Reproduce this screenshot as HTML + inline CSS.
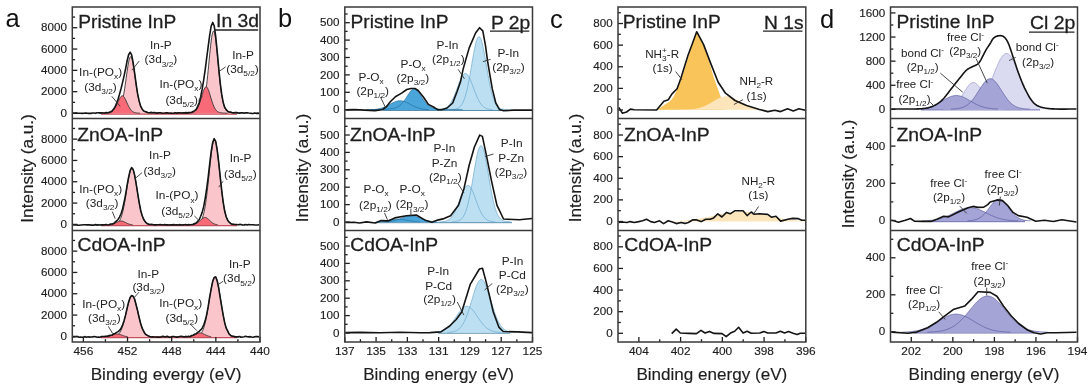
<!DOCTYPE html>
<html><head><meta charset="utf-8"><style>
html,body{margin:0;padding:0;background:#fff;}
svg{display:block;will-change:transform;}
text{font-family:"Liberation Sans",sans-serif;}
</style></head><body>
<svg width="1091" height="389" viewBox="0 0 1091 389">
<rect width="1091" height="389" fill="#fff"/>
<rect x="101.00" y="112.60" width="136.00" height="1.40" fill="#f86a77"/>
<line x1="101.00" y1="114.00" x2="237.00" y2="114.00" stroke="#c4505b" stroke-width="1.3"/>
<rect x="101.00" y="224.20" width="136.00" height="1.40" fill="#f86a77"/>
<line x1="101.00" y1="225.60" x2="237.00" y2="225.60" stroke="#c4505b" stroke-width="1.3"/>
<rect x="101.00" y="336.10" width="136.00" height="1.40" fill="#f86a77"/>
<line x1="101.00" y1="337.50" x2="237.00" y2="337.50" stroke="#c4505b" stroke-width="1.3"/>
<path d="M98.61,113.16 L99.11,113.15 L99.61,113.14 L100.11,113.13 L100.61,113.12 L101.12,113.12 L101.62,113.11 L102.12,113.10 L102.62,113.09 L103.12,113.07 L103.62,113.06 L104.12,113.05 L104.62,113.04 L105.12,113.02 L105.62,113.01 L106.12,112.99 L106.62,112.98 L107.12,112.96 L107.62,112.94 L108.12,112.92 L108.62,112.90 L109.12,112.88 L109.62,112.86 L110.12,112.83 L110.62,112.80 L111.12,112.77 L111.62,112.73 L112.12,112.70 L112.62,112.65 L113.12,112.60 L113.62,112.54 L114.12,112.47 L114.62,112.38 L115.12,112.27 L115.62,112.14 L116.12,111.97 L116.62,111.76 L117.12,111.49 L117.62,111.16 L118.12,110.74 L118.62,110.23 L119.12,109.59 L119.62,108.81 L120.13,107.86 L120.63,106.73 L121.13,105.38 L121.63,103.79 L122.13,101.96 L122.63,99.86 L123.13,97.49 L123.63,94.85 L124.13,91.95 L124.63,88.82 L125.13,85.49 L125.63,82.02 L126.13,78.45 L126.63,74.87 L127.13,71.36 L127.63,68.01 L128.13,64.91 L128.63,62.17 L129.13,59.89 L129.63,58.16 L130.13,57.05 L130.63,56.61 L131.13,56.86 L131.63,57.79 L132.13,59.36 L132.63,61.49 L133.13,64.11 L133.63,67.12 L134.13,70.41 L134.63,73.89 L135.13,77.46 L135.63,81.04 L136.13,84.55 L136.63,87.92 L137.13,91.11 L137.63,94.07 L138.13,96.78 L138.64,99.23 L139.14,101.40 L139.64,103.31 L140.14,104.96 L140.64,106.38 L141.14,107.57 L141.64,108.57 L142.14,109.39 L142.64,110.06 L143.14,110.61 L143.64,111.05 L144.14,111.41 L144.64,111.69 L145.14,111.91 L145.64,112.09 L146.14,112.24 L146.64,112.35 L147.14,112.44 L147.64,112.52 L148.14,112.58 L148.64,112.64 L149.14,112.68 L149.64,112.72 L150.14,112.76 L150.64,112.79 L151.14,112.82 L151.64,112.85 L152.14,112.87 L152.64,112.90 L153.14,112.92 L153.64,112.94 L154.14,112.96 L154.64,112.97 L155.14,112.99 L155.64,113.00 L156.14,113.02 L156.64,113.03 L157.15,113.05 L157.65,113.06 L158.15,113.07 L158.65,113.08 L159.15,113.09 L159.65,113.10 L160.15,113.11 L160.65,113.12 L161.15,113.13 L161.65,113.14 L162.15,113.15 L162.65,113.15 L162.65,113.40 L98.61,113.40 Z" fill="#fac6cc" fill-opacity="1.0" stroke="none"/>
<path d="M98.61,113.16 L99.11,113.15 L99.61,113.14 L100.11,113.13 L100.61,113.12 L101.12,113.12 L101.62,113.11 L102.12,113.10 L102.62,113.09 L103.12,113.07 L103.62,113.06 L104.12,113.05 L104.62,113.04 L105.12,113.02 L105.62,113.01 L106.12,112.99 L106.62,112.98 L107.12,112.96 L107.62,112.94 L108.12,112.92 L108.62,112.90 L109.12,112.88 L109.62,112.86 L110.12,112.83 L110.62,112.80 L111.12,112.77 L111.62,112.73 L112.12,112.70 L112.62,112.65 L113.12,112.60 L113.62,112.54 L114.12,112.47 L114.62,112.38 L115.12,112.27 L115.62,112.14 L116.12,111.97 L116.62,111.76 L117.12,111.49 L117.62,111.16 L118.12,110.74 L118.62,110.23 L119.12,109.59 L119.62,108.81 L120.13,107.86 L120.63,106.73 L121.13,105.38 L121.63,103.79 L122.13,101.96 L122.63,99.86 L123.13,97.49 L123.63,94.85 L124.13,91.95 L124.63,88.82 L125.13,85.49 L125.63,82.02 L126.13,78.45 L126.63,74.87 L127.13,71.36 L127.63,68.01 L128.13,64.91 L128.63,62.17 L129.13,59.89 L129.63,58.16 L130.13,57.05 L130.63,56.61 L131.13,56.86 L131.63,57.79 L132.13,59.36 L132.63,61.49 L133.13,64.11 L133.63,67.12 L134.13,70.41 L134.63,73.89 L135.13,77.46 L135.63,81.04 L136.13,84.55 L136.63,87.92 L137.13,91.11 L137.63,94.07 L138.13,96.78 L138.64,99.23 L139.14,101.40 L139.64,103.31 L140.14,104.96 L140.64,106.38 L141.14,107.57 L141.64,108.57 L142.14,109.39 L142.64,110.06 L143.14,110.61 L143.64,111.05 L144.14,111.41 L144.64,111.69 L145.14,111.91 L145.64,112.09 L146.14,112.24 L146.64,112.35 L147.14,112.44 L147.64,112.52 L148.14,112.58 L148.64,112.64 L149.14,112.68 L149.64,112.72 L150.14,112.76 L150.64,112.79 L151.14,112.82 L151.64,112.85 L152.14,112.87 L152.64,112.90 L153.14,112.92 L153.64,112.94 L154.14,112.96 L154.64,112.97 L155.14,112.99 L155.64,113.00 L156.14,113.02 L156.64,113.03 L157.15,113.05 L157.65,113.06 L158.15,113.07 L158.65,113.08 L159.15,113.09 L159.65,113.10 L160.15,113.11 L160.65,113.12 L161.15,113.13 L161.65,113.14 L162.15,113.15 L162.65,113.15" fill="none" stroke="#333" stroke-width="0.9"/>
<path d="M104.62,113.16 L105.12,113.14 L105.62,113.12 L106.12,113.09 L106.62,113.06 L107.12,113.02 L107.62,112.97 L108.12,112.91 L108.62,112.83 L109.12,112.73 L109.62,112.61 L110.12,112.45 L110.62,112.26 L111.12,112.03 L111.62,111.75 L112.12,111.41 L112.62,111.01 L113.12,110.53 L113.62,109.98 L114.12,109.35 L114.62,108.63 L115.12,107.83 L115.62,106.95 L116.12,105.99 L116.62,104.97 L117.12,103.90 L117.62,102.80 L118.12,101.69 L118.62,100.60 L119.12,99.55 L119.62,98.57 L120.13,97.69 L120.63,96.95 L121.13,96.38 L121.63,95.99 L122.13,95.81 L122.63,95.85 L123.13,96.09 L123.63,96.54 L124.13,97.16 L124.63,97.95 L125.13,98.86 L125.63,99.86 L126.13,100.93 L126.63,102.03 L127.13,103.14 L127.63,104.23 L128.13,105.29 L128.63,106.29 L129.13,107.22 L129.63,108.08 L130.13,108.86 L130.63,109.55 L131.13,110.16 L131.63,110.69 L132.13,111.14 L132.63,111.52 L133.13,111.84 L133.63,112.11 L134.13,112.33 L134.63,112.50 L135.13,112.65 L135.63,112.76 L136.13,112.85 L136.63,112.93 L137.13,112.98 L137.63,113.03 L138.13,113.07 L138.64,113.10 L139.14,113.12 L139.64,113.14 L140.14,113.16 L140.14,113.40 L104.62,113.40 Z" fill="#f86a77" fill-opacity="1.0" stroke="none"/>
<path d="M104.62,113.16 L105.12,113.14 L105.62,113.12 L106.12,113.09 L106.62,113.06 L107.12,113.02 L107.62,112.97 L108.12,112.91 L108.62,112.83 L109.12,112.73 L109.62,112.61 L110.12,112.45 L110.62,112.26 L111.12,112.03 L111.62,111.75 L112.12,111.41 L112.62,111.01 L113.12,110.53 L113.62,109.98 L114.12,109.35 L114.62,108.63 L115.12,107.83 L115.62,106.95 L116.12,105.99 L116.62,104.97 L117.12,103.90 L117.62,102.80 L118.12,101.69 L118.62,100.60 L119.12,99.55 L119.62,98.57 L120.13,97.69 L120.63,96.95 L121.13,96.38 L121.63,95.99 L122.13,95.81 L122.63,95.85 L123.13,96.09 L123.63,96.54 L124.13,97.16 L124.63,97.95 L125.13,98.86 L125.63,99.86 L126.13,100.93 L126.63,102.03 L127.13,103.14 L127.63,104.23 L128.13,105.29 L128.63,106.29 L129.13,107.22 L129.63,108.08 L130.13,108.86 L130.63,109.55 L131.13,110.16 L131.63,110.69 L132.13,111.14 L132.63,111.52 L133.13,111.84 L133.63,112.11 L134.13,112.33 L134.63,112.50 L135.13,112.65 L135.63,112.76 L136.13,112.85 L136.63,112.93 L137.13,112.98 L137.63,113.03 L138.13,113.07 L138.64,113.10 L139.14,113.12 L139.64,113.14 L140.14,113.16" fill="none" stroke="#333" stroke-width="0.9"/>
<path d="M182.16,113.15 L182.66,113.15 L183.16,113.14 L183.66,113.13 L184.16,113.12 L184.66,113.11 L185.16,113.10 L185.66,113.09 L186.16,113.08 L186.66,113.07 L187.16,113.06 L187.66,113.04 L188.16,113.03 L188.66,113.02 L189.16,113.00 L189.66,112.98 L190.16,112.97 L190.66,112.95 L191.16,112.93 L191.66,112.91 L192.16,112.89 L192.66,112.86 L193.16,112.83 L193.66,112.80 L194.17,112.77 L194.67,112.73 L195.17,112.69 L195.67,112.63 L196.17,112.57 L196.67,112.49 L197.17,112.40 L197.67,112.28 L198.17,112.12 L198.67,111.93 L199.17,111.67 L199.67,111.35 L200.17,110.94 L200.67,110.42 L201.17,109.76 L201.67,108.94 L202.17,107.92 L202.67,106.67 L203.17,105.16 L203.67,103.35 L204.17,101.20 L204.67,98.69 L205.17,95.79 L205.67,92.49 L206.17,88.80 L206.67,84.71 L207.17,80.27 L207.67,75.51 L208.17,70.50 L208.67,65.32 L209.17,60.08 L209.67,54.90 L210.17,49.89 L210.67,45.21 L211.17,40.98 L211.67,37.36 L212.17,34.47 L212.68,32.43 L213.18,31.31 L213.68,31.16 L214.18,31.99 L214.68,33.77 L215.18,36.42 L215.68,39.83 L216.18,43.89 L216.68,48.45 L217.18,53.38 L217.68,58.53 L218.18,63.76 L218.68,68.97 L219.18,74.04 L219.68,78.88 L220.18,83.42 L220.68,87.62 L221.18,91.43 L221.68,94.85 L222.18,97.86 L222.68,100.49 L223.18,102.74 L223.68,104.65 L224.18,106.25 L224.68,107.58 L225.18,108.66 L225.68,109.54 L226.18,110.24 L226.68,110.80 L227.18,111.24 L227.68,111.59 L228.18,111.86 L228.68,112.07 L229.18,112.23 L229.68,112.36 L230.18,112.47 L230.68,112.55 L231.18,112.62 L231.69,112.67 L232.19,112.72 L232.69,112.76 L233.19,112.79 L233.69,112.82 L234.19,112.85 L234.69,112.88 L235.19,112.90 L235.69,112.92 L236.19,112.94 L236.69,112.96 L237.19,112.98 L237.69,113.00 L238.19,113.01 L238.69,113.03 L239.19,113.04 L239.69,113.05 L240.19,113.06 L240.69,113.08 L241.19,113.09 L241.69,113.10 L242.19,113.11 L242.69,113.12 L243.19,113.13 L243.69,113.14 L244.19,113.14 L244.69,113.15 L244.69,113.40 L182.16,113.40 Z" fill="#fac6cc" fill-opacity="1.0" stroke="none"/>
<path d="M182.16,113.15 L182.66,113.15 L183.16,113.14 L183.66,113.13 L184.16,113.12 L184.66,113.11 L185.16,113.10 L185.66,113.09 L186.16,113.08 L186.66,113.07 L187.16,113.06 L187.66,113.04 L188.16,113.03 L188.66,113.02 L189.16,113.00 L189.66,112.98 L190.16,112.97 L190.66,112.95 L191.16,112.93 L191.66,112.91 L192.16,112.89 L192.66,112.86 L193.16,112.83 L193.66,112.80 L194.17,112.77 L194.67,112.73 L195.17,112.69 L195.67,112.63 L196.17,112.57 L196.67,112.49 L197.17,112.40 L197.67,112.28 L198.17,112.12 L198.67,111.93 L199.17,111.67 L199.67,111.35 L200.17,110.94 L200.67,110.42 L201.17,109.76 L201.67,108.94 L202.17,107.92 L202.67,106.67 L203.17,105.16 L203.67,103.35 L204.17,101.20 L204.67,98.69 L205.17,95.79 L205.67,92.49 L206.17,88.80 L206.67,84.71 L207.17,80.27 L207.67,75.51 L208.17,70.50 L208.67,65.32 L209.17,60.08 L209.67,54.90 L210.17,49.89 L210.67,45.21 L211.17,40.98 L211.67,37.36 L212.17,34.47 L212.68,32.43 L213.18,31.31 L213.68,31.16 L214.18,31.99 L214.68,33.77 L215.18,36.42 L215.68,39.83 L216.18,43.89 L216.68,48.45 L217.18,53.38 L217.68,58.53 L218.18,63.76 L218.68,68.97 L219.18,74.04 L219.68,78.88 L220.18,83.42 L220.68,87.62 L221.18,91.43 L221.68,94.85 L222.18,97.86 L222.68,100.49 L223.18,102.74 L223.68,104.65 L224.18,106.25 L224.68,107.58 L225.18,108.66 L225.68,109.54 L226.18,110.24 L226.68,110.80 L227.18,111.24 L227.68,111.59 L228.18,111.86 L228.68,112.07 L229.18,112.23 L229.68,112.36 L230.18,112.47 L230.68,112.55 L231.18,112.62 L231.69,112.67 L232.19,112.72 L232.69,112.76 L233.19,112.79 L233.69,112.82 L234.19,112.85 L234.69,112.88 L235.19,112.90 L235.69,112.92 L236.19,112.94 L236.69,112.96 L237.19,112.98 L237.69,113.00 L238.19,113.01 L238.69,113.03 L239.19,113.04 L239.69,113.05 L240.19,113.06 L240.69,113.08 L241.19,113.09 L241.69,113.10 L242.19,113.11 L242.69,113.12 L243.19,113.13 L243.69,113.14 L244.19,113.14 L244.69,113.15" fill="none" stroke="#333" stroke-width="0.9"/>
<path d="M184.66,113.15 L185.16,113.14 L185.66,113.13 L186.16,113.12 L186.66,113.10 L187.16,113.08 L187.66,113.06 L188.16,113.04 L188.66,113.02 L189.16,112.99 L189.66,112.95 L190.16,112.91 L190.66,112.85 L191.16,112.79 L191.66,112.70 L192.16,112.60 L192.66,112.47 L193.16,112.30 L193.66,112.09 L194.17,111.84 L194.67,111.52 L195.17,111.13 L195.67,110.67 L196.17,110.11 L196.67,109.45 L197.17,108.67 L197.67,107.78 L198.17,106.76 L198.67,105.61 L199.17,104.34 L199.67,102.95 L200.17,101.46 L200.67,99.88 L201.17,98.24 L201.67,96.56 L202.17,94.89 L202.67,93.26 L203.17,91.72 L203.67,90.31 L204.17,89.09 L204.67,88.09 L205.17,87.35 L205.67,86.92 L206.17,86.80 L206.67,87.01 L207.17,87.53 L207.67,88.35 L208.17,89.42 L208.67,90.70 L209.17,92.15 L209.67,93.72 L210.17,95.37 L210.67,97.04 L211.17,98.71 L211.67,100.34 L212.17,101.90 L212.68,103.36 L213.18,104.72 L213.68,105.95 L214.18,107.06 L214.68,108.05 L215.18,108.90 L215.68,109.65 L216.18,110.28 L216.68,110.81 L217.18,111.25 L217.68,111.62 L218.18,111.92 L218.68,112.16 L219.18,112.35 L219.68,112.51 L220.18,112.63 L220.68,112.73 L221.18,112.81 L221.68,112.87 L222.18,112.92 L222.68,112.96 L223.18,113.00 L223.68,113.03 L224.18,113.05 L224.68,113.07 L225.18,113.09 L225.68,113.10 L226.18,113.12 L226.68,113.13 L227.18,113.14 L227.68,113.16 L227.68,113.40 L184.66,113.40 Z" fill="#f86a77" fill-opacity="1.0" stroke="none"/>
<path d="M184.66,113.15 L185.16,113.14 L185.66,113.13 L186.16,113.12 L186.66,113.10 L187.16,113.08 L187.66,113.06 L188.16,113.04 L188.66,113.02 L189.16,112.99 L189.66,112.95 L190.16,112.91 L190.66,112.85 L191.16,112.79 L191.66,112.70 L192.16,112.60 L192.66,112.47 L193.16,112.30 L193.66,112.09 L194.17,111.84 L194.67,111.52 L195.17,111.13 L195.67,110.67 L196.17,110.11 L196.67,109.45 L197.17,108.67 L197.67,107.78 L198.17,106.76 L198.67,105.61 L199.17,104.34 L199.67,102.95 L200.17,101.46 L200.67,99.88 L201.17,98.24 L201.67,96.56 L202.17,94.89 L202.67,93.26 L203.17,91.72 L203.67,90.31 L204.17,89.09 L204.67,88.09 L205.17,87.35 L205.67,86.92 L206.17,86.80 L206.67,87.01 L207.17,87.53 L207.67,88.35 L208.17,89.42 L208.67,90.70 L209.17,92.15 L209.67,93.72 L210.17,95.37 L210.67,97.04 L211.17,98.71 L211.67,100.34 L212.17,101.90 L212.68,103.36 L213.18,104.72 L213.68,105.95 L214.18,107.06 L214.68,108.05 L215.18,108.90 L215.68,109.65 L216.18,110.28 L216.68,110.81 L217.18,111.25 L217.68,111.62 L218.18,111.92 L218.68,112.16 L219.18,112.35 L219.68,112.51 L220.18,112.63 L220.68,112.73 L221.18,112.81 L221.68,112.87 L222.18,112.92 L222.68,112.96 L223.18,113.00 L223.68,113.03 L224.18,113.05 L224.68,113.07 L225.18,113.09 L225.68,113.10 L226.18,113.12 L226.68,113.13 L227.18,113.14 L227.68,113.16" fill="none" stroke="#333" stroke-width="0.9"/>
<path d="M73.10,113.30 L74.60,113.23 L76.10,113.00 L77.60,113.27 L79.10,113.24 L80.60,113.18 L82.10,113.41 L83.61,113.20 L85.11,113.12 L86.61,113.01 L88.11,113.41 L89.61,113.27 L91.11,113.38 L92.61,112.93 L94.11,112.97 L95.61,113.34 L97.11,112.74 L98.61,112.71 L100.11,112.86 L101.62,112.83 L103.12,113.04 L104.62,113.05 L106.12,112.63 L107.62,112.74 L109.12,112.36 L110.62,111.78 L112.12,110.95 L113.62,109.10 L115.12,106.69 L116.62,103.08 L118.12,98.98 L119.62,93.85 L121.13,88.31 L122.63,82.16 L124.13,75.69 L125.63,68.56 L127.13,60.75 L128.63,54.71 L130.13,52.24 L131.63,54.89 L133.13,62.61 L134.63,73.09 L136.13,84.06 L137.63,93.89 L139.14,100.90 L140.64,106.14 L142.14,108.91 L143.64,110.88 L145.14,111.41 L146.64,111.92 L148.14,112.68 L149.64,112.70 L151.14,112.38 L152.64,112.72 L154.14,112.48 L155.64,112.88 L157.15,113.11 L158.65,112.81 L160.15,112.75 L161.65,113.07 L163.15,113.20 L164.65,113.07 L166.15,112.70 L167.65,112.83 L169.15,113.21 L170.65,113.13 L172.15,113.22 L173.65,113.23 L175.15,112.78 L176.66,113.13 L178.16,112.88 L179.66,112.92 L181.16,113.05 L182.66,112.68 L184.16,113.00 L185.66,112.63 L187.16,112.87 L188.66,112.59 L190.16,112.56 L191.66,112.26 L193.16,111.37 L194.67,110.59 L196.17,109.32 L197.67,106.35 L199.17,102.72 L200.67,96.90 L202.17,89.14 L203.67,80.11 L205.17,69.93 L206.67,57.98 L208.17,46.63 L209.67,35.31 L211.17,26.08 L212.67,22.44 L214.18,25.73 L215.68,36.29 L217.18,51.43 L218.68,67.63 L220.18,82.77 L221.68,94.22 L223.18,102.38 L224.68,107.24 L226.18,109.65 L227.68,111.32 L229.18,111.94 L230.68,112.11 L232.19,112.71 L233.69,112.85 L235.19,112.49 L236.69,112.62 L238.19,113.02 L239.69,113.11 L241.19,112.82 L242.69,112.74 L244.19,113.22 L245.69,112.80 L247.19,112.86 L248.69,113.05 L250.20,113.18 L251.70,113.39 L253.20,113.45 L254.70,112.91 L256.20,113.35 L257.70,113.09 L259.20,113.37" fill="none" stroke="#141414" stroke-width="1.6" stroke-linejoin="round"/>
<path d="M109.12,224.76 L109.62,224.74 L110.12,224.73 L110.62,224.71 L111.12,224.69 L111.62,224.67 L112.12,224.64 L112.62,224.60 L113.12,224.56 L113.62,224.50 L114.12,224.43 L114.62,224.34 L115.12,224.22 L115.62,224.07 L116.12,223.89 L116.62,223.66 L117.12,223.37 L117.62,223.01 L118.12,222.57 L118.62,222.03 L119.12,221.38 L119.62,220.60 L120.13,219.67 L120.63,218.58 L121.13,217.31 L121.63,215.84 L122.13,214.17 L122.63,212.28 L123.13,210.18 L123.63,207.85 L124.13,205.32 L124.63,202.58 L125.13,199.68 L125.63,196.64 L126.13,193.49 L126.63,190.28 L127.13,187.06 L127.63,183.90 L128.13,180.86 L128.63,178.00 L129.13,175.38 L129.63,173.08 L130.13,171.15 L130.63,169.65 L131.13,168.61 L131.63,168.07 L132.13,168.06 L132.63,168.55 L133.13,169.55 L133.63,171.02 L134.13,172.92 L134.63,175.20 L135.13,177.79 L135.63,180.64 L136.13,183.67 L136.63,186.83 L137.13,190.04 L137.63,193.25 L138.13,196.41 L138.64,199.46 L139.14,202.38 L139.64,205.12 L140.14,207.67 L140.64,210.01 L141.14,212.14 L141.64,214.04 L142.14,215.73 L142.64,217.21 L143.14,218.49 L143.64,219.60 L144.14,220.54 L144.64,221.33 L145.14,221.99 L145.64,222.53 L146.14,222.98 L146.64,223.34 L147.14,223.64 L147.64,223.87 L148.14,224.06 L148.64,224.21 L149.14,224.33 L149.64,224.42 L150.14,224.49 L150.64,224.55 L151.14,224.60 L151.64,224.64 L152.14,224.67 L152.64,224.69 L153.14,224.71 L153.64,224.73 L154.14,224.74 L154.64,224.75 L154.64,225.00 L109.12,225.00 Z" fill="#fac6cc" fill-opacity="1.0" stroke="none"/>
<path d="M109.12,224.76 L109.62,224.74 L110.12,224.73 L110.62,224.71 L111.12,224.69 L111.62,224.67 L112.12,224.64 L112.62,224.60 L113.12,224.56 L113.62,224.50 L114.12,224.43 L114.62,224.34 L115.12,224.22 L115.62,224.07 L116.12,223.89 L116.62,223.66 L117.12,223.37 L117.62,223.01 L118.12,222.57 L118.62,222.03 L119.12,221.38 L119.62,220.60 L120.13,219.67 L120.63,218.58 L121.13,217.31 L121.63,215.84 L122.13,214.17 L122.63,212.28 L123.13,210.18 L123.63,207.85 L124.13,205.32 L124.63,202.58 L125.13,199.68 L125.63,196.64 L126.13,193.49 L126.63,190.28 L127.13,187.06 L127.63,183.90 L128.13,180.86 L128.63,178.00 L129.13,175.38 L129.63,173.08 L130.13,171.15 L130.63,169.65 L131.13,168.61 L131.63,168.07 L132.13,168.06 L132.63,168.55 L133.13,169.55 L133.63,171.02 L134.13,172.92 L134.63,175.20 L135.13,177.79 L135.63,180.64 L136.13,183.67 L136.63,186.83 L137.13,190.04 L137.63,193.25 L138.13,196.41 L138.64,199.46 L139.14,202.38 L139.64,205.12 L140.14,207.67 L140.64,210.01 L141.14,212.14 L141.64,214.04 L142.14,215.73 L142.64,217.21 L143.14,218.49 L143.64,219.60 L144.14,220.54 L144.64,221.33 L145.14,221.99 L145.64,222.53 L146.14,222.98 L146.64,223.34 L147.14,223.64 L147.64,223.87 L148.14,224.06 L148.64,224.21 L149.14,224.33 L149.64,224.42 L150.14,224.49 L150.64,224.55 L151.14,224.60 L151.64,224.64 L152.14,224.67 L152.64,224.69 L153.14,224.71 L153.64,224.73 L154.14,224.74 L154.64,224.75" fill="none" stroke="#333" stroke-width="0.9"/>
<path d="M109.62,224.76 L110.12,224.70 L110.62,224.63 L111.12,224.54 L111.62,224.44 L112.12,224.32 L112.62,224.18 L113.12,224.01 L113.62,223.83 L114.12,223.63 L114.62,223.42 L115.12,223.18 L115.62,222.94 L116.12,222.69 L116.62,222.43 L117.12,222.17 L117.62,221.93 L118.12,221.70 L118.62,221.49 L119.12,221.32 L119.62,221.17 L120.13,221.07 L120.63,221.01 L121.13,221.00 L121.63,221.04 L122.13,221.12 L122.63,221.24 L123.13,221.40 L123.63,221.59 L124.13,221.81 L124.63,222.05 L125.13,222.30 L125.63,222.56 L126.13,222.81 L126.63,223.06 L127.13,223.30 L127.63,223.53 L128.13,223.74 L128.63,223.93 L129.13,224.10 L129.63,224.25 L130.13,224.38 L130.63,224.49 L131.13,224.59 L131.63,224.67 L132.13,224.73 L132.63,224.79 L132.63,225.00 L109.62,225.00 Z" fill="#f86a77" fill-opacity="1.0" stroke="none"/>
<path d="M109.62,224.76 L110.12,224.70 L110.62,224.63 L111.12,224.54 L111.62,224.44 L112.12,224.32 L112.62,224.18 L113.12,224.01 L113.62,223.83 L114.12,223.63 L114.62,223.42 L115.12,223.18 L115.62,222.94 L116.12,222.69 L116.62,222.43 L117.12,222.17 L117.62,221.93 L118.12,221.70 L118.62,221.49 L119.12,221.32 L119.62,221.17 L120.13,221.07 L120.63,221.01 L121.13,221.00 L121.63,221.04 L122.13,221.12 L122.63,221.24 L123.13,221.40 L123.63,221.59 L124.13,221.81 L124.63,222.05 L125.13,222.30 L125.63,222.56 L126.13,222.81 L126.63,223.06 L127.13,223.30 L127.63,223.53 L128.13,223.74 L128.63,223.93 L129.13,224.10 L129.63,224.25 L130.13,224.38 L130.63,224.49 L131.13,224.59 L131.63,224.67 L132.13,224.73 L132.63,224.79" fill="none" stroke="#333" stroke-width="0.9"/>
<path d="M186.66,224.75 L187.16,224.75 L187.66,224.74 L188.16,224.73 L188.66,224.72 L189.16,224.70 L189.66,224.69 L190.16,224.68 L190.66,224.67 L191.16,224.65 L191.66,224.63 L192.16,224.62 L192.66,224.59 L193.16,224.57 L193.66,224.54 L194.17,224.50 L194.67,224.46 L195.17,224.41 L195.67,224.34 L196.17,224.26 L196.67,224.15 L197.17,224.02 L197.67,223.85 L198.17,223.64 L198.67,223.37 L199.17,223.03 L199.67,222.61 L200.17,222.08 L200.67,221.43 L201.17,220.64 L201.67,219.69 L202.17,218.54 L202.67,217.17 L203.17,215.57 L203.67,213.69 L204.17,211.52 L204.67,209.05 L205.17,206.26 L205.67,203.13 L206.17,199.68 L206.67,195.91 L207.17,191.85 L207.67,187.52 L208.17,182.97 L208.67,178.26 L209.17,173.45 L209.67,168.63 L210.17,163.87 L210.67,159.28 L211.17,154.95 L211.67,150.99 L212.17,147.48 L212.68,144.52 L213.18,142.18 L213.68,140.55 L214.18,139.66 L214.68,139.55 L215.18,140.21 L215.68,141.63 L216.18,143.76 L216.68,146.54 L217.18,149.90 L217.68,153.74 L218.18,157.97 L218.68,162.49 L219.18,167.21 L219.68,172.02 L220.18,176.84 L220.68,181.59 L221.18,186.19 L221.68,190.59 L222.18,194.74 L222.68,198.60 L223.18,202.14 L223.68,205.36 L224.18,208.26 L224.68,210.82 L225.18,213.08 L225.68,215.04 L226.18,216.72 L226.68,218.16 L227.18,219.37 L227.68,220.38 L228.18,221.22 L228.68,221.90 L229.18,222.46 L229.68,222.91 L230.18,223.28 L230.68,223.56 L231.18,223.79 L231.69,223.97 L232.19,224.12 L232.69,224.23 L233.19,224.32 L233.69,224.39 L234.19,224.45 L234.69,224.49 L235.19,224.53 L235.69,224.56 L236.19,224.59 L236.69,224.61 L237.19,224.63 L237.69,224.65 L238.19,224.66 L238.69,224.68 L239.19,224.69 L239.69,224.70 L240.19,224.71 L240.69,224.72 L241.19,224.73 L241.69,224.74 L242.19,224.75 L242.19,225.00 L186.66,225.00 Z" fill="#fac6cc" fill-opacity="1.0" stroke="none"/>
<path d="M186.66,224.75 L187.16,224.75 L187.66,224.74 L188.16,224.73 L188.66,224.72 L189.16,224.70 L189.66,224.69 L190.16,224.68 L190.66,224.67 L191.16,224.65 L191.66,224.63 L192.16,224.62 L192.66,224.59 L193.16,224.57 L193.66,224.54 L194.17,224.50 L194.67,224.46 L195.17,224.41 L195.67,224.34 L196.17,224.26 L196.67,224.15 L197.17,224.02 L197.67,223.85 L198.17,223.64 L198.67,223.37 L199.17,223.03 L199.67,222.61 L200.17,222.08 L200.67,221.43 L201.17,220.64 L201.67,219.69 L202.17,218.54 L202.67,217.17 L203.17,215.57 L203.67,213.69 L204.17,211.52 L204.67,209.05 L205.17,206.26 L205.67,203.13 L206.17,199.68 L206.67,195.91 L207.17,191.85 L207.67,187.52 L208.17,182.97 L208.67,178.26 L209.17,173.45 L209.67,168.63 L210.17,163.87 L210.67,159.28 L211.17,154.95 L211.67,150.99 L212.17,147.48 L212.68,144.52 L213.18,142.18 L213.68,140.55 L214.18,139.66 L214.68,139.55 L215.18,140.21 L215.68,141.63 L216.18,143.76 L216.68,146.54 L217.18,149.90 L217.68,153.74 L218.18,157.97 L218.68,162.49 L219.18,167.21 L219.68,172.02 L220.18,176.84 L220.68,181.59 L221.18,186.19 L221.68,190.59 L222.18,194.74 L222.68,198.60 L223.18,202.14 L223.68,205.36 L224.18,208.26 L224.68,210.82 L225.18,213.08 L225.68,215.04 L226.18,216.72 L226.68,218.16 L227.18,219.37 L227.68,220.38 L228.18,221.22 L228.68,221.90 L229.18,222.46 L229.68,222.91 L230.18,223.28 L230.68,223.56 L231.18,223.79 L231.69,223.97 L232.19,224.12 L232.69,224.23 L233.19,224.32 L233.69,224.39 L234.19,224.45 L234.69,224.49 L235.19,224.53 L235.69,224.56 L236.19,224.59 L236.69,224.61 L237.19,224.63 L237.69,224.65 L238.19,224.66 L238.69,224.68 L239.19,224.69 L239.69,224.70 L240.19,224.71 L240.69,224.72 L241.19,224.73 L241.69,224.74 L242.19,224.75" fill="none" stroke="#333" stroke-width="0.9"/>
<path d="M192.16,224.77 L192.66,224.71 L193.16,224.64 L193.66,224.54 L194.17,224.43 L194.67,224.29 L195.17,224.12 L195.67,223.93 L196.17,223.70 L196.67,223.43 L197.17,223.12 L197.67,222.78 L198.17,222.40 L198.67,221.99 L199.17,221.55 L199.67,221.09 L200.17,220.62 L200.67,220.14 L201.17,219.66 L201.67,219.20 L202.17,218.78 L202.67,218.39 L203.17,218.07 L203.67,217.80 L204.17,217.62 L204.67,217.52 L205.17,217.51 L205.67,217.58 L206.17,217.74 L206.67,217.98 L207.17,218.28 L207.67,218.65 L208.17,219.06 L208.67,219.51 L209.17,219.98 L209.67,220.46 L210.17,220.94 L210.67,221.41 L211.17,221.86 L211.67,222.28 L212.17,222.67 L212.68,223.02 L213.18,223.34 L213.68,223.61 L214.18,223.86 L214.68,224.07 L215.18,224.24 L215.68,224.39 L216.18,224.51 L216.68,224.61 L217.18,224.69 L217.68,224.75 L217.68,225.00 L192.16,225.00 Z" fill="#f86a77" fill-opacity="1.0" stroke="none"/>
<path d="M192.16,224.77 L192.66,224.71 L193.16,224.64 L193.66,224.54 L194.17,224.43 L194.67,224.29 L195.17,224.12 L195.67,223.93 L196.17,223.70 L196.67,223.43 L197.17,223.12 L197.67,222.78 L198.17,222.40 L198.67,221.99 L199.17,221.55 L199.67,221.09 L200.17,220.62 L200.67,220.14 L201.17,219.66 L201.67,219.20 L202.17,218.78 L202.67,218.39 L203.17,218.07 L203.67,217.80 L204.17,217.62 L204.67,217.52 L205.17,217.51 L205.67,217.58 L206.17,217.74 L206.67,217.98 L207.17,218.28 L207.67,218.65 L208.17,219.06 L208.67,219.51 L209.17,219.98 L209.67,220.46 L210.17,220.94 L210.67,221.41 L211.17,221.86 L211.67,222.28 L212.17,222.67 L212.68,223.02 L213.18,223.34 L213.68,223.61 L214.18,223.86 L214.68,224.07 L215.18,224.24 L215.68,224.39 L216.18,224.51 L216.68,224.61 L217.18,224.69 L217.68,224.75" fill="none" stroke="#333" stroke-width="0.9"/>
<path d="M73.10,224.96 L74.60,224.85 L76.10,224.84 L77.60,225.15 L79.10,225.23 L80.60,225.01 L82.10,225.07 L83.61,224.74 L85.11,224.81 L86.61,224.86 L88.11,224.88 L89.61,224.81 L91.11,225.11 L92.61,224.93 L94.11,225.09 L95.61,224.63 L97.11,225.13 L98.61,224.66 L100.11,225.10 L101.62,224.71 L103.12,224.90 L104.62,224.84 L106.12,224.53 L107.62,224.96 L109.12,224.81 L110.62,224.07 L112.12,223.93 L113.62,223.56 L115.12,222.09 L116.62,220.80 L118.12,219.48 L119.62,216.79 L121.13,213.50 L122.63,208.61 L124.13,202.03 L125.63,194.37 L127.13,185.22 L128.63,177.16 L130.13,170.70 L131.63,167.52 L133.13,169.41 L134.63,175.13 L136.13,183.53 L137.63,193.20 L139.14,202.39 L140.64,210.24 L142.14,215.53 L143.64,219.26 L145.14,221.64 L146.64,223.19 L148.14,224.09 L149.64,224.44 L151.14,224.42 L152.64,224.52 L154.14,224.91 L155.64,224.87 L157.15,224.81 L158.65,224.74 L160.15,224.58 L161.65,224.77 L163.15,225.07 L164.65,224.59 L166.15,224.84 L167.65,224.78 L169.15,224.96 L170.65,224.84 L172.15,224.86 L173.65,224.63 L175.15,225.02 L176.66,224.75 L178.16,224.96 L179.66,224.64 L181.16,225.02 L182.66,224.86 L184.16,224.80 L185.66,224.61 L187.16,224.93 L188.66,224.64 L190.16,224.71 L191.66,224.54 L193.16,224.18 L194.67,223.44 L196.17,222.93 L197.67,221.33 L199.17,219.75 L200.67,216.29 L202.17,212.37 L203.67,206.65 L205.17,198.59 L206.67,188.61 L208.17,177.31 L209.67,164.21 L211.17,151.63 L212.67,142.61 L214.18,138.66 L215.68,141.29 L217.18,149.84 L218.68,162.24 L220.18,176.45 L221.68,190.22 L223.18,202.08 L224.68,211.06 L226.18,216.79 L227.68,220.17 L229.18,222.23 L230.68,223.45 L232.19,224.25 L233.69,224.35 L235.19,224.52 L236.69,224.51 L238.19,224.78 L239.69,224.41 L241.19,224.47 L242.69,224.94 L244.19,224.89 L245.69,224.56 L247.19,224.93 L248.69,224.55 L250.20,224.82 L251.70,224.73 L253.20,224.73 L254.70,225.04 L256.20,225.00 L257.70,225.03 L259.20,224.78" fill="none" stroke="#141414" stroke-width="1.6" stroke-linejoin="round"/>
<path d="M112.12,336.68 L112.62,336.64 L113.12,336.59 L113.62,336.53 L114.12,336.45 L114.62,336.36 L115.12,336.23 L115.62,336.08 L116.12,335.89 L116.62,335.65 L117.12,335.37 L117.62,335.03 L118.12,334.61 L118.62,334.12 L119.12,333.54 L119.62,332.87 L120.13,332.08 L120.63,331.18 L121.13,330.15 L121.63,328.99 L122.13,327.69 L122.63,326.26 L123.13,324.68 L123.63,322.98 L124.13,321.15 L124.63,319.21 L125.13,317.18 L125.63,315.07 L126.13,312.92 L126.63,310.75 L127.13,308.59 L127.63,306.48 L128.13,304.46 L128.63,302.57 L129.13,300.83 L129.63,299.30 L130.13,297.99 L130.63,296.95 L131.13,296.19 L131.63,295.74 L132.13,295.60 L132.63,295.78 L133.13,296.27 L133.63,297.07 L134.13,298.14 L134.63,299.48 L135.13,301.04 L135.63,302.80 L136.13,304.71 L136.63,306.74 L137.13,308.86 L137.63,311.02 L138.13,313.19 L138.64,315.34 L139.14,317.44 L139.64,319.46 L140.14,321.39 L140.64,323.20 L141.14,324.89 L141.64,326.44 L142.14,327.86 L142.64,329.14 L143.14,330.29 L143.64,331.30 L144.14,332.19 L144.64,332.96 L145.14,333.62 L145.64,334.19 L146.14,334.67 L146.64,335.07 L147.14,335.41 L147.64,335.69 L148.14,335.91 L148.64,336.10 L149.14,336.25 L149.64,336.37 L150.14,336.46 L150.64,336.54 L151.14,336.60 L151.64,336.65 L152.14,336.68 L152.14,336.90 L112.12,336.90 Z" fill="#fac6cc" fill-opacity="1.0" stroke="none"/>
<path d="M112.12,336.68 L112.62,336.64 L113.12,336.59 L113.62,336.53 L114.12,336.45 L114.62,336.36 L115.12,336.23 L115.62,336.08 L116.12,335.89 L116.62,335.65 L117.12,335.37 L117.62,335.03 L118.12,334.61 L118.62,334.12 L119.12,333.54 L119.62,332.87 L120.13,332.08 L120.63,331.18 L121.13,330.15 L121.63,328.99 L122.13,327.69 L122.63,326.26 L123.13,324.68 L123.63,322.98 L124.13,321.15 L124.63,319.21 L125.13,317.18 L125.63,315.07 L126.13,312.92 L126.63,310.75 L127.13,308.59 L127.63,306.48 L128.13,304.46 L128.63,302.57 L129.13,300.83 L129.63,299.30 L130.13,297.99 L130.63,296.95 L131.13,296.19 L131.63,295.74 L132.13,295.60 L132.63,295.78 L133.13,296.27 L133.63,297.07 L134.13,298.14 L134.63,299.48 L135.13,301.04 L135.63,302.80 L136.13,304.71 L136.63,306.74 L137.13,308.86 L137.63,311.02 L138.13,313.19 L138.64,315.34 L139.14,317.44 L139.64,319.46 L140.14,321.39 L140.64,323.20 L141.14,324.89 L141.64,326.44 L142.14,327.86 L142.64,329.14 L143.14,330.29 L143.64,331.30 L144.14,332.19 L144.64,332.96 L145.14,333.62 L145.64,334.19 L146.14,334.67 L146.64,335.07 L147.14,335.41 L147.64,335.69 L148.14,335.91 L148.64,336.10 L149.14,336.25 L149.64,336.37 L150.14,336.46 L150.64,336.54 L151.14,336.60 L151.64,336.65 L152.14,336.68" fill="none" stroke="#333" stroke-width="0.9"/>
<path d="M106.12,336.69 L106.62,336.63 L107.12,336.57 L107.62,336.49 L108.12,336.40 L108.62,336.29 L109.12,336.17 L109.62,336.03 L110.12,335.88 L110.62,335.72 L111.12,335.54 L111.62,335.35 L112.12,335.16 L112.62,334.97 L113.12,334.78 L113.62,334.59 L114.12,334.42 L114.62,334.27 L115.12,334.14 L115.62,334.03 L116.12,333.95 L116.62,333.91 L117.12,333.90 L117.62,333.93 L118.12,333.99 L118.62,334.08 L119.12,334.20 L119.62,334.34 L120.13,334.51 L120.63,334.68 L121.13,334.87 L121.63,335.07 L122.13,335.26 L122.63,335.45 L123.13,335.63 L123.63,335.80 L124.13,335.96 L124.63,336.10 L125.13,336.23 L125.63,336.35 L126.13,336.44 L126.63,336.53 L127.13,336.60 L127.63,336.66 L127.63,336.90 L106.12,336.90 Z" fill="#f86a77" fill-opacity="1.0" stroke="none"/>
<path d="M106.12,336.69 L106.62,336.63 L107.12,336.57 L107.62,336.49 L108.12,336.40 L108.62,336.29 L109.12,336.17 L109.62,336.03 L110.12,335.88 L110.62,335.72 L111.12,335.54 L111.62,335.35 L112.12,335.16 L112.62,334.97 L113.12,334.78 L113.62,334.59 L114.12,334.42 L114.62,334.27 L115.12,334.14 L115.62,334.03 L116.12,333.95 L116.62,333.91 L117.12,333.90 L117.62,333.93 L118.12,333.99 L118.62,334.08 L119.12,334.20 L119.62,334.34 L120.13,334.51 L120.63,334.68 L121.13,334.87 L121.63,335.07 L122.13,335.26 L122.63,335.45 L123.13,335.63 L123.63,335.80 L124.13,335.96 L124.63,336.10 L125.13,336.23 L125.63,336.35 L126.13,336.44 L126.63,336.53 L127.13,336.60 L127.63,336.66" fill="none" stroke="#333" stroke-width="0.9"/>
<path d="M193.66,336.68 L194.17,336.65 L194.67,336.61 L195.17,336.57 L195.67,336.51 L196.17,336.43 L196.67,336.33 L197.17,336.21 L197.67,336.06 L198.17,335.86 L198.67,335.63 L199.17,335.33 L199.67,334.97 L200.17,334.53 L200.67,334.00 L201.17,333.37 L201.67,332.61 L202.17,331.73 L202.67,330.69 L203.17,329.50 L203.67,328.13 L204.17,326.57 L204.67,324.82 L205.17,322.87 L205.67,320.71 L206.17,318.36 L206.67,315.82 L207.17,313.10 L207.67,310.23 L208.17,307.22 L208.67,304.12 L209.17,300.97 L209.67,297.80 L210.17,294.66 L210.67,291.62 L211.17,288.72 L211.67,286.01 L212.17,283.56 L212.68,281.41 L213.18,279.61 L213.68,278.21 L214.18,277.23 L214.68,276.70 L215.18,276.63 L215.68,277.02 L216.18,277.87 L216.68,279.16 L217.18,280.84 L217.68,282.89 L218.18,285.26 L218.68,287.89 L219.18,290.75 L219.68,293.75 L220.18,296.87 L220.68,300.03 L221.18,303.20 L221.68,306.32 L222.18,309.35 L222.68,312.27 L223.18,315.04 L223.68,317.63 L224.18,320.04 L224.68,322.25 L225.18,324.27 L225.68,326.08 L226.18,327.69 L226.68,329.11 L227.18,330.36 L227.68,331.44 L228.18,332.37 L228.68,333.16 L229.18,333.83 L229.68,334.38 L230.18,334.85 L230.68,335.23 L231.18,335.54 L231.69,335.80 L232.19,336.00 L232.69,336.17 L233.19,336.30 L233.69,336.40 L234.19,336.48 L234.69,336.55 L235.19,336.60 L235.69,336.64 L236.19,336.67 L236.19,336.90 L193.66,336.90 Z" fill="#fac6cc" fill-opacity="1.0" stroke="none"/>
<path d="M193.66,336.68 L194.17,336.65 L194.67,336.61 L195.17,336.57 L195.67,336.51 L196.17,336.43 L196.67,336.33 L197.17,336.21 L197.67,336.06 L198.17,335.86 L198.67,335.63 L199.17,335.33 L199.67,334.97 L200.17,334.53 L200.67,334.00 L201.17,333.37 L201.67,332.61 L202.17,331.73 L202.67,330.69 L203.17,329.50 L203.67,328.13 L204.17,326.57 L204.67,324.82 L205.17,322.87 L205.67,320.71 L206.17,318.36 L206.67,315.82 L207.17,313.10 L207.67,310.23 L208.17,307.22 L208.67,304.12 L209.17,300.97 L209.67,297.80 L210.17,294.66 L210.67,291.62 L211.17,288.72 L211.67,286.01 L212.17,283.56 L212.68,281.41 L213.18,279.61 L213.68,278.21 L214.18,277.23 L214.68,276.70 L215.18,276.63 L215.68,277.02 L216.18,277.87 L216.68,279.16 L217.18,280.84 L217.68,282.89 L218.18,285.26 L218.68,287.89 L219.18,290.75 L219.68,293.75 L220.18,296.87 L220.68,300.03 L221.18,303.20 L221.68,306.32 L222.18,309.35 L222.68,312.27 L223.18,315.04 L223.68,317.63 L224.18,320.04 L224.68,322.25 L225.18,324.27 L225.68,326.08 L226.18,327.69 L226.68,329.11 L227.18,330.36 L227.68,331.44 L228.18,332.37 L228.68,333.16 L229.18,333.83 L229.68,334.38 L230.18,334.85 L230.68,335.23 L231.18,335.54 L231.69,335.80 L232.19,336.00 L232.69,336.17 L233.19,336.30 L233.69,336.40 L234.19,336.48 L234.69,336.55 L235.19,336.60 L235.69,336.64 L236.19,336.67" fill="none" stroke="#333" stroke-width="0.9"/>
<path d="M188.66,336.67 L189.16,336.61 L189.66,336.54 L190.16,336.45 L190.66,336.34 L191.16,336.22 L191.66,336.07 L192.16,335.91 L192.66,335.73 L193.16,335.52 L193.66,335.30 L194.17,335.07 L194.67,334.82 L195.17,334.56 L195.67,334.30 L196.17,334.05 L196.67,333.80 L197.17,333.58 L197.67,333.37 L198.17,333.20 L198.67,333.06 L199.17,332.96 L199.67,332.91 L200.17,332.90 L200.67,332.94 L201.17,333.02 L201.67,333.15 L202.17,333.31 L202.67,333.51 L203.17,333.73 L203.67,333.97 L204.17,334.22 L204.67,334.48 L205.17,334.73 L205.67,334.99 L206.17,335.23 L206.67,335.45 L207.17,335.66 L207.67,335.85 L208.17,336.02 L208.67,336.17 L209.17,336.30 L209.67,336.42 L210.17,336.51 L210.67,336.59 L211.17,336.65 L211.17,336.90 L188.66,336.90 Z" fill="#f86a77" fill-opacity="1.0" stroke="none"/>
<path d="M188.66,336.67 L189.16,336.61 L189.66,336.54 L190.16,336.45 L190.66,336.34 L191.16,336.22 L191.66,336.07 L192.16,335.91 L192.66,335.73 L193.16,335.52 L193.66,335.30 L194.17,335.07 L194.67,334.82 L195.17,334.56 L195.67,334.30 L196.17,334.05 L196.67,333.80 L197.17,333.58 L197.67,333.37 L198.17,333.20 L198.67,333.06 L199.17,332.96 L199.67,332.91 L200.17,332.90 L200.67,332.94 L201.17,333.02 L201.67,333.15 L202.17,333.31 L202.67,333.51 L203.17,333.73 L203.67,333.97 L204.17,334.22 L204.67,334.48 L205.17,334.73 L205.67,334.99 L206.17,335.23 L206.67,335.45 L207.17,335.66 L207.67,335.85 L208.17,336.02 L208.67,336.17 L209.17,336.30 L209.67,336.42 L210.17,336.51 L210.67,336.59 L211.17,336.65" fill="none" stroke="#333" stroke-width="0.9"/>
<path d="M73.10,337.12 L74.60,336.69 L76.10,336.69 L77.60,336.53 L79.10,337.19 L80.60,337.14 L82.10,337.22 L83.61,337.14 L85.11,336.63 L86.61,337.23 L88.11,336.83 L89.61,337.15 L91.11,337.06 L92.61,336.92 L94.11,336.51 L95.61,336.74 L97.11,337.33 L98.61,337.06 L100.11,337.18 L101.62,336.44 L103.12,336.47 L104.62,336.41 L106.12,336.28 L107.62,336.15 L109.12,335.60 L110.62,335.27 L112.12,335.18 L113.62,333.87 L115.12,333.47 L116.62,332.40 L118.12,331.63 L119.62,330.37 L121.13,328.25 L122.63,324.86 L124.13,320.38 L125.63,314.89 L127.13,307.96 L128.63,302.11 L130.13,297.43 L131.63,295.50 L133.13,296.19 L134.63,299.21 L136.13,305.05 L137.63,310.82 L139.14,317.48 L140.64,323.50 L142.14,328.14 L143.64,331.25 L145.14,333.85 L146.64,335.09 L148.14,335.79 L149.64,336.45 L151.14,336.95 L152.64,336.70 L154.14,337.01 L155.64,337.03 L157.15,337.09 L158.65,336.93 L160.15,337.23 L161.65,336.65 L163.15,336.36 L164.65,336.92 L166.15,336.60 L167.65,336.38 L169.15,337.27 L170.65,337.18 L172.15,336.51 L173.65,336.48 L175.15,336.67 L176.66,337.15 L178.16,336.89 L179.66,336.43 L181.16,336.41 L182.66,336.48 L184.16,337.07 L185.66,336.39 L187.16,336.80 L188.66,336.33 L190.16,336.67 L191.66,335.43 L193.16,335.20 L194.67,334.29 L196.17,333.85 L197.67,332.40 L199.17,331.30 L200.67,329.94 L202.17,328.27 L203.67,324.96 L205.17,320.85 L206.67,314.57 L208.17,306.67 L209.67,297.12 L211.17,288.85 L212.67,281.56 L214.18,277.60 L215.68,276.85 L217.18,280.76 L218.68,287.83 L220.18,297.31 L221.68,306.36 L223.18,315.18 L224.68,322.65 L226.18,328.17 L227.68,330.93 L229.18,334.19 L230.68,335.42 L232.19,336.23 L233.69,336.30 L235.19,337.01 L236.69,336.72 L238.19,336.87 L239.69,336.43 L241.19,337.27 L242.69,336.96 L244.19,336.81 L245.69,336.34 L247.19,336.80 L248.69,336.85 L250.20,336.66 L251.70,337.04 L253.20,337.31 L254.70,336.84 L256.20,336.44 L257.70,336.61 L259.20,337.10" fill="none" stroke="#141414" stroke-width="1.6" stroke-linejoin="round"/>
<rect x="383.00" y="109.30" width="129.00" height="1.20" fill="#bce0f1"/>
<line x1="383.00" y1="110.50" x2="512.00" y2="110.50" stroke="#5b8fae" stroke-width="1.0"/>
<rect x="375.00" y="221.50" width="137.00" height="1.20" fill="#bce0f1"/>
<line x1="375.00" y1="222.70" x2="512.00" y2="222.70" stroke="#5b8fae" stroke-width="1.0"/>
<rect x="438.00" y="332.00" width="72.00" height="1.20" fill="#bce0f1"/>
<line x1="438.00" y1="333.20" x2="510.00" y2="333.20" stroke="#5b8fae" stroke-width="1.0"/>
<path d="M438.15,109.66 L438.65,109.63 L439.15,109.60 L439.65,109.55 L440.15,109.50 L440.65,109.44 L441.15,109.37 L441.65,109.28 L442.15,109.19 L442.65,109.07 L443.15,108.94 L443.65,108.79 L444.15,108.61 L444.65,108.41 L445.15,108.18 L445.65,107.92 L446.15,107.63 L446.65,107.29 L447.15,106.92 L447.65,106.50 L448.16,106.04 L448.66,105.52 L449.16,104.96 L449.66,104.33 L450.16,103.65 L450.66,102.91 L451.16,102.11 L451.66,101.25 L452.16,100.32 L452.66,99.34 L453.16,98.29 L453.66,97.19 L454.16,96.03 L454.66,94.82 L455.16,93.57 L455.66,92.28 L456.16,90.96 L456.66,89.62 L457.16,88.26 L457.66,86.89 L458.16,85.53 L458.66,84.19 L459.16,82.88 L459.66,81.61 L460.16,80.38 L460.66,79.23 L461.16,78.14 L461.66,77.15 L462.16,76.25 L462.66,75.46 L463.16,74.79 L463.66,74.25 L464.16,73.83 L464.66,73.55 L465.16,73.42 L465.66,73.42 L466.16,73.57 L466.67,73.85 L467.17,74.27 L467.67,74.83 L468.17,75.51 L468.67,76.30 L469.17,77.20 L469.67,78.20 L470.17,79.29 L470.67,80.45 L471.17,81.68 L471.67,82.95 L472.17,84.27 L472.67,85.61 L473.17,86.97 L473.67,88.34 L474.17,89.69 L474.67,91.04 L475.17,92.36 L475.67,93.65 L476.17,94.89 L476.67,96.10 L477.17,97.25 L477.67,98.35 L478.17,99.39 L478.67,100.38 L479.17,101.30 L479.67,102.16 L480.17,102.95 L480.67,103.69 L481.17,104.37 L481.67,104.99 L482.17,105.55 L482.67,106.07 L483.17,106.53 L483.67,106.94 L484.17,107.31 L484.67,107.64 L485.18,107.94 L485.68,108.20 L486.18,108.42 L486.68,108.62 L487.18,108.80 L487.68,108.95 L488.18,109.08 L488.68,109.19 L489.18,109.29 L489.68,109.37 L490.18,109.44 L490.68,109.50 L491.18,109.55 L491.68,109.60 L492.18,109.63 L492.68,109.66 L492.68,109.90 L438.15,109.90 Z" fill="#bce0f1" fill-opacity="1.0" stroke="none"/>
<path d="M450.66,109.66 L451.16,109.64 L451.66,109.61 L452.16,109.58 L452.66,109.55 L453.16,109.51 L453.66,109.45 L454.16,109.39 L454.66,109.32 L455.16,109.23 L455.66,109.12 L456.16,108.99 L456.66,108.83 L457.16,108.65 L457.66,108.43 L458.16,108.18 L458.66,107.88 L459.16,107.53 L459.66,107.12 L460.16,106.65 L460.66,106.11 L461.16,105.49 L461.66,104.78 L462.16,103.98 L462.66,103.07 L463.16,102.06 L463.66,100.92 L464.16,99.65 L464.66,98.26 L465.16,96.72 L465.66,95.05 L466.16,93.22 L466.67,91.26 L467.17,89.14 L467.67,86.89 L468.17,84.50 L468.67,81.98 L469.17,79.34 L469.67,76.60 L470.17,73.78 L470.67,70.88 L471.17,67.94 L471.67,64.97 L472.17,62.00 L472.67,59.07 L473.17,56.19 L473.67,53.40 L474.17,50.74 L474.67,48.22 L475.17,45.88 L475.67,43.76 L476.17,41.87 L476.67,40.25 L477.17,38.91 L477.67,37.88 L478.17,37.16 L478.67,36.77 L479.17,36.72 L479.67,37.00 L480.17,37.62 L480.67,38.55 L481.17,39.80 L481.67,41.34 L482.17,43.14 L482.67,45.20 L483.17,47.47 L483.67,49.93 L484.17,52.55 L484.67,55.31 L485.18,58.16 L485.68,61.08 L486.18,64.04 L486.68,67.01 L487.18,69.96 L487.68,72.88 L488.18,75.73 L488.68,78.50 L489.18,81.17 L489.68,83.72 L490.18,86.15 L490.68,88.45 L491.18,90.61 L491.68,92.62 L492.18,94.49 L492.68,96.21 L493.18,97.79 L493.68,99.23 L494.18,100.54 L494.68,101.71 L495.18,102.77 L495.68,103.71 L496.18,104.54 L496.68,105.28 L497.18,105.93 L497.68,106.49 L498.18,106.98 L498.68,107.41 L499.18,107.78 L499.68,108.09 L500.18,108.36 L500.68,108.59 L501.18,108.78 L501.68,108.94 L502.18,109.08 L502.68,109.19 L503.18,109.29 L503.68,109.37 L504.19,109.44 L504.69,109.49 L505.19,109.54 L505.69,109.57 L506.19,109.61 L506.69,109.63 L507.19,109.65 L507.19,109.90 L450.66,109.90 Z" fill="#bce0f1" fill-opacity="1.0" stroke="none"/>
<path d="M371.11,109.67 L371.61,109.65 L372.11,109.62 L372.61,109.59 L373.11,109.55 L373.62,109.51 L374.12,109.47 L374.62,109.42 L375.12,109.37 L375.62,109.31 L376.12,109.25 L376.62,109.18 L377.12,109.10 L377.62,109.01 L378.12,108.92 L378.62,108.82 L379.12,108.71 L379.62,108.60 L380.12,108.47 L380.62,108.34 L381.12,108.20 L381.62,108.04 L382.12,107.88 L382.62,107.71 L383.12,107.53 L383.62,107.34 L384.12,107.14 L384.62,106.93 L385.12,106.71 L385.62,106.48 L386.12,106.24 L386.62,106.00 L387.12,105.75 L387.62,105.50 L388.12,105.24 L388.62,104.97 L389.12,104.70 L389.62,104.43 L390.12,104.16 L390.62,103.89 L391.12,103.62 L391.62,103.36 L392.12,103.09 L392.63,102.84 L393.13,102.59 L393.63,102.35 L394.13,102.13 L394.63,101.91 L395.13,101.71 L395.63,101.52 L396.13,101.35 L396.63,101.20 L397.13,101.07 L397.63,100.95 L398.13,100.86 L398.63,100.78 L399.13,100.73 L399.63,100.71 L400.13,100.70 L400.63,100.72 L401.13,100.76 L401.63,100.82 L402.13,100.90 L402.63,101.01 L403.13,101.13 L403.63,101.28 L404.13,101.44 L404.63,101.62 L405.13,101.81 L405.63,102.02 L406.13,102.24 L406.63,102.48 L407.13,102.72 L407.63,102.97 L408.13,103.23 L408.63,103.49 L409.13,103.76 L409.63,104.03 L410.13,104.30 L410.63,104.57 L411.14,104.84 L411.64,105.11 L412.14,105.37 L412.64,105.63 L413.14,105.88 L413.64,106.13 L414.14,106.37 L414.64,106.60 L415.14,106.82 L415.64,107.04 L416.14,107.24 L416.64,107.44 L417.14,107.62 L417.64,107.80 L418.14,107.97 L418.64,108.12 L419.14,108.27 L419.64,108.41 L420.14,108.54 L420.64,108.66 L421.14,108.77 L421.64,108.87 L422.14,108.97 L422.64,109.06 L423.14,109.14 L423.64,109.21 L424.14,109.28 L424.64,109.34 L425.14,109.40 L425.64,109.45 L426.14,109.49 L426.64,109.54 L427.14,109.57 L427.64,109.61 L428.14,109.64 L428.64,109.66 L428.64,109.90 L371.11,109.90 Z" fill="#4aa6da" fill-opacity="1.0" stroke="none"/>
<path d="M365.61,109.65 L366.11,109.65 L366.61,109.64 L367.11,109.64 L367.61,109.63 L368.11,109.63 L368.61,109.62 L369.11,109.62 L369.61,109.61 L370.11,109.60 L370.61,109.60 L371.11,109.59 L371.61,109.58 L372.11,109.58 L372.61,109.57 L373.11,109.56 L373.62,109.55 L374.12,109.54 L374.62,109.54 L375.12,109.53 L375.62,109.52 L376.12,109.51 L376.62,109.50 L377.12,109.49 L377.62,109.48 L378.12,109.47 L378.62,109.45 L379.12,109.44 L379.62,109.43 L380.12,109.42 L380.62,109.40 L381.12,109.39 L381.62,109.37 L382.12,109.36 L382.62,109.34 L383.12,109.32 L383.62,109.30 L384.12,109.28 L384.62,109.26 L385.12,109.24 L385.62,109.22 L386.12,109.19 L386.62,109.17 L387.12,109.14 L387.62,109.10 L388.12,109.07 L388.62,109.03 L389.12,108.99 L389.62,108.94 L390.12,108.89 L390.62,108.84 L391.12,108.78 L391.62,108.71 L392.12,108.63 L392.63,108.54 L393.13,108.45 L393.63,108.34 L394.13,108.22 L394.63,108.09 L395.13,107.94 L395.63,107.77 L396.13,107.58 L396.63,107.38 L397.13,107.15 L397.63,106.90 L398.13,106.62 L398.63,106.31 L399.13,105.98 L399.63,105.61 L400.13,105.21 L400.63,104.78 L401.13,104.32 L401.63,103.82 L402.13,103.29 L402.63,102.72 L403.13,102.12 L403.63,101.48 L404.13,100.82 L404.63,100.12 L405.13,99.40 L405.63,98.65 L406.13,97.89 L406.63,97.11 L407.13,96.32 L407.63,95.53 L408.13,94.74 L408.63,93.96 L409.13,93.20 L409.63,92.47 L410.13,91.77 L410.63,91.13 L411.14,90.54 L411.64,90.01 L412.14,89.56 L412.64,89.20 L413.14,88.94 L413.64,88.77 L414.14,88.70 L414.64,88.74 L415.14,88.88 L415.64,89.13 L416.14,89.46 L416.64,89.89 L417.14,90.40 L417.64,90.97 L418.14,91.61 L418.64,92.29 L419.14,93.01 L419.64,93.77 L420.14,94.54 L420.64,95.33 L421.14,96.12 L421.64,96.91 L422.14,97.69 L422.64,98.46 L423.14,99.21 L423.64,99.94 L424.14,100.64 L424.64,101.32 L425.14,101.96 L425.64,102.57 L426.14,103.15 L426.64,103.69 L427.14,104.20 L427.64,104.67 L428.14,105.11 L428.64,105.51 L429.14,105.89 L429.65,106.23 L430.15,106.54 L430.65,106.83 L431.15,107.09 L431.65,107.32 L432.15,107.53 L432.65,107.72 L433.15,107.90 L433.65,108.05 L434.15,108.19 L434.65,108.31 L435.15,108.42 L435.65,108.52 L436.15,108.61 L436.65,108.69 L437.15,108.76 L437.65,108.82 L438.15,108.88 L438.65,108.93 L439.15,108.98 L439.65,109.02 L440.15,109.06 L440.65,109.10 L441.15,109.13 L441.65,109.16 L442.15,109.19 L442.65,109.21 L443.15,109.24 L443.65,109.26 L444.15,109.28 L444.65,109.30 L445.15,109.32 L445.65,109.34 L446.15,109.35 L446.65,109.37 L447.15,109.38 L447.65,109.40 L448.16,109.41 L448.66,109.43 L449.16,109.44 L449.66,109.45 L450.16,109.46 L450.66,109.47 L451.16,109.48 L451.66,109.49 L452.16,109.50 L452.66,109.51 L453.16,109.52 L453.66,109.53 L454.16,109.54 L454.66,109.55 L455.16,109.56 L455.66,109.57 L456.16,109.57 L456.66,109.58 L457.16,109.59 L457.66,109.59 L458.16,109.60 L458.66,109.61 L459.16,109.61 L459.66,109.62 L460.16,109.63 L460.66,109.63 L461.16,109.64 L461.66,109.64 L462.16,109.65 L462.66,109.65 L462.66,109.90 L365.61,109.90 Z" fill="#4aa6da" fill-opacity="1.0" stroke="none"/>
<path d="M438.15,109.66 L438.65,109.63 L439.15,109.60 L439.65,109.55 L440.15,109.50 L440.65,109.44 L441.15,109.37 L441.65,109.28 L442.15,109.19 L442.65,109.07 L443.15,108.94 L443.65,108.79 L444.15,108.61 L444.65,108.41 L445.15,108.18 L445.65,107.92 L446.15,107.63 L446.65,107.29 L447.15,106.92 L447.65,106.50 L448.16,106.04 L448.66,105.52 L449.16,104.96 L449.66,104.33 L450.16,103.65 L450.66,102.91 L451.16,102.11 L451.66,101.25 L452.16,100.32 L452.66,99.34 L453.16,98.29 L453.66,97.19 L454.16,96.03 L454.66,94.82 L455.16,93.57 L455.66,92.28 L456.16,90.96 L456.66,89.62 L457.16,88.26 L457.66,86.89 L458.16,85.53 L458.66,84.19 L459.16,82.88 L459.66,81.61 L460.16,80.38 L460.66,79.23 L461.16,78.14 L461.66,77.15 L462.16,76.25 L462.66,75.46 L463.16,74.79 L463.66,74.25 L464.16,73.83 L464.66,73.55 L465.16,73.42 L465.66,73.42 L466.16,73.57 L466.67,73.85 L467.17,74.27 L467.67,74.83 L468.17,75.51 L468.67,76.30 L469.17,77.20 L469.67,78.20 L470.17,79.29 L470.67,80.45 L471.17,81.68 L471.67,82.95 L472.17,84.27 L472.67,85.61 L473.17,86.97 L473.67,88.34 L474.17,89.69 L474.67,91.04 L475.17,92.36 L475.67,93.65 L476.17,94.89 L476.67,96.10 L477.17,97.25 L477.67,98.35 L478.17,99.39 L478.67,100.38 L479.17,101.30 L479.67,102.16 L480.17,102.95 L480.67,103.69 L481.17,104.37 L481.67,104.99 L482.17,105.55 L482.67,106.07 L483.17,106.53 L483.67,106.94 L484.17,107.31 L484.67,107.64 L485.18,107.94 L485.68,108.20 L486.18,108.42 L486.68,108.62 L487.18,108.80 L487.68,108.95 L488.18,109.08 L488.68,109.19 L489.18,109.29 L489.68,109.37 L490.18,109.44 L490.68,109.50 L491.18,109.55 L491.68,109.60 L492.18,109.63 L492.68,109.66" fill="none" stroke="#5a9cc8" stroke-width="0.6"/>
<path d="M450.66,109.66 L451.16,109.64 L451.66,109.61 L452.16,109.58 L452.66,109.55 L453.16,109.51 L453.66,109.45 L454.16,109.39 L454.66,109.32 L455.16,109.23 L455.66,109.12 L456.16,108.99 L456.66,108.83 L457.16,108.65 L457.66,108.43 L458.16,108.18 L458.66,107.88 L459.16,107.53 L459.66,107.12 L460.16,106.65 L460.66,106.11 L461.16,105.49 L461.66,104.78 L462.16,103.98 L462.66,103.07 L463.16,102.06 L463.66,100.92 L464.16,99.65 L464.66,98.26 L465.16,96.72 L465.66,95.05 L466.16,93.22 L466.67,91.26 L467.17,89.14 L467.67,86.89 L468.17,84.50 L468.67,81.98 L469.17,79.34 L469.67,76.60 L470.17,73.78 L470.67,70.88 L471.17,67.94 L471.67,64.97 L472.17,62.00 L472.67,59.07 L473.17,56.19 L473.67,53.40 L474.17,50.74 L474.67,48.22 L475.17,45.88 L475.67,43.76 L476.17,41.87 L476.67,40.25 L477.17,38.91 L477.67,37.88 L478.17,37.16 L478.67,36.77 L479.17,36.72 L479.67,37.00 L480.17,37.62 L480.67,38.55 L481.17,39.80 L481.67,41.34 L482.17,43.14 L482.67,45.20 L483.17,47.47 L483.67,49.93 L484.17,52.55 L484.67,55.31 L485.18,58.16 L485.68,61.08 L486.18,64.04 L486.68,67.01 L487.18,69.96 L487.68,72.88 L488.18,75.73 L488.68,78.50 L489.18,81.17 L489.68,83.72 L490.18,86.15 L490.68,88.45 L491.18,90.61 L491.68,92.62 L492.18,94.49 L492.68,96.21 L493.18,97.79 L493.68,99.23 L494.18,100.54 L494.68,101.71 L495.18,102.77 L495.68,103.71 L496.18,104.54 L496.68,105.28 L497.18,105.93 L497.68,106.49 L498.18,106.98 L498.68,107.41 L499.18,107.78 L499.68,108.09 L500.18,108.36 L500.68,108.59 L501.18,108.78 L501.68,108.94 L502.18,109.08 L502.68,109.19 L503.18,109.29 L503.68,109.37 L504.19,109.44 L504.69,109.49 L505.19,109.54 L505.69,109.57 L506.19,109.61 L506.69,109.63 L507.19,109.65" fill="none" stroke="#5a9cc8" stroke-width="0.6"/>
<path d="M371.11,109.67 L371.61,109.65 L372.11,109.62 L372.61,109.59 L373.11,109.55 L373.62,109.51 L374.12,109.47 L374.62,109.42 L375.12,109.37 L375.62,109.31 L376.12,109.25 L376.62,109.18 L377.12,109.10 L377.62,109.01 L378.12,108.92 L378.62,108.82 L379.12,108.71 L379.62,108.60 L380.12,108.47 L380.62,108.34 L381.12,108.20 L381.62,108.04 L382.12,107.88 L382.62,107.71 L383.12,107.53 L383.62,107.34 L384.12,107.14 L384.62,106.93 L385.12,106.71 L385.62,106.48 L386.12,106.24 L386.62,106.00 L387.12,105.75 L387.62,105.50 L388.12,105.24 L388.62,104.97 L389.12,104.70 L389.62,104.43 L390.12,104.16 L390.62,103.89 L391.12,103.62 L391.62,103.36 L392.12,103.09 L392.63,102.84 L393.13,102.59 L393.63,102.35 L394.13,102.13 L394.63,101.91 L395.13,101.71 L395.63,101.52 L396.13,101.35 L396.63,101.20 L397.13,101.07 L397.63,100.95 L398.13,100.86 L398.63,100.78 L399.13,100.73 L399.63,100.71 L400.13,100.70 L400.63,100.72 L401.13,100.76 L401.63,100.82 L402.13,100.90 L402.63,101.01 L403.13,101.13 L403.63,101.28 L404.13,101.44 L404.63,101.62 L405.13,101.81 L405.63,102.02 L406.13,102.24 L406.63,102.48 L407.13,102.72 L407.63,102.97 L408.13,103.23 L408.63,103.49 L409.13,103.76 L409.63,104.03 L410.13,104.30 L410.63,104.57 L411.14,104.84 L411.64,105.11 L412.14,105.37 L412.64,105.63 L413.14,105.88 L413.64,106.13 L414.14,106.37 L414.64,106.60 L415.14,106.82 L415.64,107.04 L416.14,107.24 L416.64,107.44 L417.14,107.62 L417.64,107.80 L418.14,107.97 L418.64,108.12 L419.14,108.27 L419.64,108.41 L420.14,108.54 L420.64,108.66 L421.14,108.77 L421.64,108.87 L422.14,108.97 L422.64,109.06 L423.14,109.14 L423.64,109.21 L424.14,109.28 L424.64,109.34 L425.14,109.40 L425.64,109.45 L426.14,109.49 L426.64,109.54 L427.14,109.57 L427.64,109.61 L428.14,109.64 L428.64,109.66" fill="none" stroke="#1f5f8f" stroke-width="0.6"/>
<path d="M365.61,109.65 L366.11,109.65 L366.61,109.64 L367.11,109.64 L367.61,109.63 L368.11,109.63 L368.61,109.62 L369.11,109.62 L369.61,109.61 L370.11,109.60 L370.61,109.60 L371.11,109.59 L371.61,109.58 L372.11,109.58 L372.61,109.57 L373.11,109.56 L373.62,109.55 L374.12,109.54 L374.62,109.54 L375.12,109.53 L375.62,109.52 L376.12,109.51 L376.62,109.50 L377.12,109.49 L377.62,109.48 L378.12,109.47 L378.62,109.45 L379.12,109.44 L379.62,109.43 L380.12,109.42 L380.62,109.40 L381.12,109.39 L381.62,109.37 L382.12,109.36 L382.62,109.34 L383.12,109.32 L383.62,109.30 L384.12,109.28 L384.62,109.26 L385.12,109.24 L385.62,109.22 L386.12,109.19 L386.62,109.17 L387.12,109.14 L387.62,109.10 L388.12,109.07 L388.62,109.03 L389.12,108.99 L389.62,108.94 L390.12,108.89 L390.62,108.84 L391.12,108.78 L391.62,108.71 L392.12,108.63 L392.63,108.54 L393.13,108.45 L393.63,108.34 L394.13,108.22 L394.63,108.09 L395.13,107.94 L395.63,107.77 L396.13,107.58 L396.63,107.38 L397.13,107.15 L397.63,106.90 L398.13,106.62 L398.63,106.31 L399.13,105.98 L399.63,105.61 L400.13,105.21 L400.63,104.78 L401.13,104.32 L401.63,103.82 L402.13,103.29 L402.63,102.72 L403.13,102.12 L403.63,101.48 L404.13,100.82 L404.63,100.12 L405.13,99.40 L405.63,98.65 L406.13,97.89 L406.63,97.11 L407.13,96.32 L407.63,95.53 L408.13,94.74 L408.63,93.96 L409.13,93.20 L409.63,92.47 L410.13,91.77 L410.63,91.13 L411.14,90.54 L411.64,90.01 L412.14,89.56 L412.64,89.20 L413.14,88.94 L413.64,88.77 L414.14,88.70 L414.64,88.74 L415.14,88.88 L415.64,89.13 L416.14,89.46 L416.64,89.89 L417.14,90.40 L417.64,90.97 L418.14,91.61 L418.64,92.29 L419.14,93.01 L419.64,93.77 L420.14,94.54 L420.64,95.33 L421.14,96.12 L421.64,96.91 L422.14,97.69 L422.64,98.46 L423.14,99.21 L423.64,99.94 L424.14,100.64 L424.64,101.32 L425.14,101.96 L425.64,102.57 L426.14,103.15 L426.64,103.69 L427.14,104.20 L427.64,104.67 L428.14,105.11 L428.64,105.51 L429.14,105.89 L429.65,106.23 L430.15,106.54 L430.65,106.83 L431.15,107.09 L431.65,107.32 L432.15,107.53 L432.65,107.72 L433.15,107.90 L433.65,108.05 L434.15,108.19 L434.65,108.31 L435.15,108.42 L435.65,108.52 L436.15,108.61 L436.65,108.69 L437.15,108.76 L437.65,108.82 L438.15,108.88 L438.65,108.93 L439.15,108.98 L439.65,109.02 L440.15,109.06 L440.65,109.10 L441.15,109.13 L441.65,109.16 L442.15,109.19 L442.65,109.21 L443.15,109.24 L443.65,109.26 L444.15,109.28 L444.65,109.30 L445.15,109.32 L445.65,109.34 L446.15,109.35 L446.65,109.37 L447.15,109.38 L447.65,109.40 L448.16,109.41 L448.66,109.43 L449.16,109.44 L449.66,109.45 L450.16,109.46 L450.66,109.47 L451.16,109.48 L451.66,109.49 L452.16,109.50 L452.66,109.51 L453.16,109.52 L453.66,109.53 L454.16,109.54 L454.66,109.55 L455.16,109.56 L455.66,109.57 L456.16,109.57 L456.66,109.58 L457.16,109.59 L457.66,109.59 L458.16,109.60 L458.66,109.61 L459.16,109.61 L459.66,109.62 L460.16,109.63 L460.66,109.63 L461.16,109.64 L461.66,109.64 L462.16,109.65 L462.66,109.65" fill="none" stroke="#1f5f8f" stroke-width="0.6"/>
<path d="M345.50,109.90 L354.30,109.60 L364.60,110.10 L374.90,110.60 L382.10,109.80 L386.20,107.00 L390.30,101.80 L395.40,96.70 L401.60,93.10 L406.80,89.50 L410.90,88.50 L415.00,88.50 L418.10,90.50 L423.20,96.70 L428.40,104.40 L433.50,107.00 L437.60,109.60 L441.70,109.80 L447.10,108.00 L452.70,103.00 L457.00,91.70 L460.50,81.80 L463.00,69.60 L465.50,60.60 L469.30,47.60 L475.70,32.80 L479.60,27.70 L482.80,30.90 L485.50,45.60 L487.50,60.60 L489.50,72.60 L492.30,88.90 L495.80,103.00 L499.40,109.40 L503.60,110.80 L513.50,110.10 L524.80,110.10 L532.00,110.10" fill="none" stroke="#141414" stroke-width="1.6" stroke-linejoin="round"/>
<path d="M440.65,221.86 L441.15,221.82 L441.65,221.79 L442.15,221.74 L442.65,221.69 L443.15,221.62 L443.65,221.55 L444.15,221.46 L444.65,221.36 L445.15,221.24 L445.65,221.11 L446.15,220.95 L446.65,220.77 L447.15,220.56 L447.65,220.32 L448.16,220.05 L448.66,219.75 L449.16,219.41 L449.66,219.02 L450.16,218.59 L450.66,218.12 L451.16,217.59 L451.66,217.01 L452.16,216.37 L452.66,215.67 L453.16,214.91 L453.66,214.10 L454.16,213.22 L454.66,212.27 L455.16,211.27 L455.66,210.21 L456.16,209.09 L456.66,207.91 L457.16,206.69 L457.66,205.42 L458.16,204.12 L458.66,202.79 L459.16,201.43 L459.66,200.06 L460.16,198.69 L460.66,197.33 L461.16,195.98 L461.66,194.67 L462.16,193.40 L462.66,192.18 L463.16,191.03 L463.66,189.96 L464.16,188.98 L464.66,188.10 L465.16,187.33 L465.66,186.68 L466.16,186.16 L466.67,185.77 L467.17,185.51 L467.67,185.41 L468.17,185.44 L468.67,185.61 L469.17,185.93 L469.67,186.38 L470.17,186.96 L470.67,187.67 L471.17,188.49 L471.67,189.42 L472.17,190.44 L472.67,191.55 L473.17,192.74 L473.67,193.98 L474.17,195.27 L474.67,196.60 L475.17,197.96 L475.67,199.32 L476.17,200.70 L476.67,202.06 L477.17,203.41 L477.67,204.73 L478.17,206.01 L478.67,207.26 L479.17,208.46 L479.67,209.61 L480.17,210.71 L480.67,211.74 L481.17,212.72 L481.67,213.63 L482.17,214.48 L482.67,215.27 L483.17,216.00 L483.67,216.67 L484.17,217.28 L484.67,217.84 L485.18,218.34 L485.68,218.80 L486.18,219.21 L486.68,219.57 L487.18,219.90 L487.68,220.18 L488.18,220.44 L488.68,220.66 L489.18,220.85 L489.68,221.02 L490.18,221.17 L490.68,221.30 L491.18,221.41 L491.68,221.50 L492.18,221.58 L492.68,221.65 L493.18,221.71 L493.68,221.76 L494.18,221.80 L494.68,221.84 L495.18,221.87 L495.18,222.10 L440.65,222.10 Z" fill="#bce0f1" fill-opacity="1.0" stroke="none"/>
<path d="M451.66,221.86 L452.16,221.84 L452.66,221.81 L453.16,221.79 L453.66,221.75 L454.16,221.71 L454.66,221.66 L455.16,221.61 L455.66,221.54 L456.16,221.46 L456.66,221.36 L457.16,221.24 L457.66,221.10 L458.16,220.94 L458.66,220.74 L459.16,220.52 L459.66,220.25 L460.16,219.94 L460.66,219.57 L461.16,219.15 L461.66,218.67 L462.16,218.12 L462.66,217.48 L463.16,216.77 L463.66,215.95 L464.16,215.04 L464.66,214.01 L465.16,212.87 L465.66,211.61 L466.16,210.21 L466.67,208.68 L467.17,207.01 L467.67,205.20 L468.17,203.24 L468.67,201.14 L469.17,198.90 L469.67,196.52 L470.17,194.02 L470.67,191.39 L471.17,188.65 L471.67,185.82 L472.17,182.92 L472.67,179.95 L473.17,176.95 L473.67,173.94 L474.17,170.93 L474.67,167.97 L475.17,165.08 L475.67,162.29 L476.17,159.62 L476.67,157.11 L477.17,154.79 L477.67,152.68 L478.17,150.81 L478.67,149.20 L479.17,147.88 L479.67,146.86 L480.17,146.15 L480.67,145.77 L481.17,145.72 L481.67,146.00 L482.17,146.61 L482.67,147.53 L483.17,148.76 L483.67,150.29 L484.17,152.08 L484.67,154.11 L485.18,156.37 L485.68,158.83 L486.18,161.45 L486.68,164.21 L487.18,167.07 L487.68,170.01 L488.18,173.01 L488.68,176.02 L489.18,179.03 L489.68,182.01 L490.18,184.93 L490.68,187.79 L491.18,190.56 L491.68,193.22 L492.18,195.76 L492.68,198.18 L493.18,200.47 L493.68,202.61 L494.18,204.61 L494.68,206.47 L495.18,208.18 L495.68,209.75 L496.18,211.19 L496.68,212.50 L497.18,213.67 L497.68,214.73 L498.18,215.68 L498.68,216.52 L499.18,217.27 L499.68,217.93 L500.18,218.51 L500.68,219.01 L501.18,219.45 L501.68,219.83 L502.18,220.16 L502.68,220.44 L503.18,220.68 L503.68,220.88 L504.19,221.05 L504.69,221.20 L505.19,221.32 L505.69,221.43 L506.19,221.52 L506.69,221.59 L507.19,221.65 L507.69,221.70 L508.19,221.74 L508.69,221.78 L509.19,221.81 L509.69,221.83 L510.19,221.85 L510.19,222.10 L451.66,222.10 Z" fill="#bce0f1" fill-opacity="1.0" stroke="none"/>
<path d="M376.62,221.86 L377.12,221.83 L377.62,221.80 L378.12,221.77 L378.62,221.73 L379.12,221.69 L379.62,221.65 L380.12,221.60 L380.62,221.55 L381.12,221.50 L381.62,221.44 L382.12,221.38 L382.62,221.31 L383.12,221.25 L383.62,221.17 L384.12,221.10 L384.62,221.02 L385.12,220.93 L385.62,220.85 L386.12,220.76 L386.62,220.67 L387.12,220.58 L387.62,220.48 L388.12,220.39 L388.62,220.29 L389.12,220.19 L389.62,220.10 L390.12,220.00 L390.62,219.91 L391.12,219.82 L391.62,219.73 L392.12,219.64 L392.63,219.56 L393.13,219.49 L393.63,219.42 L394.13,219.35 L394.63,219.29 L395.13,219.24 L395.63,219.20 L396.13,219.16 L396.63,219.13 L397.13,219.11 L397.63,219.10 L398.13,219.10 L398.63,219.11 L399.13,219.12 L399.63,219.15 L400.13,219.18 L400.63,219.22 L401.13,219.27 L401.63,219.32 L402.13,219.38 L402.63,219.45 L403.13,219.53 L403.63,219.60 L404.13,219.69 L404.63,219.77 L405.13,219.86 L405.63,219.96 L406.13,220.05 L406.63,220.15 L407.13,220.24 L407.63,220.34 L408.13,220.44 L408.63,220.53 L409.13,220.62 L409.63,220.72 L410.13,220.81 L410.63,220.89 L411.14,220.98 L411.64,221.06 L412.14,221.14 L412.64,221.21 L413.14,221.28 L413.64,221.35 L414.14,221.41 L414.64,221.47 L415.14,221.53 L415.64,221.58 L416.14,221.63 L416.64,221.67 L417.14,221.71 L417.64,221.75 L418.14,221.79 L418.64,221.82 L419.14,221.85 L419.64,221.87 L419.64,222.10 L376.62,222.10 Z" fill="#4aa6da" fill-opacity="1.0" stroke="none"/>
<path d="M385.62,221.85 L386.12,221.82 L386.62,221.80 L387.12,221.76 L387.62,221.73 L388.12,221.69 L388.62,221.64 L389.12,221.59 L389.62,221.54 L390.12,221.48 L390.62,221.41 L391.12,221.34 L391.62,221.26 L392.12,221.18 L392.63,221.08 L393.13,220.98 L393.63,220.88 L394.13,220.76 L394.63,220.64 L395.13,220.51 L395.63,220.37 L396.13,220.22 L396.63,220.07 L397.13,219.91 L397.63,219.74 L398.13,219.56 L398.63,219.38 L399.13,219.19 L399.63,219.00 L400.13,218.80 L400.63,218.60 L401.13,218.39 L401.63,218.19 L402.13,217.98 L402.63,217.77 L403.13,217.57 L403.63,217.37 L404.13,217.17 L404.63,216.98 L405.13,216.79 L405.63,216.62 L406.13,216.45 L406.63,216.29 L407.13,216.15 L407.63,216.02 L408.13,215.91 L408.63,215.81 L409.13,215.73 L409.63,215.67 L410.13,215.63 L410.63,215.61 L411.14,215.60 L411.64,215.62 L412.14,215.65 L412.64,215.70 L413.14,215.77 L413.64,215.86 L414.14,215.97 L414.64,216.09 L415.14,216.23 L415.64,216.38 L416.14,216.54 L416.64,216.71 L417.14,216.89 L417.64,217.08 L418.14,217.27 L418.64,217.47 L419.14,217.68 L419.64,217.88 L420.14,218.09 L420.64,218.30 L421.14,218.50 L421.64,218.71 L422.14,218.91 L422.64,219.10 L423.14,219.29 L423.64,219.48 L424.14,219.66 L424.64,219.83 L425.14,219.99 L425.64,220.15 L426.14,220.30 L426.64,220.45 L427.14,220.58 L427.64,220.71 L428.14,220.82 L428.64,220.93 L429.14,221.04 L429.65,221.13 L430.15,221.22 L430.65,221.30 L431.15,221.38 L431.65,221.45 L432.15,221.51 L432.65,221.57 L433.15,221.62 L433.65,221.67 L434.15,221.71 L434.65,221.75 L435.15,221.78 L435.65,221.81 L436.15,221.84 L436.65,221.86 L436.65,222.10 L385.62,222.10 Z" fill="#4aa6da" fill-opacity="1.0" stroke="none"/>
<path d="M440.65,221.86 L441.15,221.82 L441.65,221.79 L442.15,221.74 L442.65,221.69 L443.15,221.62 L443.65,221.55 L444.15,221.46 L444.65,221.36 L445.15,221.24 L445.65,221.11 L446.15,220.95 L446.65,220.77 L447.15,220.56 L447.65,220.32 L448.16,220.05 L448.66,219.75 L449.16,219.41 L449.66,219.02 L450.16,218.59 L450.66,218.12 L451.16,217.59 L451.66,217.01 L452.16,216.37 L452.66,215.67 L453.16,214.91 L453.66,214.10 L454.16,213.22 L454.66,212.27 L455.16,211.27 L455.66,210.21 L456.16,209.09 L456.66,207.91 L457.16,206.69 L457.66,205.42 L458.16,204.12 L458.66,202.79 L459.16,201.43 L459.66,200.06 L460.16,198.69 L460.66,197.33 L461.16,195.98 L461.66,194.67 L462.16,193.40 L462.66,192.18 L463.16,191.03 L463.66,189.96 L464.16,188.98 L464.66,188.10 L465.16,187.33 L465.66,186.68 L466.16,186.16 L466.67,185.77 L467.17,185.51 L467.67,185.41 L468.17,185.44 L468.67,185.61 L469.17,185.93 L469.67,186.38 L470.17,186.96 L470.67,187.67 L471.17,188.49 L471.67,189.42 L472.17,190.44 L472.67,191.55 L473.17,192.74 L473.67,193.98 L474.17,195.27 L474.67,196.60 L475.17,197.96 L475.67,199.32 L476.17,200.70 L476.67,202.06 L477.17,203.41 L477.67,204.73 L478.17,206.01 L478.67,207.26 L479.17,208.46 L479.67,209.61 L480.17,210.71 L480.67,211.74 L481.17,212.72 L481.67,213.63 L482.17,214.48 L482.67,215.27 L483.17,216.00 L483.67,216.67 L484.17,217.28 L484.67,217.84 L485.18,218.34 L485.68,218.80 L486.18,219.21 L486.68,219.57 L487.18,219.90 L487.68,220.18 L488.18,220.44 L488.68,220.66 L489.18,220.85 L489.68,221.02 L490.18,221.17 L490.68,221.30 L491.18,221.41 L491.68,221.50 L492.18,221.58 L492.68,221.65 L493.18,221.71 L493.68,221.76 L494.18,221.80 L494.68,221.84 L495.18,221.87" fill="none" stroke="#5a9cc8" stroke-width="0.6"/>
<path d="M451.66,221.86 L452.16,221.84 L452.66,221.81 L453.16,221.79 L453.66,221.75 L454.16,221.71 L454.66,221.66 L455.16,221.61 L455.66,221.54 L456.16,221.46 L456.66,221.36 L457.16,221.24 L457.66,221.10 L458.16,220.94 L458.66,220.74 L459.16,220.52 L459.66,220.25 L460.16,219.94 L460.66,219.57 L461.16,219.15 L461.66,218.67 L462.16,218.12 L462.66,217.48 L463.16,216.77 L463.66,215.95 L464.16,215.04 L464.66,214.01 L465.16,212.87 L465.66,211.61 L466.16,210.21 L466.67,208.68 L467.17,207.01 L467.67,205.20 L468.17,203.24 L468.67,201.14 L469.17,198.90 L469.67,196.52 L470.17,194.02 L470.67,191.39 L471.17,188.65 L471.67,185.82 L472.17,182.92 L472.67,179.95 L473.17,176.95 L473.67,173.94 L474.17,170.93 L474.67,167.97 L475.17,165.08 L475.67,162.29 L476.17,159.62 L476.67,157.11 L477.17,154.79 L477.67,152.68 L478.17,150.81 L478.67,149.20 L479.17,147.88 L479.67,146.86 L480.17,146.15 L480.67,145.77 L481.17,145.72 L481.67,146.00 L482.17,146.61 L482.67,147.53 L483.17,148.76 L483.67,150.29 L484.17,152.08 L484.67,154.11 L485.18,156.37 L485.68,158.83 L486.18,161.45 L486.68,164.21 L487.18,167.07 L487.68,170.01 L488.18,173.01 L488.68,176.02 L489.18,179.03 L489.68,182.01 L490.18,184.93 L490.68,187.79 L491.18,190.56 L491.68,193.22 L492.18,195.76 L492.68,198.18 L493.18,200.47 L493.68,202.61 L494.18,204.61 L494.68,206.47 L495.18,208.18 L495.68,209.75 L496.18,211.19 L496.68,212.50 L497.18,213.67 L497.68,214.73 L498.18,215.68 L498.68,216.52 L499.18,217.27 L499.68,217.93 L500.18,218.51 L500.68,219.01 L501.18,219.45 L501.68,219.83 L502.18,220.16 L502.68,220.44 L503.18,220.68 L503.68,220.88 L504.19,221.05 L504.69,221.20 L505.19,221.32 L505.69,221.43 L506.19,221.52 L506.69,221.59 L507.19,221.65 L507.69,221.70 L508.19,221.74 L508.69,221.78 L509.19,221.81 L509.69,221.83 L510.19,221.85" fill="none" stroke="#5a9cc8" stroke-width="0.6"/>
<path d="M376.62,221.86 L377.12,221.83 L377.62,221.80 L378.12,221.77 L378.62,221.73 L379.12,221.69 L379.62,221.65 L380.12,221.60 L380.62,221.55 L381.12,221.50 L381.62,221.44 L382.12,221.38 L382.62,221.31 L383.12,221.25 L383.62,221.17 L384.12,221.10 L384.62,221.02 L385.12,220.93 L385.62,220.85 L386.12,220.76 L386.62,220.67 L387.12,220.58 L387.62,220.48 L388.12,220.39 L388.62,220.29 L389.12,220.19 L389.62,220.10 L390.12,220.00 L390.62,219.91 L391.12,219.82 L391.62,219.73 L392.12,219.64 L392.63,219.56 L393.13,219.49 L393.63,219.42 L394.13,219.35 L394.63,219.29 L395.13,219.24 L395.63,219.20 L396.13,219.16 L396.63,219.13 L397.13,219.11 L397.63,219.10 L398.13,219.10 L398.63,219.11 L399.13,219.12 L399.63,219.15 L400.13,219.18 L400.63,219.22 L401.13,219.27 L401.63,219.32 L402.13,219.38 L402.63,219.45 L403.13,219.53 L403.63,219.60 L404.13,219.69 L404.63,219.77 L405.13,219.86 L405.63,219.96 L406.13,220.05 L406.63,220.15 L407.13,220.24 L407.63,220.34 L408.13,220.44 L408.63,220.53 L409.13,220.62 L409.63,220.72 L410.13,220.81 L410.63,220.89 L411.14,220.98 L411.64,221.06 L412.14,221.14 L412.64,221.21 L413.14,221.28 L413.64,221.35 L414.14,221.41 L414.64,221.47 L415.14,221.53 L415.64,221.58 L416.14,221.63 L416.64,221.67 L417.14,221.71 L417.64,221.75 L418.14,221.79 L418.64,221.82 L419.14,221.85 L419.64,221.87" fill="none" stroke="#1f5f8f" stroke-width="0.6"/>
<path d="M385.62,221.85 L386.12,221.82 L386.62,221.80 L387.12,221.76 L387.62,221.73 L388.12,221.69 L388.62,221.64 L389.12,221.59 L389.62,221.54 L390.12,221.48 L390.62,221.41 L391.12,221.34 L391.62,221.26 L392.12,221.18 L392.63,221.08 L393.13,220.98 L393.63,220.88 L394.13,220.76 L394.63,220.64 L395.13,220.51 L395.63,220.37 L396.13,220.22 L396.63,220.07 L397.13,219.91 L397.63,219.74 L398.13,219.56 L398.63,219.38 L399.13,219.19 L399.63,219.00 L400.13,218.80 L400.63,218.60 L401.13,218.39 L401.63,218.19 L402.13,217.98 L402.63,217.77 L403.13,217.57 L403.63,217.37 L404.13,217.17 L404.63,216.98 L405.13,216.79 L405.63,216.62 L406.13,216.45 L406.63,216.29 L407.13,216.15 L407.63,216.02 L408.13,215.91 L408.63,215.81 L409.13,215.73 L409.63,215.67 L410.13,215.63 L410.63,215.61 L411.14,215.60 L411.64,215.62 L412.14,215.65 L412.64,215.70 L413.14,215.77 L413.64,215.86 L414.14,215.97 L414.64,216.09 L415.14,216.23 L415.64,216.38 L416.14,216.54 L416.64,216.71 L417.14,216.89 L417.64,217.08 L418.14,217.27 L418.64,217.47 L419.14,217.68 L419.64,217.88 L420.14,218.09 L420.64,218.30 L421.14,218.50 L421.64,218.71 L422.14,218.91 L422.64,219.10 L423.14,219.29 L423.64,219.48 L424.14,219.66 L424.64,219.83 L425.14,219.99 L425.64,220.15 L426.14,220.30 L426.64,220.45 L427.14,220.58 L427.64,220.71 L428.14,220.82 L428.64,220.93 L429.14,221.04 L429.65,221.13 L430.15,221.22 L430.65,221.30 L431.15,221.38 L431.65,221.45 L432.15,221.51 L432.65,221.57 L433.15,221.62 L433.65,221.67 L434.15,221.71 L434.65,221.75 L435.15,221.78 L435.65,221.81 L436.15,221.84 L436.65,221.86" fill="none" stroke="#1f5f8f" stroke-width="0.6"/>
<path d="M345.50,222.50 L353.80,222.20 L359.60,223.00 L366.50,221.90 L375.30,223.00 L381.10,220.60 L388.00,220.90 L394.80,217.90 L406.50,215.70 L416.30,215.00 L426.00,220.60 L431.90,222.20 L437.70,220.10 L444.00,218.60 L450.60,215.80 L458.50,205.20 L463.80,189.30 L469.10,165.50 L474.40,147.00 L479.70,135.10 L482.40,136.40 L486.30,154.90 L491.60,181.40 L496.90,205.20 L503.50,219.00 L519.40,219.80 L532.00,218.50" fill="none" stroke="#141414" stroke-width="1.6" stroke-linejoin="round"/>
<path d="M432.65,332.36 L433.15,332.34 L433.65,332.31 L434.15,332.27 L434.65,332.24 L435.15,332.19 L435.65,332.15 L436.15,332.09 L436.65,332.03 L437.15,331.96 L437.65,331.89 L438.15,331.81 L438.65,331.71 L439.15,331.61 L439.65,331.49 L440.15,331.37 L440.65,331.22 L441.15,331.07 L441.65,330.90 L442.15,330.72 L442.65,330.51 L443.15,330.29 L443.65,330.05 L444.15,329.79 L444.65,329.51 L445.15,329.21 L445.65,328.89 L446.15,328.54 L446.65,328.17 L447.15,327.77 L447.65,327.35 L448.16,326.90 L448.66,326.42 L449.16,325.93 L449.66,325.40 L450.16,324.85 L450.66,324.28 L451.16,323.68 L451.66,323.06 L452.16,322.41 L452.66,321.75 L453.16,321.07 L453.66,320.37 L454.16,319.65 L454.66,318.93 L455.16,318.19 L455.66,317.45 L456.16,316.70 L456.66,315.96 L457.16,315.21 L457.66,314.47 L458.16,313.75 L458.66,313.03 L459.16,312.33 L459.66,311.66 L460.16,311.00 L460.66,310.38 L461.16,309.79 L461.66,309.23 L462.16,308.72 L462.66,308.24 L463.16,307.82 L463.66,307.44 L464.16,307.11 L464.66,306.83 L465.16,306.61 L465.66,306.45 L466.16,306.35 L466.67,306.30 L467.17,306.32 L467.67,306.39 L468.17,306.52 L468.67,306.71 L469.17,306.95 L469.67,307.25 L470.17,307.60 L470.67,308.01 L471.17,308.46 L471.67,308.95 L472.17,309.48 L472.67,310.06 L473.17,310.66 L473.67,311.30 L474.17,311.96 L474.67,312.65 L475.17,313.36 L475.67,314.08 L476.17,314.81 L476.67,315.56 L477.17,316.30 L477.67,317.05 L478.17,317.79 L478.67,318.53 L479.17,319.26 L479.67,319.98 L480.17,320.69 L480.67,321.38 L481.17,322.06 L481.67,322.71 L482.17,323.34 L482.67,323.96 L483.17,324.54 L483.67,325.11 L484.17,325.65 L484.67,326.16 L485.18,326.65 L485.68,327.11 L486.18,327.54 L486.68,327.95 L487.18,328.34 L487.68,328.70 L488.18,329.04 L488.68,329.35 L489.18,329.65 L489.68,329.92 L490.18,330.17 L490.68,330.40 L491.18,330.61 L491.68,330.80 L492.18,330.98 L492.68,331.14 L493.18,331.29 L493.68,331.43 L494.18,331.55 L494.68,331.66 L495.18,331.76 L495.68,331.84 L496.18,331.92 L496.68,332.00 L497.18,332.06 L497.68,332.12 L498.18,332.17 L498.68,332.21 L499.18,332.25 L499.68,332.29 L500.18,332.32 L500.68,332.35 L501.18,332.37 L501.18,332.60 L432.65,332.60 Z" fill="#bce0f1" fill-opacity="1.0" stroke="none"/>
<path d="M447.15,332.36 L447.65,332.34 L448.16,332.31 L448.66,332.28 L449.16,332.25 L449.66,332.21 L450.16,332.16 L450.66,332.11 L451.16,332.05 L451.66,331.98 L452.16,331.90 L452.66,331.81 L453.16,331.71 L453.66,331.59 L454.16,331.46 L454.66,331.30 L455.16,331.13 L455.66,330.94 L456.16,330.72 L456.66,330.47 L457.16,330.20 L457.66,329.89 L458.16,329.55 L458.66,329.17 L459.16,328.76 L459.66,328.30 L460.16,327.79 L460.66,327.24 L461.16,326.63 L461.66,325.97 L462.16,325.26 L462.66,324.49 L463.16,323.66 L463.66,322.76 L464.16,321.81 L464.66,320.79 L465.16,319.70 L465.66,318.55 L466.16,317.34 L466.67,316.07 L467.17,314.74 L467.67,313.35 L468.17,311.90 L468.67,310.41 L469.17,308.87 L469.67,307.28 L470.17,305.67 L470.67,304.03 L471.17,302.37 L471.67,300.69 L472.17,299.02 L472.67,297.35 L473.17,295.69 L473.67,294.07 L474.17,292.48 L474.67,290.93 L475.17,289.45 L475.67,288.03 L476.17,286.69 L476.67,285.44 L477.17,284.28 L477.67,283.23 L478.17,282.30 L478.67,281.49 L479.17,280.82 L479.67,280.27 L480.17,279.87 L480.67,279.62 L481.17,279.50 L481.67,279.54 L482.17,279.72 L482.67,280.05 L483.17,280.52 L483.67,281.13 L484.17,281.88 L484.67,282.75 L485.18,283.74 L485.68,284.84 L486.18,286.04 L486.68,287.34 L487.18,288.72 L487.68,290.17 L488.18,291.69 L488.68,293.25 L489.18,294.86 L489.68,296.50 L490.18,298.17 L490.68,299.84 L491.18,301.52 L491.68,303.19 L492.18,304.84 L492.68,306.47 L493.18,308.07 L493.68,309.63 L494.18,311.15 L494.68,312.62 L495.18,314.04 L495.68,315.40 L496.18,316.70 L496.68,317.95 L497.18,319.13 L497.68,320.24 L498.18,321.30 L498.68,322.28 L499.18,323.21 L499.68,324.07 L500.18,324.88 L500.68,325.62 L501.18,326.30 L501.68,326.94 L502.18,327.52 L502.68,328.05 L503.18,328.53 L503.68,328.97 L504.19,329.36 L504.69,329.72 L505.19,330.05 L505.69,330.34 L506.19,330.60 L506.69,330.83 L507.19,331.03 L507.69,331.22 L508.19,331.38 L508.69,331.52 L509.19,331.65 L509.69,331.76 L510.19,331.86 L510.69,331.94 L511.19,332.02 L511.69,332.08 L512.19,332.14 L512.69,332.19 L513.19,332.23 L513.69,332.26 L514.19,332.30 L514.69,332.32 L515.19,332.35 L515.69,332.37 L515.69,332.60 L447.15,332.60 Z" fill="#bce0f1" fill-opacity="1.0" stroke="none"/>
<path d="M432.65,332.36 L433.15,332.34 L433.65,332.31 L434.15,332.27 L434.65,332.24 L435.15,332.19 L435.65,332.15 L436.15,332.09 L436.65,332.03 L437.15,331.96 L437.65,331.89 L438.15,331.81 L438.65,331.71 L439.15,331.61 L439.65,331.49 L440.15,331.37 L440.65,331.22 L441.15,331.07 L441.65,330.90 L442.15,330.72 L442.65,330.51 L443.15,330.29 L443.65,330.05 L444.15,329.79 L444.65,329.51 L445.15,329.21 L445.65,328.89 L446.15,328.54 L446.65,328.17 L447.15,327.77 L447.65,327.35 L448.16,326.90 L448.66,326.42 L449.16,325.93 L449.66,325.40 L450.16,324.85 L450.66,324.28 L451.16,323.68 L451.66,323.06 L452.16,322.41 L452.66,321.75 L453.16,321.07 L453.66,320.37 L454.16,319.65 L454.66,318.93 L455.16,318.19 L455.66,317.45 L456.16,316.70 L456.66,315.96 L457.16,315.21 L457.66,314.47 L458.16,313.75 L458.66,313.03 L459.16,312.33 L459.66,311.66 L460.16,311.00 L460.66,310.38 L461.16,309.79 L461.66,309.23 L462.16,308.72 L462.66,308.24 L463.16,307.82 L463.66,307.44 L464.16,307.11 L464.66,306.83 L465.16,306.61 L465.66,306.45 L466.16,306.35 L466.67,306.30 L467.17,306.32 L467.67,306.39 L468.17,306.52 L468.67,306.71 L469.17,306.95 L469.67,307.25 L470.17,307.60 L470.67,308.01 L471.17,308.46 L471.67,308.95 L472.17,309.48 L472.67,310.06 L473.17,310.66 L473.67,311.30 L474.17,311.96 L474.67,312.65 L475.17,313.36 L475.67,314.08 L476.17,314.81 L476.67,315.56 L477.17,316.30 L477.67,317.05 L478.17,317.79 L478.67,318.53 L479.17,319.26 L479.67,319.98 L480.17,320.69 L480.67,321.38 L481.17,322.06 L481.67,322.71 L482.17,323.34 L482.67,323.96 L483.17,324.54 L483.67,325.11 L484.17,325.65 L484.67,326.16 L485.18,326.65 L485.68,327.11 L486.18,327.54 L486.68,327.95 L487.18,328.34 L487.68,328.70 L488.18,329.04 L488.68,329.35 L489.18,329.65 L489.68,329.92 L490.18,330.17 L490.68,330.40 L491.18,330.61 L491.68,330.80 L492.18,330.98 L492.68,331.14 L493.18,331.29 L493.68,331.43 L494.18,331.55 L494.68,331.66 L495.18,331.76 L495.68,331.84 L496.18,331.92 L496.68,332.00 L497.18,332.06 L497.68,332.12 L498.18,332.17 L498.68,332.21 L499.18,332.25 L499.68,332.29 L500.18,332.32 L500.68,332.35 L501.18,332.37" fill="none" stroke="#5a9cc8" stroke-width="0.6"/>
<path d="M447.15,332.36 L447.65,332.34 L448.16,332.31 L448.66,332.28 L449.16,332.25 L449.66,332.21 L450.16,332.16 L450.66,332.11 L451.16,332.05 L451.66,331.98 L452.16,331.90 L452.66,331.81 L453.16,331.71 L453.66,331.59 L454.16,331.46 L454.66,331.30 L455.16,331.13 L455.66,330.94 L456.16,330.72 L456.66,330.47 L457.16,330.20 L457.66,329.89 L458.16,329.55 L458.66,329.17 L459.16,328.76 L459.66,328.30 L460.16,327.79 L460.66,327.24 L461.16,326.63 L461.66,325.97 L462.16,325.26 L462.66,324.49 L463.16,323.66 L463.66,322.76 L464.16,321.81 L464.66,320.79 L465.16,319.70 L465.66,318.55 L466.16,317.34 L466.67,316.07 L467.17,314.74 L467.67,313.35 L468.17,311.90 L468.67,310.41 L469.17,308.87 L469.67,307.28 L470.17,305.67 L470.67,304.03 L471.17,302.37 L471.67,300.69 L472.17,299.02 L472.67,297.35 L473.17,295.69 L473.67,294.07 L474.17,292.48 L474.67,290.93 L475.17,289.45 L475.67,288.03 L476.17,286.69 L476.67,285.44 L477.17,284.28 L477.67,283.23 L478.17,282.30 L478.67,281.49 L479.17,280.82 L479.67,280.27 L480.17,279.87 L480.67,279.62 L481.17,279.50 L481.67,279.54 L482.17,279.72 L482.67,280.05 L483.17,280.52 L483.67,281.13 L484.17,281.88 L484.67,282.75 L485.18,283.74 L485.68,284.84 L486.18,286.04 L486.68,287.34 L487.18,288.72 L487.68,290.17 L488.18,291.69 L488.68,293.25 L489.18,294.86 L489.68,296.50 L490.18,298.17 L490.68,299.84 L491.18,301.52 L491.68,303.19 L492.18,304.84 L492.68,306.47 L493.18,308.07 L493.68,309.63 L494.18,311.15 L494.68,312.62 L495.18,314.04 L495.68,315.40 L496.18,316.70 L496.68,317.95 L497.18,319.13 L497.68,320.24 L498.18,321.30 L498.68,322.28 L499.18,323.21 L499.68,324.07 L500.18,324.88 L500.68,325.62 L501.18,326.30 L501.68,326.94 L502.18,327.52 L502.68,328.05 L503.18,328.53 L503.68,328.97 L504.19,329.36 L504.69,329.72 L505.19,330.05 L505.69,330.34 L506.19,330.60 L506.69,330.83 L507.19,331.03 L507.69,331.22 L508.19,331.38 L508.69,331.52 L509.19,331.65 L509.69,331.76 L510.19,331.86 L510.69,331.94 L511.19,332.02 L511.69,332.08 L512.19,332.14 L512.69,332.19 L513.19,332.23 L513.69,332.26 L514.19,332.30 L514.69,332.32 L515.19,332.35 L515.69,332.37" fill="none" stroke="#5a9cc8" stroke-width="0.6"/>
<path d="M345.50,332.60 L360.00,332.40 L380.00,332.80 L400.00,332.30 L420.00,332.80 L430.00,332.60 L440.90,331.90 L449.70,326.00 L456.20,319.50 L461.70,312.00 L470.20,284.40 L479.40,269.00 L482.50,268.20 L486.40,282.90 L493.30,312.00 L498.80,327.10 L503.20,331.50 L517.40,331.90 L532.00,332.60" fill="none" stroke="#141414" stroke-width="1.6" stroke-linejoin="round"/>
<path d="M657.00,109.80 L658.46,108.85 L660.56,107.49 L662.88,105.96 L665.00,104.50 L666.81,103.35 L668.54,102.34 L670.25,101.03 L672.00,99.00 L673.80,96.14 L675.62,92.68 L677.46,88.70 L679.30,84.30 L681.18,79.23 L683.09,73.53 L684.96,67.71 L686.70,62.30 L688.31,57.28 L689.83,52.42 L691.24,47.93 L692.50,44.00 L693.57,40.49 L694.48,37.35 L695.32,34.94 L696.20,33.60 L697.13,33.64 L698.05,34.81 L699.00,36.59 L700.00,38.50 L701.06,40.42 L702.17,42.62 L703.32,45.13 L704.50,48.00 L705.77,51.43 L707.12,55.34 L708.43,59.33 L709.60,63.00 L710.54,66.19 L711.34,69.12 L712.11,72.00 L713.00,75.00 L714.06,78.23 L715.21,81.56 L716.38,84.87 L717.50,88.00 L718.55,90.90 L719.56,93.64 L720.55,96.31 L721.50,99.00 L722.49,101.97 L723.50,105.09 L724.38,107.86 L725.00,109.80 Z" fill="#f9c55a" stroke="none"/>
<path d="M685.87,109.56 L686.37,109.54 L686.87,109.52 L687.37,109.50 L687.87,109.48 L688.37,109.45 L688.88,109.42 L689.38,109.39 L689.88,109.35 L690.38,109.31 L690.88,109.27 L691.38,109.23 L691.88,109.18 L692.38,109.13 L692.88,109.07 L693.38,109.01 L693.88,108.95 L694.38,108.88 L694.88,108.81 L695.38,108.73 L695.88,108.64 L696.38,108.55 L696.88,108.45 L697.38,108.35 L697.88,108.24 L698.39,108.13 L698.89,108.00 L699.39,107.87 L699.89,107.74 L700.39,107.59 L700.89,107.44 L701.39,107.28 L701.89,107.11 L702.39,106.94 L702.89,106.75 L703.39,106.56 L703.89,106.36 L704.39,106.15 L704.89,105.94 L705.39,105.71 L705.89,105.48 L706.39,105.25 L706.89,105.00 L707.40,104.75 L707.90,104.49 L708.40,104.22 L708.90,103.95 L709.40,103.68 L709.90,103.39 L710.40,103.11 L710.90,102.82 L711.40,102.53 L711.90,102.23 L712.40,101.93 L712.90,101.63 L713.40,101.34 L713.90,101.04 L714.40,100.74 L714.90,100.45 L715.40,100.16 L715.90,99.87 L716.40,99.58 L716.91,99.31 L717.41,99.04 L717.91,98.78 L718.41,98.52 L718.91,98.28 L719.41,98.04 L719.91,97.82 L720.41,97.61 L720.91,97.41 L721.41,97.23 L721.91,97.06 L722.41,96.91 L722.91,96.77 L723.41,96.65 L723.91,96.55 L724.41,96.46 L724.91,96.39 L725.41,96.34 L725.92,96.31 L726.42,96.30 L726.92,96.31 L727.42,96.33 L727.92,96.37 L728.42,96.44 L728.92,96.52 L729.42,96.61 L729.92,96.73 L730.42,96.86 L730.92,97.01 L731.42,97.17 L731.92,97.35 L732.42,97.54 L732.92,97.75 L733.42,97.97 L733.92,98.20 L734.42,98.44 L734.92,98.69 L735.43,98.95 L735.93,99.22 L736.43,99.49 L736.93,99.77 L737.43,100.06 L737.93,100.35 L738.43,100.64 L738.93,100.94 L739.43,101.24 L739.93,101.53 L740.43,101.83 L740.93,102.13 L741.43,102.43 L741.93,102.72 L742.43,103.01 L742.93,103.30 L743.43,103.58 L743.93,103.86 L744.43,104.13 L744.94,104.40 L745.44,104.66 L745.94,104.92 L746.44,105.16 L746.94,105.40 L747.44,105.64 L747.94,105.86 L748.44,106.08 L748.94,106.29 L749.44,106.49 L749.94,106.69 L750.44,106.87 L750.94,107.05 L751.44,107.22 L751.94,107.39 L752.44,107.54 L752.94,107.69 L753.44,107.83 L753.95,107.96 L754.45,108.09 L754.95,108.20 L755.45,108.32 L755.95,108.42 L756.45,108.52 L756.95,108.61 L757.45,108.70 L757.95,108.78 L758.45,108.86 L758.95,108.93 L759.45,108.99 L759.95,109.05 L760.45,109.11 L760.95,109.16 L761.45,109.21 L761.95,109.26 L762.45,109.30 L762.95,109.34 L763.46,109.38 L763.96,109.41 L764.46,109.44 L764.96,109.47 L765.46,109.49 L765.96,109.52 L766.46,109.54 L766.96,109.56 L766.96,109.80 L685.87,109.80 Z" fill="#fce5bb" fill-opacity="1.0" stroke="none"/>
<path d="M618.80,107.40 L622.30,113.20 L626.60,112.00 L630.40,109.10 L634.30,109.80 L656.60,110.00 L663.90,101.20 L668.30,99.70 L672.00,93.90 L677.10,88.70 L680.80,78.50 L688.10,55.00 L692.60,43.00 L696.70,31.70 L703.50,44.40 L710.90,63.90 L718.20,82.20 L725.50,93.20 L735.00,100.50 L746.60,105.50 L759.40,109.50 L767.80,111.60 L774.90,110.20 L780.60,111.60 L787.60,108.80 L793.30,110.90 L798.90,108.80 L805.20,110.20" fill="none" stroke="#141414" stroke-width="1.6" stroke-linejoin="round"/>
<path d="M666.35,221.36 L666.85,221.35 L667.35,221.33 L667.85,221.32 L668.35,221.31 L668.85,221.30 L669.35,221.29 L669.85,221.27 L670.36,221.26 L670.86,221.25 L671.36,221.23 L671.86,221.21 L672.36,221.20 L672.86,221.18 L673.36,221.16 L673.86,221.14 L674.36,221.13 L674.86,221.10 L675.36,221.08 L675.86,221.06 L676.36,221.04 L676.86,221.02 L677.36,220.99 L677.86,220.97 L678.36,220.94 L678.86,220.91 L679.37,220.89 L679.87,220.86 L680.37,220.83 L680.87,220.80 L681.37,220.76 L681.87,220.73 L682.37,220.69 L682.87,220.66 L683.37,220.62 L683.87,220.58 L684.37,220.54 L684.87,220.50 L685.37,220.46 L685.87,220.42 L686.37,220.37 L686.87,220.33 L687.37,220.28 L687.87,220.23 L688.37,220.18 L688.88,220.13 L689.38,220.08 L689.88,220.02 L690.38,219.97 L690.88,219.91 L691.38,219.85 L691.88,219.79 L692.38,219.73 L692.88,219.67 L693.38,219.60 L693.88,219.53 L694.38,219.47 L694.88,219.40 L695.38,219.32 L695.88,219.25 L696.38,219.18 L696.88,219.10 L697.38,219.02 L697.88,218.94 L698.39,218.86 L698.89,218.78 L699.39,218.70 L699.89,218.61 L700.39,218.52 L700.89,218.44 L701.39,218.35 L701.89,218.26 L702.39,218.16 L702.89,218.07 L703.39,217.97 L703.89,217.88 L704.39,217.78 L704.89,217.68 L705.39,217.58 L705.89,217.48 L706.39,217.37 L706.89,217.27 L707.40,217.16 L707.90,217.06 L708.40,216.95 L708.90,216.84 L709.40,216.73 L709.90,216.62 L710.40,216.51 L710.90,216.40 L711.40,216.29 L711.90,216.18 L712.40,216.06 L712.90,215.95 L713.40,215.84 L713.90,215.72 L714.40,215.61 L714.90,215.49 L715.40,215.38 L715.90,215.27 L716.40,215.15 L716.91,215.04 L717.41,214.93 L717.91,214.81 L718.41,214.70 L718.91,214.59 L719.41,214.48 L719.91,214.37 L720.41,214.26 L720.91,214.15 L721.41,214.04 L721.91,213.93 L722.41,213.83 L722.91,213.72 L723.41,213.62 L723.91,213.52 L724.41,213.42 L724.91,213.32 L725.41,213.23 L725.92,213.13 L726.42,213.04 L726.92,212.95 L727.42,212.86 L727.92,212.78 L728.42,212.70 L728.92,212.62 L729.42,212.54 L729.92,212.46 L730.42,212.39 L730.92,212.32 L731.42,212.25 L731.92,212.19 L732.42,212.13 L732.92,212.07 L733.42,212.01 L733.92,211.96 L734.42,211.91 L734.92,211.87 L735.43,211.83 L735.93,211.79 L736.43,211.75 L736.93,211.72 L737.43,211.69 L737.93,211.67 L738.43,211.65 L738.93,211.63 L739.43,211.62 L739.93,211.61 L740.43,211.60 L740.93,211.60 L741.43,211.60 L741.93,211.61 L742.43,211.62 L742.93,211.63 L743.43,211.64 L743.93,211.66 L744.43,211.69 L744.94,211.71 L745.44,211.74 L745.94,211.78 L746.44,211.82 L746.94,211.86 L747.44,211.90 L747.94,211.95 L748.44,212.00 L748.94,212.05 L749.44,212.11 L749.94,212.17 L750.44,212.23 L750.94,212.30 L751.44,212.37 L751.94,212.44 L752.44,212.52 L752.94,212.59 L753.44,212.67 L753.95,212.76 L754.45,212.84 L754.95,212.93 L755.45,213.02 L755.95,213.11 L756.45,213.20 L756.95,213.30 L757.45,213.39 L757.95,213.49 L758.45,213.59 L758.95,213.70 L759.45,213.80 L759.95,213.90 L760.45,214.01 L760.95,214.12 L761.45,214.23 L761.95,214.34 L762.45,214.45 L762.95,214.56 L763.46,214.67 L763.96,214.78 L764.46,214.89 L764.96,215.01 L765.46,215.12 L765.96,215.23 L766.46,215.35 L766.96,215.46 L767.46,215.58 L767.96,215.69 L768.46,215.81 L768.96,215.92 L769.46,216.03 L769.96,216.15 L770.46,216.26 L770.96,216.37 L771.46,216.48 L771.96,216.59 L772.47,216.70 L772.97,216.81 L773.47,216.92 L773.97,217.03 L774.47,217.13 L774.97,217.24 L775.47,217.34 L775.97,217.45 L776.47,217.55 L776.97,217.65 L777.47,217.75 L777.97,217.85 L778.47,217.95 L778.97,218.04 L779.47,218.14 L779.97,218.23 L780.47,218.32 L780.97,218.41 L781.47,218.50 L781.98,218.59 L782.48,218.67 L782.98,218.76 L783.48,218.84 L783.98,218.92 L784.48,219.00 L784.98,219.08 L785.48,219.16 L785.98,219.23 L786.48,219.30 L786.98,219.38 L787.48,219.45 L787.98,219.52 L788.48,219.58 L788.98,219.65 L789.48,219.71 L789.98,219.77 L790.48,219.83 L790.98,219.89 L791.49,219.95 L791.99,220.01 L792.49,220.06 L792.99,220.12 L793.49,220.17 L793.99,220.22 L794.49,220.27 L794.99,220.32 L795.49,220.36 L795.99,220.41 L796.49,220.45 L796.99,220.49 L797.49,220.53 L797.99,220.57 L798.49,220.61 L798.99,220.65 L799.49,220.69 L799.99,220.72 L800.50,220.75 L801.00,220.79 L801.50,220.82 L802.00,220.85 L802.50,220.88 L803.00,220.91 L803.50,220.93 L804.00,220.96 L804.50,220.99 L805.00,221.01 L805.00,221.60 L666.35,221.60 Z" fill="#fce5bb" fill-opacity="1.0" stroke="none"/>
<path d="M618.80,222.50 L622.30,222.00 L626.90,222.50 L630.10,221.60 L634.20,222.50 L638.80,221.60 L642.50,220.70 L646.60,219.30 L650.70,221.60 L654.40,222.50 L659.50,220.80 L663.60,223.60 L668.20,220.70 L672.30,222.00 L676.40,223.60 L681.00,222.50 L685.10,223.40 L688.30,222.50 L692.90,219.70 L696.60,219.90 L701.20,221.60 L705.70,219.30 L710.00,219.30 L713.70,217.90 L717.80,213.80 L721.90,217.00 L726.50,212.40 L730.20,213.80 L734.70,210.80 L743.00,210.80 L747.10,215.60 L751.20,212.00 L754.00,214.20 L759.50,213.80 L767.70,214.40 L771.40,217.20 L776.00,216.30 L780.60,221.10 L787.90,219.30 L792.50,218.40 L798.00,218.60 L801.70,220.20 L805.20,220.20" fill="none" stroke="#141414" stroke-width="1.6" stroke-linejoin="round"/>
<path d="M671.70,333.60 L676.20,329.10 L680.30,333.00 L688.80,333.40 L696.50,333.60 L701.00,330.30 L705.00,333.00 L709.50,331.40 L714.00,333.40 L722.10,333.60 L726.20,336.60 L731.10,332.70 L734.70,331.20 L738.60,327.30 L743.10,333.00 L747.10,331.20 L751.20,333.20 L759.70,333.00 L763.80,331.60 L767.80,333.00 L775.90,333.00 L780.40,331.20 L784.50,333.00 L788.50,331.60 L793.00,333.20 L797.10,334.50 L800.20,333.20 L805.20,333.20" fill="none" stroke="#141414" stroke-width="1.6" stroke-linejoin="round"/>
<rect x="921.00" y="108.70" width="119.00" height="1.20" fill="#a4a4d7"/>
<line x1="921.00" y1="109.90" x2="1040.00" y2="109.90" stroke="#7274b0" stroke-width="1.0"/>
<rect x="932.00" y="220.50" width="93.00" height="1.20" fill="#a4a4d7"/>
<line x1="932.00" y1="221.70" x2="1025.00" y2="221.70" stroke="#7274b0" stroke-width="1.0"/>
<rect x="914.00" y="331.80" width="120.00" height="1.20" fill="#a4a4d7"/>
<line x1="914.00" y1="333.00" x2="1034.00" y2="333.00" stroke="#7274b0" stroke-width="1.0"/>
<path d="M943.41,109.06 L943.91,109.02 L944.41,108.97 L944.92,108.92 L945.42,108.86 L945.92,108.79 L946.42,108.71 L946.92,108.62 L947.42,108.52 L947.92,108.41 L948.42,108.28 L948.92,108.14 L949.43,107.98 L949.93,107.81 L950.43,107.61 L950.93,107.40 L951.43,107.16 L951.93,106.91 L952.43,106.62 L952.93,106.32 L953.43,105.98 L953.94,105.62 L954.44,105.23 L954.94,104.81 L955.44,104.36 L955.94,103.88 L956.44,103.36 L956.94,102.82 L957.44,102.24 L957.94,101.64 L958.44,101.00 L958.95,100.33 L959.45,99.64 L959.95,98.92 L960.45,98.17 L960.95,97.41 L961.45,96.62 L961.95,95.82 L962.45,95.00 L962.95,94.17 L963.46,93.34 L963.96,92.51 L964.46,91.68 L964.96,90.85 L965.46,90.04 L965.96,89.25 L966.46,88.48 L966.96,87.73 L967.46,87.02 L967.97,86.34 L968.47,85.71 L968.97,85.12 L969.47,84.59 L969.97,84.10 L970.47,83.68 L970.97,83.32 L971.47,83.02 L971.97,82.78 L972.48,82.62 L972.98,82.53 L973.48,82.50 L973.98,82.55 L974.48,82.66 L974.98,82.85 L975.48,83.10 L975.98,83.42 L976.48,83.80 L976.98,84.25 L977.49,84.75 L977.99,85.30 L978.49,85.90 L978.99,86.55 L979.49,87.23 L979.99,87.96 L980.49,88.71 L980.99,89.49 L981.49,90.29 L982.00,91.10 L982.50,91.93 L983.00,92.76 L983.50,93.60 L984.00,94.43 L984.50,95.25 L985.00,96.06 L985.50,96.86 L986.00,97.64 L986.51,98.41 L987.01,99.14 L987.51,99.86 L988.01,100.54 L988.51,101.20 L989.01,101.83 L989.51,102.43 L990.01,102.99 L990.51,103.53 L991.02,104.03 L991.52,104.50 L992.02,104.94 L992.52,105.35 L993.02,105.74 L993.52,106.09 L994.02,106.41 L994.52,106.71 L995.02,106.99 L995.52,107.24 L996.03,107.47 L996.53,107.68 L997.03,107.86 L997.53,108.03 L998.03,108.19 L998.53,108.32 L999.03,108.44 L999.53,108.55 L1000.03,108.65 L1000.54,108.73 L1001.04,108.81 L1001.54,108.88 L1002.04,108.94 L1002.54,108.99 L1003.04,109.03 L1003.54,109.07 L1003.54,109.30 L943.41,109.30 Z" fill="#dadaf0" fill-opacity="1.0" stroke="none"/>
<path d="M943.41,109.06 L943.91,109.02 L944.41,108.97 L944.92,108.92 L945.42,108.86 L945.92,108.79 L946.42,108.71 L946.92,108.62 L947.42,108.52 L947.92,108.41 L948.42,108.28 L948.92,108.14 L949.43,107.98 L949.93,107.81 L950.43,107.61 L950.93,107.40 L951.43,107.16 L951.93,106.91 L952.43,106.62 L952.93,106.32 L953.43,105.98 L953.94,105.62 L954.44,105.23 L954.94,104.81 L955.44,104.36 L955.94,103.88 L956.44,103.36 L956.94,102.82 L957.44,102.24 L957.94,101.64 L958.44,101.00 L958.95,100.33 L959.45,99.64 L959.95,98.92 L960.45,98.17 L960.95,97.41 L961.45,96.62 L961.95,95.82 L962.45,95.00 L962.95,94.17 L963.46,93.34 L963.96,92.51 L964.46,91.68 L964.96,90.85 L965.46,90.04 L965.96,89.25 L966.46,88.48 L966.96,87.73 L967.46,87.02 L967.97,86.34 L968.47,85.71 L968.97,85.12 L969.47,84.59 L969.97,84.10 L970.47,83.68 L970.97,83.32 L971.47,83.02 L971.97,82.78 L972.48,82.62 L972.98,82.53 L973.48,82.50 L973.98,82.55 L974.48,82.66 L974.98,82.85 L975.48,83.10 L975.98,83.42 L976.48,83.80 L976.98,84.25 L977.49,84.75 L977.99,85.30 L978.49,85.90 L978.99,86.55 L979.49,87.23 L979.99,87.96 L980.49,88.71 L980.99,89.49 L981.49,90.29 L982.00,91.10 L982.50,91.93 L983.00,92.76 L983.50,93.60 L984.00,94.43 L984.50,95.25 L985.00,96.06 L985.50,96.86 L986.00,97.64 L986.51,98.41 L987.01,99.14 L987.51,99.86 L988.01,100.54 L988.51,101.20 L989.01,101.83 L989.51,102.43 L990.01,102.99 L990.51,103.53 L991.02,104.03 L991.52,104.50 L992.02,104.94 L992.52,105.35 L993.02,105.74 L993.52,106.09 L994.02,106.41 L994.52,106.71 L995.02,106.99 L995.52,107.24 L996.03,107.47 L996.53,107.68 L997.03,107.86 L997.53,108.03 L998.03,108.19 L998.53,108.32 L999.03,108.44 L999.53,108.55 L1000.03,108.65 L1000.54,108.73 L1001.04,108.81 L1001.54,108.88 L1002.04,108.94 L1002.54,108.99 L1003.04,109.03 L1003.54,109.07" fill="none" stroke="#8d8fc4" stroke-width="0.6"/>
<path d="M954.44,109.05 L954.94,109.04 L955.44,109.04 L955.94,109.03 L956.44,109.02 L956.94,109.01 L957.44,109.00 L957.94,108.98 L958.44,108.97 L958.95,108.95 L959.45,108.94 L959.95,108.92 L960.45,108.90 L960.95,108.88 L961.45,108.85 L961.95,108.83 L962.45,108.80 L962.95,108.76 L963.46,108.73 L963.96,108.69 L964.46,108.64 L964.96,108.59 L965.46,108.54 L965.96,108.48 L966.46,108.42 L966.96,108.35 L967.46,108.27 L967.97,108.18 L968.47,108.09 L968.97,107.98 L969.47,107.87 L969.97,107.75 L970.47,107.61 L970.97,107.46 L971.47,107.30 L971.97,107.13 L972.48,106.94 L972.98,106.74 L973.48,106.52 L973.98,106.28 L974.48,106.02 L974.98,105.74 L975.48,105.44 L975.98,105.12 L976.48,104.77 L976.98,104.40 L977.49,104.01 L977.99,103.59 L978.49,103.14 L978.99,102.66 L979.49,102.15 L979.99,101.61 L980.49,101.04 L980.99,100.43 L981.49,99.80 L982.00,99.13 L982.50,98.42 L983.00,97.68 L983.50,96.91 L984.00,96.10 L984.50,95.25 L985.00,94.37 L985.50,93.46 L986.00,92.51 L986.51,91.53 L987.01,90.51 L987.51,89.46 L988.01,88.38 L988.51,87.27 L989.01,86.14 L989.51,84.98 L990.01,83.79 L990.51,82.59 L991.02,81.36 L991.52,80.12 L992.02,78.87 L992.52,77.60 L993.02,76.33 L993.52,75.06 L994.02,73.78 L994.52,72.51 L995.02,71.25 L995.52,69.99 L996.03,68.76 L996.53,67.54 L997.03,66.35 L997.53,65.18 L998.03,64.05 L998.53,62.96 L999.03,61.90 L999.53,60.90 L1000.03,59.94 L1000.54,59.03 L1001.04,58.18 L1001.54,57.39 L1002.04,56.67 L1002.54,56.02 L1003.04,55.43 L1003.54,54.92 L1004.04,54.48 L1004.54,54.13 L1005.05,53.85 L1005.55,53.65 L1006.05,53.53 L1006.55,53.50 L1007.05,53.55 L1007.55,53.68 L1008.05,53.89 L1008.55,54.19 L1009.05,54.56 L1009.56,55.01 L1010.06,55.54 L1010.56,56.14 L1011.06,56.81 L1011.56,57.54 L1012.06,58.34 L1012.56,59.20 L1013.06,60.12 L1013.56,61.09 L1014.06,62.10 L1014.57,63.17 L1015.07,64.27 L1015.57,65.41 L1016.07,66.58 L1016.57,67.77 L1017.07,69.00 L1017.57,70.24 L1018.07,71.49 L1018.57,72.76 L1019.08,74.03 L1019.58,75.30 L1020.08,76.58 L1020.58,77.85 L1021.08,79.11 L1021.58,80.36 L1022.08,81.60 L1022.58,82.82 L1023.08,84.03 L1023.59,85.21 L1024.09,86.36 L1024.59,87.49 L1025.09,88.59 L1025.59,89.67 L1026.09,90.71 L1026.59,91.72 L1027.09,92.70 L1027.59,93.64 L1028.10,94.55 L1028.60,95.42 L1029.10,96.26 L1029.60,97.06 L1030.10,97.83 L1030.60,98.56 L1031.10,99.26 L1031.60,99.92 L1032.10,100.55 L1032.60,101.15 L1033.11,101.72 L1033.61,102.25 L1034.11,102.75 L1034.61,103.23 L1035.11,103.67 L1035.61,104.09 L1036.11,104.48 L1036.61,104.84 L1037.11,105.18 L1037.62,105.50 L1038.12,105.80 L1038.62,106.07 L1039.12,106.32 L1039.62,106.56 L1040.12,106.78 L1040.62,106.98 L1041.12,107.17 L1041.62,107.34 L1042.13,107.49 L1042.63,107.64 L1043.13,107.77 L1043.63,107.89 L1044.13,108.00 L1044.63,108.11 L1045.13,108.20 L1045.63,108.28 L1046.13,108.36 L1046.64,108.43 L1047.14,108.49 L1047.64,108.55 L1048.14,108.60 L1048.64,108.65 L1049.14,108.70 L1049.64,108.73 L1050.14,108.77 L1050.64,108.80 L1051.14,108.83 L1051.65,108.86 L1052.15,108.88 L1052.65,108.90 L1053.15,108.92 L1053.65,108.94 L1054.15,108.96 L1054.65,108.97 L1055.15,108.99 L1055.65,109.00 L1056.16,109.01 L1056.66,109.02 L1057.16,109.03 L1057.66,109.04 L1058.16,109.05 L1058.66,109.05 L1058.66,109.30 L954.44,109.30 Z" fill="#dadaf0" fill-opacity="1.0" stroke="none"/>
<path d="M954.44,109.05 L954.94,109.04 L955.44,109.04 L955.94,109.03 L956.44,109.02 L956.94,109.01 L957.44,109.00 L957.94,108.98 L958.44,108.97 L958.95,108.95 L959.45,108.94 L959.95,108.92 L960.45,108.90 L960.95,108.88 L961.45,108.85 L961.95,108.83 L962.45,108.80 L962.95,108.76 L963.46,108.73 L963.96,108.69 L964.46,108.64 L964.96,108.59 L965.46,108.54 L965.96,108.48 L966.46,108.42 L966.96,108.35 L967.46,108.27 L967.97,108.18 L968.47,108.09 L968.97,107.98 L969.47,107.87 L969.97,107.75 L970.47,107.61 L970.97,107.46 L971.47,107.30 L971.97,107.13 L972.48,106.94 L972.98,106.74 L973.48,106.52 L973.98,106.28 L974.48,106.02 L974.98,105.74 L975.48,105.44 L975.98,105.12 L976.48,104.77 L976.98,104.40 L977.49,104.01 L977.99,103.59 L978.49,103.14 L978.99,102.66 L979.49,102.15 L979.99,101.61 L980.49,101.04 L980.99,100.43 L981.49,99.80 L982.00,99.13 L982.50,98.42 L983.00,97.68 L983.50,96.91 L984.00,96.10 L984.50,95.25 L985.00,94.37 L985.50,93.46 L986.00,92.51 L986.51,91.53 L987.01,90.51 L987.51,89.46 L988.01,88.38 L988.51,87.27 L989.01,86.14 L989.51,84.98 L990.01,83.79 L990.51,82.59 L991.02,81.36 L991.52,80.12 L992.02,78.87 L992.52,77.60 L993.02,76.33 L993.52,75.06 L994.02,73.78 L994.52,72.51 L995.02,71.25 L995.52,69.99 L996.03,68.76 L996.53,67.54 L997.03,66.35 L997.53,65.18 L998.03,64.05 L998.53,62.96 L999.03,61.90 L999.53,60.90 L1000.03,59.94 L1000.54,59.03 L1001.04,58.18 L1001.54,57.39 L1002.04,56.67 L1002.54,56.02 L1003.04,55.43 L1003.54,54.92 L1004.04,54.48 L1004.54,54.13 L1005.05,53.85 L1005.55,53.65 L1006.05,53.53 L1006.55,53.50 L1007.05,53.55 L1007.55,53.68 L1008.05,53.89 L1008.55,54.19 L1009.05,54.56 L1009.56,55.01 L1010.06,55.54 L1010.56,56.14 L1011.06,56.81 L1011.56,57.54 L1012.06,58.34 L1012.56,59.20 L1013.06,60.12 L1013.56,61.09 L1014.06,62.10 L1014.57,63.17 L1015.07,64.27 L1015.57,65.41 L1016.07,66.58 L1016.57,67.77 L1017.07,69.00 L1017.57,70.24 L1018.07,71.49 L1018.57,72.76 L1019.08,74.03 L1019.58,75.30 L1020.08,76.58 L1020.58,77.85 L1021.08,79.11 L1021.58,80.36 L1022.08,81.60 L1022.58,82.82 L1023.08,84.03 L1023.59,85.21 L1024.09,86.36 L1024.59,87.49 L1025.09,88.59 L1025.59,89.67 L1026.09,90.71 L1026.59,91.72 L1027.09,92.70 L1027.59,93.64 L1028.10,94.55 L1028.60,95.42 L1029.10,96.26 L1029.60,97.06 L1030.10,97.83 L1030.60,98.56 L1031.10,99.26 L1031.60,99.92 L1032.10,100.55 L1032.60,101.15 L1033.11,101.72 L1033.61,102.25 L1034.11,102.75 L1034.61,103.23 L1035.11,103.67 L1035.61,104.09 L1036.11,104.48 L1036.61,104.84 L1037.11,105.18 L1037.62,105.50 L1038.12,105.80 L1038.62,106.07 L1039.12,106.32 L1039.62,106.56 L1040.12,106.78 L1040.62,106.98 L1041.12,107.17 L1041.62,107.34 L1042.13,107.49 L1042.63,107.64 L1043.13,107.77 L1043.63,107.89 L1044.13,108.00 L1044.63,108.11 L1045.13,108.20 L1045.63,108.28 L1046.13,108.36 L1046.64,108.43 L1047.14,108.49 L1047.64,108.55 L1048.14,108.60 L1048.64,108.65 L1049.14,108.70 L1049.64,108.73 L1050.14,108.77 L1050.64,108.80 L1051.14,108.83 L1051.65,108.86 L1052.15,108.88 L1052.65,108.90 L1053.15,108.92 L1053.65,108.94 L1054.15,108.96 L1054.65,108.97 L1055.15,108.99 L1055.65,109.00 L1056.16,109.01 L1056.66,109.02 L1057.16,109.03 L1057.66,109.04 L1058.16,109.05 L1058.66,109.05" fill="none" stroke="#8d8fc4" stroke-width="0.6"/>
<path d="M914.35,109.06 L914.85,109.04 L915.35,109.02 L915.85,109.00 L916.35,108.97 L916.86,108.95 L917.36,108.92 L917.86,108.89 L918.36,108.85 L918.86,108.82 L919.36,108.78 L919.86,108.74 L920.36,108.69 L920.86,108.64 L921.36,108.59 L921.87,108.53 L922.37,108.47 L922.87,108.40 L923.37,108.33 L923.87,108.26 L924.37,108.18 L924.87,108.09 L925.37,108.00 L925.87,107.90 L926.38,107.80 L926.88,107.69 L927.38,107.57 L927.88,107.45 L928.38,107.32 L928.88,107.18 L929.38,107.04 L929.88,106.89 L930.38,106.73 L930.89,106.56 L931.39,106.39 L931.89,106.21 L932.39,106.02 L932.89,105.82 L933.39,105.62 L933.89,105.41 L934.39,105.19 L934.89,104.96 L935.40,104.73 L935.90,104.48 L936.40,104.24 L936.90,103.98 L937.40,103.72 L937.90,103.46 L938.40,103.18 L938.90,102.91 L939.40,102.63 L939.90,102.34 L940.41,102.05 L940.91,101.76 L941.41,101.47 L941.91,101.17 L942.41,100.87 L942.91,100.58 L943.41,100.28 L943.91,99.99 L944.41,99.70 L944.92,99.41 L945.42,99.12 L945.92,98.84 L946.42,98.57 L946.92,98.30 L947.42,98.04 L947.92,97.79 L948.42,97.54 L948.92,97.31 L949.43,97.09 L949.93,96.88 L950.43,96.68 L950.93,96.49 L951.43,96.32 L951.93,96.17 L952.43,96.03 L952.93,95.90 L953.43,95.79 L953.94,95.70 L954.44,95.62 L954.94,95.57 L955.44,95.53 L955.94,95.50 L956.44,95.50 L956.94,95.51 L957.44,95.55 L957.94,95.60 L958.44,95.66 L958.95,95.75 L959.45,95.85 L959.95,95.97 L960.45,96.10 L960.95,96.25 L961.45,96.42 L961.95,96.60 L962.45,96.79 L962.95,96.99 L963.46,97.21 L963.96,97.44 L964.46,97.68 L964.96,97.93 L965.46,98.18 L965.96,98.45 L966.46,98.72 L966.96,99.00 L967.46,99.28 L967.97,99.57 L968.47,99.86 L968.97,100.15 L969.47,100.45 L969.97,100.74 L970.47,101.04 L970.97,101.34 L971.47,101.63 L971.97,101.92 L972.48,102.21 L972.98,102.50 L973.48,102.78 L973.98,103.06 L974.48,103.34 L974.98,103.61 L975.48,103.87 L975.98,104.13 L976.48,104.38 L976.98,104.62 L977.49,104.86 L977.99,105.09 L978.49,105.31 L978.99,105.53 L979.49,105.73 L979.99,105.93 L980.49,106.13 L980.99,106.31 L981.49,106.49 L982.00,106.66 L982.50,106.82 L983.00,106.97 L983.50,107.12 L984.00,107.26 L984.50,107.39 L985.00,107.52 L985.50,107.64 L986.00,107.75 L986.51,107.86 L987.01,107.96 L987.51,108.05 L988.01,108.14 L988.51,108.22 L989.01,108.30 L989.51,108.37 L990.01,108.44 L990.51,108.50 L991.02,108.56 L991.52,108.62 L992.02,108.67 L992.52,108.72 L993.02,108.76 L993.52,108.80 L994.02,108.84 L994.52,108.87 L995.02,108.91 L995.52,108.94 L996.03,108.96 L996.53,108.99 L997.03,109.01 L997.53,109.03 L998.03,109.05 L998.03,109.30 L914.35,109.30 Z" fill="#a4a4d7" fill-opacity="1.0" stroke="none"/>
<path d="M950.93,109.06 L951.43,109.04 L951.93,109.02 L952.43,109.00 L952.93,108.97 L953.43,108.95 L953.94,108.92 L954.44,108.88 L954.94,108.85 L955.44,108.81 L955.94,108.76 L956.44,108.71 L956.94,108.65 L957.44,108.59 L957.94,108.52 L958.44,108.44 L958.95,108.35 L959.45,108.26 L959.95,108.15 L960.45,108.04 L960.95,107.91 L961.45,107.77 L961.95,107.62 L962.45,107.45 L962.95,107.27 L963.46,107.07 L963.96,106.86 L964.46,106.63 L964.96,106.38 L965.46,106.11 L965.96,105.83 L966.46,105.52 L966.96,105.18 L967.46,104.83 L967.97,104.45 L968.47,104.05 L968.97,103.63 L969.47,103.17 L969.97,102.70 L970.47,102.20 L970.97,101.67 L971.47,101.12 L971.97,100.54 L972.48,99.94 L972.98,99.31 L973.48,98.66 L973.98,97.99 L974.48,97.29 L974.98,96.58 L975.48,95.85 L975.98,95.10 L976.48,94.33 L976.98,93.56 L977.49,92.77 L977.99,91.97 L978.49,91.17 L978.99,90.37 L979.49,89.57 L979.99,88.77 L980.49,87.98 L980.99,87.20 L981.49,86.43 L982.00,85.68 L982.50,84.95 L983.00,84.24 L983.50,83.57 L984.00,82.92 L984.50,82.31 L985.00,81.74 L985.50,81.20 L986.00,80.72 L986.51,80.28 L987.01,79.89 L987.51,79.55 L988.01,79.27 L988.51,79.04 L989.01,78.87 L989.51,78.76 L990.01,78.70 L990.51,78.71 L991.02,78.78 L991.52,78.91 L992.02,79.09 L992.52,79.33 L993.02,79.63 L993.52,79.98 L994.02,80.38 L994.52,80.84 L995.02,81.34 L995.52,81.88 L996.03,82.46 L996.53,83.08 L997.03,83.74 L997.53,84.42 L998.03,85.13 L998.53,85.87 L999.03,86.62 L999.53,87.39 L1000.03,88.18 L1000.54,88.97 L1001.04,89.77 L1001.54,90.57 L1002.04,91.38 L1002.54,92.18 L1003.04,92.97 L1003.54,93.75 L1004.04,94.53 L1004.54,95.29 L1005.05,96.03 L1005.55,96.76 L1006.05,97.47 L1006.55,98.16 L1007.05,98.83 L1007.55,99.47 L1008.05,100.09 L1008.55,100.69 L1009.05,101.26 L1009.56,101.81 L1010.06,102.33 L1010.56,102.82 L1011.06,103.29 L1011.56,103.74 L1012.06,104.16 L1012.56,104.55 L1013.06,104.92 L1013.56,105.27 L1014.06,105.60 L1014.57,105.90 L1015.07,106.18 L1015.57,106.45 L1016.07,106.69 L1016.57,106.92 L1017.07,107.13 L1017.57,107.32 L1018.07,107.50 L1018.57,107.66 L1019.08,107.81 L1019.58,107.94 L1020.08,108.07 L1020.58,108.18 L1021.08,108.28 L1021.58,108.37 L1022.08,108.46 L1022.58,108.53 L1023.08,108.60 L1023.59,108.67 L1024.09,108.72 L1024.59,108.77 L1025.09,108.82 L1025.59,108.86 L1026.09,108.89 L1026.59,108.93 L1027.09,108.96 L1027.59,108.98 L1028.10,109.00 L1028.60,109.02 L1029.10,109.04 L1029.60,109.06 L1029.60,109.30 L950.93,109.30 Z" fill="#a4a4d7" fill-opacity="1.0" stroke="none"/>
<path d="M914.35,109.06 L914.85,109.04 L915.35,109.02 L915.85,109.00 L916.35,108.97 L916.86,108.95 L917.36,108.92 L917.86,108.89 L918.36,108.85 L918.86,108.82 L919.36,108.78 L919.86,108.74 L920.36,108.69 L920.86,108.64 L921.36,108.59 L921.87,108.53 L922.37,108.47 L922.87,108.40 L923.37,108.33 L923.87,108.26 L924.37,108.18 L924.87,108.09 L925.37,108.00 L925.87,107.90 L926.38,107.80 L926.88,107.69 L927.38,107.57 L927.88,107.45 L928.38,107.32 L928.88,107.18 L929.38,107.04 L929.88,106.89 L930.38,106.73 L930.89,106.56 L931.39,106.39 L931.89,106.21 L932.39,106.02 L932.89,105.82 L933.39,105.62 L933.89,105.41 L934.39,105.19 L934.89,104.96 L935.40,104.73 L935.90,104.48 L936.40,104.24 L936.90,103.98 L937.40,103.72 L937.90,103.46 L938.40,103.18 L938.90,102.91 L939.40,102.63 L939.90,102.34 L940.41,102.05 L940.91,101.76 L941.41,101.47 L941.91,101.17 L942.41,100.87 L942.91,100.58 L943.41,100.28 L943.91,99.99 L944.41,99.70 L944.92,99.41 L945.42,99.12 L945.92,98.84 L946.42,98.57 L946.92,98.30 L947.42,98.04 L947.92,97.79 L948.42,97.54 L948.92,97.31 L949.43,97.09 L949.93,96.88 L950.43,96.68 L950.93,96.49 L951.43,96.32 L951.93,96.17 L952.43,96.03 L952.93,95.90 L953.43,95.79 L953.94,95.70 L954.44,95.62 L954.94,95.57 L955.44,95.53 L955.94,95.50 L956.44,95.50 L956.94,95.51 L957.44,95.55 L957.94,95.60 L958.44,95.66 L958.95,95.75 L959.45,95.85 L959.95,95.97 L960.45,96.10 L960.95,96.25 L961.45,96.42 L961.95,96.60 L962.45,96.79 L962.95,96.99 L963.46,97.21 L963.96,97.44 L964.46,97.68 L964.96,97.93 L965.46,98.18 L965.96,98.45 L966.46,98.72 L966.96,99.00 L967.46,99.28 L967.97,99.57 L968.47,99.86 L968.97,100.15 L969.47,100.45 L969.97,100.74 L970.47,101.04 L970.97,101.34 L971.47,101.63 L971.97,101.92 L972.48,102.21 L972.98,102.50 L973.48,102.78 L973.98,103.06 L974.48,103.34 L974.98,103.61 L975.48,103.87 L975.98,104.13 L976.48,104.38 L976.98,104.62 L977.49,104.86 L977.99,105.09 L978.49,105.31 L978.99,105.53 L979.49,105.73 L979.99,105.93 L980.49,106.13 L980.99,106.31 L981.49,106.49 L982.00,106.66 L982.50,106.82 L983.00,106.97 L983.50,107.12 L984.00,107.26 L984.50,107.39 L985.00,107.52 L985.50,107.64 L986.00,107.75 L986.51,107.86 L987.01,107.96 L987.51,108.05 L988.01,108.14 L988.51,108.22 L989.01,108.30 L989.51,108.37 L990.01,108.44 L990.51,108.50 L991.02,108.56 L991.52,108.62 L992.02,108.67 L992.52,108.72 L993.02,108.76 L993.52,108.80 L994.02,108.84 L994.52,108.87 L995.02,108.91 L995.52,108.94 L996.03,108.96 L996.53,108.99 L997.03,109.01 L997.53,109.03 L998.03,109.05" fill="none" stroke="#4c4e92" stroke-width="0.6"/>
<path d="M950.93,109.06 L951.43,109.04 L951.93,109.02 L952.43,109.00 L952.93,108.97 L953.43,108.95 L953.94,108.92 L954.44,108.88 L954.94,108.85 L955.44,108.81 L955.94,108.76 L956.44,108.71 L956.94,108.65 L957.44,108.59 L957.94,108.52 L958.44,108.44 L958.95,108.35 L959.45,108.26 L959.95,108.15 L960.45,108.04 L960.95,107.91 L961.45,107.77 L961.95,107.62 L962.45,107.45 L962.95,107.27 L963.46,107.07 L963.96,106.86 L964.46,106.63 L964.96,106.38 L965.46,106.11 L965.96,105.83 L966.46,105.52 L966.96,105.18 L967.46,104.83 L967.97,104.45 L968.47,104.05 L968.97,103.63 L969.47,103.17 L969.97,102.70 L970.47,102.20 L970.97,101.67 L971.47,101.12 L971.97,100.54 L972.48,99.94 L972.98,99.31 L973.48,98.66 L973.98,97.99 L974.48,97.29 L974.98,96.58 L975.48,95.85 L975.98,95.10 L976.48,94.33 L976.98,93.56 L977.49,92.77 L977.99,91.97 L978.49,91.17 L978.99,90.37 L979.49,89.57 L979.99,88.77 L980.49,87.98 L980.99,87.20 L981.49,86.43 L982.00,85.68 L982.50,84.95 L983.00,84.24 L983.50,83.57 L984.00,82.92 L984.50,82.31 L985.00,81.74 L985.50,81.20 L986.00,80.72 L986.51,80.28 L987.01,79.89 L987.51,79.55 L988.01,79.27 L988.51,79.04 L989.01,78.87 L989.51,78.76 L990.01,78.70 L990.51,78.71 L991.02,78.78 L991.52,78.91 L992.02,79.09 L992.52,79.33 L993.02,79.63 L993.52,79.98 L994.02,80.38 L994.52,80.84 L995.02,81.34 L995.52,81.88 L996.03,82.46 L996.53,83.08 L997.03,83.74 L997.53,84.42 L998.03,85.13 L998.53,85.87 L999.03,86.62 L999.53,87.39 L1000.03,88.18 L1000.54,88.97 L1001.04,89.77 L1001.54,90.57 L1002.04,91.38 L1002.54,92.18 L1003.04,92.97 L1003.54,93.75 L1004.04,94.53 L1004.54,95.29 L1005.05,96.03 L1005.55,96.76 L1006.05,97.47 L1006.55,98.16 L1007.05,98.83 L1007.55,99.47 L1008.05,100.09 L1008.55,100.69 L1009.05,101.26 L1009.56,101.81 L1010.06,102.33 L1010.56,102.82 L1011.06,103.29 L1011.56,103.74 L1012.06,104.16 L1012.56,104.55 L1013.06,104.92 L1013.56,105.27 L1014.06,105.60 L1014.57,105.90 L1015.07,106.18 L1015.57,106.45 L1016.07,106.69 L1016.57,106.92 L1017.07,107.13 L1017.57,107.32 L1018.07,107.50 L1018.57,107.66 L1019.08,107.81 L1019.58,107.94 L1020.08,108.07 L1020.58,108.18 L1021.08,108.28 L1021.58,108.37 L1022.08,108.46 L1022.58,108.53 L1023.08,108.60 L1023.59,108.67 L1024.09,108.72 L1024.59,108.77 L1025.09,108.82 L1025.59,108.86 L1026.09,108.89 L1026.59,108.93 L1027.09,108.96 L1027.59,108.98 L1028.10,109.00 L1028.60,109.02 L1029.10,109.04 L1029.60,109.06" fill="none" stroke="#4c4e92" stroke-width="0.6"/>
<path d="M891.30,109.10 L895.85,109.07 L902.46,109.04 L909.90,108.98 L916.96,108.85 L922.40,108.60 L925.95,108.26 L928.42,107.85 L930.24,107.34 L931.83,106.70 L933.60,105.90 L935.53,104.96 L937.32,103.91 L939.04,102.71 L940.75,101.32 L942.50,99.70 L944.30,97.78 L946.10,95.58 L947.90,93.22 L949.70,90.82 L951.50,88.50 L953.32,86.21 L955.17,83.86 L957.00,81.54 L958.76,79.32 L960.40,77.30 L961.86,75.47 L963.17,73.78 L964.43,72.22 L965.74,70.79 L967.20,69.50 L968.93,68.38 L970.85,67.42 L972.80,66.58 L974.61,65.80 L976.10,65.00 L977.17,64.32 L977.94,63.79 L978.56,63.23 L979.20,62.46 L980.00,61.30 L981.01,59.58 L982.13,57.42 L983.30,55.07 L984.44,52.78 L985.50,50.80 L986.48,49.15 L987.42,47.68 L988.33,46.32 L989.19,45.05 L990.00,43.80 L990.73,42.55 L991.39,41.34 L992.01,40.20 L992.67,39.18 L993.40,38.30 L994.21,37.57 L995.07,36.97 L995.97,36.50 L996.91,36.14 L997.90,35.90 L998.97,35.74 L1000.11,35.66 L1001.29,35.72 L1002.43,35.98 L1003.50,36.50 L1004.47,37.27 L1005.38,38.25 L1006.26,39.45 L1007.12,40.90 L1008.00,42.60 L1008.85,44.54 L1009.65,46.70 L1010.47,49.12 L1011.37,51.84 L1012.40,54.90 L1013.61,58.49 L1014.95,62.59 L1016.37,66.90 L1017.81,71.14 L1019.20,75.00 L1020.53,78.48 L1021.83,81.76 L1023.15,84.88 L1024.49,87.85 L1025.90,90.70 L1027.37,93.50 L1028.88,96.24 L1030.44,98.80 L1032.05,101.09 L1033.70,103.00 L1035.35,104.45 L1037.00,105.51 L1038.73,106.29 L1040.60,106.92 L1042.70,107.50 L1044.99,108.02 L1047.41,108.39 L1050.02,108.65 L1052.90,108.84 L1056.10,109.00 L1060.06,109.10 L1064.74,109.11 L1069.47,109.07 L1073.61,109.02 L1076.50,109.00" fill="none" stroke="#141414" stroke-width="1.6" stroke-linejoin="round"/>
<path d="M921.87,220.86 L922.37,220.85 L922.87,220.83 L923.37,220.81 L923.87,220.79 L924.37,220.77 L924.87,220.75 L925.37,220.72 L925.87,220.69 L926.38,220.67 L926.88,220.64 L927.38,220.60 L927.88,220.57 L928.38,220.53 L928.88,220.49 L929.38,220.45 L929.88,220.40 L930.38,220.35 L930.89,220.30 L931.39,220.25 L931.89,220.19 L932.39,220.13 L932.89,220.06 L933.39,219.99 L933.89,219.92 L934.39,219.84 L934.89,219.76 L935.40,219.67 L935.90,219.58 L936.40,219.49 L936.90,219.39 L937.40,219.28 L937.90,219.17 L938.40,219.06 L938.90,218.94 L939.40,218.81 L939.90,218.68 L940.41,218.54 L940.91,218.40 L941.41,218.25 L941.91,218.10 L942.41,217.94 L942.91,217.78 L943.41,217.61 L943.91,217.43 L944.41,217.25 L944.92,217.06 L945.42,216.87 L945.92,216.67 L946.42,216.47 L946.92,216.26 L947.42,216.04 L947.92,215.83 L948.42,215.60 L948.92,215.38 L949.43,215.15 L949.93,214.91 L950.43,214.67 L950.93,214.43 L951.43,214.19 L951.93,213.94 L952.43,213.70 L952.93,213.45 L953.43,213.19 L953.94,212.94 L954.44,212.69 L954.94,212.44 L955.44,212.19 L955.94,211.94 L956.44,211.69 L956.94,211.45 L957.44,211.20 L957.94,210.96 L958.44,210.73 L958.95,210.50 L959.45,210.27 L959.95,210.05 L960.45,209.84 L960.95,209.63 L961.45,209.43 L961.95,209.24 L962.45,209.06 L962.95,208.88 L963.46,208.72 L963.96,208.56 L964.46,208.42 L964.96,208.28 L965.46,208.16 L965.96,208.05 L966.46,207.95 L966.96,207.86 L967.46,207.78 L967.97,207.72 L968.47,207.67 L968.97,207.63 L969.47,207.61 L969.97,207.60 L970.47,207.60 L970.97,207.62 L971.47,207.65 L971.97,207.69 L972.48,207.75 L972.98,207.82 L973.48,207.90 L973.98,207.99 L974.48,208.10 L974.98,208.22 L975.48,208.34 L975.98,208.48 L976.48,208.63 L976.98,208.79 L977.49,208.96 L977.99,209.14 L978.49,209.33 L978.99,209.53 L979.49,209.73 L979.99,209.94 L980.49,210.16 L980.99,210.38 L981.49,210.61 L982.00,210.84 L982.50,211.08 L983.00,211.32 L983.50,211.56 L984.00,211.81 L984.50,212.06 L985.00,212.31 L985.50,212.56 L986.00,212.81 L986.51,213.06 L987.01,213.32 L987.51,213.57 L988.01,213.81 L988.51,214.06 L989.01,214.31 L989.51,214.55 L990.01,214.79 L990.51,215.02 L991.02,215.26 L991.52,215.49 L992.02,215.71 L992.52,215.93 L993.02,216.15 L993.52,216.36 L994.02,216.56 L994.52,216.77 L995.02,216.96 L995.52,217.15 L996.03,217.34 L996.53,217.52 L997.03,217.69 L997.53,217.86 L998.03,218.02 L998.53,218.18 L999.03,218.33 L999.53,218.47 L1000.03,218.61 L1000.54,218.74 L1001.04,218.87 L1001.54,219.00 L1002.04,219.11 L1002.54,219.23 L1003.04,219.33 L1003.54,219.44 L1004.04,219.54 L1004.54,219.63 L1005.05,219.72 L1005.55,219.80 L1006.05,219.88 L1006.55,219.96 L1007.05,220.03 L1007.55,220.09 L1008.05,220.16 L1008.55,220.22 L1009.05,220.27 L1009.56,220.33 L1010.06,220.38 L1010.56,220.42 L1011.06,220.47 L1011.56,220.51 L1012.06,220.55 L1012.56,220.59 L1013.06,220.62 L1013.56,220.65 L1014.06,220.68 L1014.57,220.71 L1015.07,220.73 L1015.57,220.76 L1016.07,220.78 L1016.57,220.80 L1017.07,220.82 L1017.57,220.84 L1018.07,220.85 L1018.07,221.10 L921.87,221.10 Z" fill="#a4a4d7" fill-opacity="1.0" stroke="none"/>
<path d="M967.46,220.86 L967.97,220.84 L968.47,220.81 L968.97,220.78 L969.47,220.74 L969.97,220.70 L970.47,220.66 L970.97,220.61 L971.47,220.55 L971.97,220.48 L972.48,220.41 L972.98,220.33 L973.48,220.23 L973.98,220.13 L974.48,220.02 L974.98,219.89 L975.48,219.75 L975.98,219.59 L976.48,219.42 L976.98,219.23 L977.49,219.03 L977.99,218.80 L978.49,218.56 L978.99,218.29 L979.49,218.00 L979.99,217.69 L980.49,217.36 L980.99,217.00 L981.49,216.62 L982.00,216.21 L982.50,215.78 L983.00,215.32 L983.50,214.83 L984.00,214.33 L984.50,213.80 L985.00,213.24 L985.50,212.67 L986.00,212.08 L986.51,211.46 L987.01,210.83 L987.51,210.19 L988.01,209.54 L988.51,208.87 L989.01,208.20 L989.51,207.53 L990.01,206.86 L990.51,206.19 L991.02,205.54 L991.52,204.89 L992.02,204.26 L992.52,203.66 L993.02,203.07 L993.52,202.52 L994.02,201.99 L994.52,201.51 L995.02,201.06 L995.52,200.66 L996.03,200.31 L996.53,200.00 L997.03,199.75 L997.53,199.55 L998.03,199.41 L998.53,199.33 L999.03,199.30 L999.53,199.33 L1000.03,199.42 L1000.54,199.57 L1001.04,199.78 L1001.54,200.04 L1002.04,200.35 L1002.54,200.71 L1003.04,201.12 L1003.54,201.57 L1004.04,202.06 L1004.54,202.59 L1005.05,203.15 L1005.55,203.73 L1006.05,204.34 L1006.55,204.98 L1007.05,205.62 L1007.55,206.28 L1008.05,206.95 L1008.55,207.62 L1009.05,208.29 L1009.56,208.96 L1010.06,209.62 L1010.56,210.27 L1011.06,210.92 L1011.56,211.54 L1012.06,212.15 L1012.56,212.75 L1013.06,213.32 L1013.56,213.87 L1014.06,214.40 L1014.57,214.90 L1015.07,215.38 L1015.57,215.83 L1016.07,216.26 L1016.57,216.67 L1017.07,217.05 L1017.57,217.40 L1018.07,217.73 L1018.57,218.04 L1019.08,218.33 L1019.58,218.59 L1020.08,218.83 L1020.58,219.05 L1021.08,219.26 L1021.58,219.44 L1022.08,219.61 L1022.58,219.77 L1023.08,219.91 L1023.59,220.03 L1024.09,220.15 L1024.59,220.25 L1025.09,220.34 L1025.59,220.42 L1026.09,220.49 L1026.59,220.56 L1027.09,220.61 L1027.59,220.66 L1028.10,220.71 L1028.60,220.75 L1029.10,220.78 L1029.60,220.81 L1030.10,220.84 L1030.60,220.86 L1030.60,221.10 L967.46,221.10 Z" fill="#a4a4d7" fill-opacity="1.0" stroke="none"/>
<path d="M921.87,220.86 L922.37,220.85 L922.87,220.83 L923.37,220.81 L923.87,220.79 L924.37,220.77 L924.87,220.75 L925.37,220.72 L925.87,220.69 L926.38,220.67 L926.88,220.64 L927.38,220.60 L927.88,220.57 L928.38,220.53 L928.88,220.49 L929.38,220.45 L929.88,220.40 L930.38,220.35 L930.89,220.30 L931.39,220.25 L931.89,220.19 L932.39,220.13 L932.89,220.06 L933.39,219.99 L933.89,219.92 L934.39,219.84 L934.89,219.76 L935.40,219.67 L935.90,219.58 L936.40,219.49 L936.90,219.39 L937.40,219.28 L937.90,219.17 L938.40,219.06 L938.90,218.94 L939.40,218.81 L939.90,218.68 L940.41,218.54 L940.91,218.40 L941.41,218.25 L941.91,218.10 L942.41,217.94 L942.91,217.78 L943.41,217.61 L943.91,217.43 L944.41,217.25 L944.92,217.06 L945.42,216.87 L945.92,216.67 L946.42,216.47 L946.92,216.26 L947.42,216.04 L947.92,215.83 L948.42,215.60 L948.92,215.38 L949.43,215.15 L949.93,214.91 L950.43,214.67 L950.93,214.43 L951.43,214.19 L951.93,213.94 L952.43,213.70 L952.93,213.45 L953.43,213.19 L953.94,212.94 L954.44,212.69 L954.94,212.44 L955.44,212.19 L955.94,211.94 L956.44,211.69 L956.94,211.45 L957.44,211.20 L957.94,210.96 L958.44,210.73 L958.95,210.50 L959.45,210.27 L959.95,210.05 L960.45,209.84 L960.95,209.63 L961.45,209.43 L961.95,209.24 L962.45,209.06 L962.95,208.88 L963.46,208.72 L963.96,208.56 L964.46,208.42 L964.96,208.28 L965.46,208.16 L965.96,208.05 L966.46,207.95 L966.96,207.86 L967.46,207.78 L967.97,207.72 L968.47,207.67 L968.97,207.63 L969.47,207.61 L969.97,207.60 L970.47,207.60 L970.97,207.62 L971.47,207.65 L971.97,207.69 L972.48,207.75 L972.98,207.82 L973.48,207.90 L973.98,207.99 L974.48,208.10 L974.98,208.22 L975.48,208.34 L975.98,208.48 L976.48,208.63 L976.98,208.79 L977.49,208.96 L977.99,209.14 L978.49,209.33 L978.99,209.53 L979.49,209.73 L979.99,209.94 L980.49,210.16 L980.99,210.38 L981.49,210.61 L982.00,210.84 L982.50,211.08 L983.00,211.32 L983.50,211.56 L984.00,211.81 L984.50,212.06 L985.00,212.31 L985.50,212.56 L986.00,212.81 L986.51,213.06 L987.01,213.32 L987.51,213.57 L988.01,213.81 L988.51,214.06 L989.01,214.31 L989.51,214.55 L990.01,214.79 L990.51,215.02 L991.02,215.26 L991.52,215.49 L992.02,215.71 L992.52,215.93 L993.02,216.15 L993.52,216.36 L994.02,216.56 L994.52,216.77 L995.02,216.96 L995.52,217.15 L996.03,217.34 L996.53,217.52 L997.03,217.69 L997.53,217.86 L998.03,218.02 L998.53,218.18 L999.03,218.33 L999.53,218.47 L1000.03,218.61 L1000.54,218.74 L1001.04,218.87 L1001.54,219.00 L1002.04,219.11 L1002.54,219.23 L1003.04,219.33 L1003.54,219.44 L1004.04,219.54 L1004.54,219.63 L1005.05,219.72 L1005.55,219.80 L1006.05,219.88 L1006.55,219.96 L1007.05,220.03 L1007.55,220.09 L1008.05,220.16 L1008.55,220.22 L1009.05,220.27 L1009.56,220.33 L1010.06,220.38 L1010.56,220.42 L1011.06,220.47 L1011.56,220.51 L1012.06,220.55 L1012.56,220.59 L1013.06,220.62 L1013.56,220.65 L1014.06,220.68 L1014.57,220.71 L1015.07,220.73 L1015.57,220.76 L1016.07,220.78 L1016.57,220.80 L1017.07,220.82 L1017.57,220.84 L1018.07,220.85" fill="none" stroke="#4c4e92" stroke-width="0.6"/>
<path d="M967.46,220.86 L967.97,220.84 L968.47,220.81 L968.97,220.78 L969.47,220.74 L969.97,220.70 L970.47,220.66 L970.97,220.61 L971.47,220.55 L971.97,220.48 L972.48,220.41 L972.98,220.33 L973.48,220.23 L973.98,220.13 L974.48,220.02 L974.98,219.89 L975.48,219.75 L975.98,219.59 L976.48,219.42 L976.98,219.23 L977.49,219.03 L977.99,218.80 L978.49,218.56 L978.99,218.29 L979.49,218.00 L979.99,217.69 L980.49,217.36 L980.99,217.00 L981.49,216.62 L982.00,216.21 L982.50,215.78 L983.00,215.32 L983.50,214.83 L984.00,214.33 L984.50,213.80 L985.00,213.24 L985.50,212.67 L986.00,212.08 L986.51,211.46 L987.01,210.83 L987.51,210.19 L988.01,209.54 L988.51,208.87 L989.01,208.20 L989.51,207.53 L990.01,206.86 L990.51,206.19 L991.02,205.54 L991.52,204.89 L992.02,204.26 L992.52,203.66 L993.02,203.07 L993.52,202.52 L994.02,201.99 L994.52,201.51 L995.02,201.06 L995.52,200.66 L996.03,200.31 L996.53,200.00 L997.03,199.75 L997.53,199.55 L998.03,199.41 L998.53,199.33 L999.03,199.30 L999.53,199.33 L1000.03,199.42 L1000.54,199.57 L1001.04,199.78 L1001.54,200.04 L1002.04,200.35 L1002.54,200.71 L1003.04,201.12 L1003.54,201.57 L1004.04,202.06 L1004.54,202.59 L1005.05,203.15 L1005.55,203.73 L1006.05,204.34 L1006.55,204.98 L1007.05,205.62 L1007.55,206.28 L1008.05,206.95 L1008.55,207.62 L1009.05,208.29 L1009.56,208.96 L1010.06,209.62 L1010.56,210.27 L1011.06,210.92 L1011.56,211.54 L1012.06,212.15 L1012.56,212.75 L1013.06,213.32 L1013.56,213.87 L1014.06,214.40 L1014.57,214.90 L1015.07,215.38 L1015.57,215.83 L1016.07,216.26 L1016.57,216.67 L1017.07,217.05 L1017.57,217.40 L1018.07,217.73 L1018.57,218.04 L1019.08,218.33 L1019.58,218.59 L1020.08,218.83 L1020.58,219.05 L1021.08,219.26 L1021.58,219.44 L1022.08,219.61 L1022.58,219.77 L1023.08,219.91 L1023.59,220.03 L1024.09,220.15 L1024.59,220.25 L1025.09,220.34 L1025.59,220.42 L1026.09,220.49 L1026.59,220.56 L1027.09,220.61 L1027.59,220.66 L1028.10,220.71 L1028.60,220.75 L1029.10,220.78 L1029.60,220.81 L1030.10,220.84 L1030.60,220.86" fill="none" stroke="#4c4e92" stroke-width="0.6"/>
<path d="M891.30,220.30 L893.90,220.80 L898.30,222.20 L904.60,220.50 L910.50,218.50 L914.40,221.10 L922.20,221.40 L931.00,221.40 L936.90,219.30 L943.70,216.20 L948.60,216.90 L958.40,212.00 L968.10,207.80 L973.00,206.40 L977.90,207.40 L983.80,207.10 L987.70,204.60 L990.20,202.00 L997.20,199.90 L1002.50,200.60 L1007.70,205.50 L1013.00,212.40 L1018.20,215.60 L1027.00,217.30 L1035.70,221.20 L1044.40,220.30 L1053.20,221.50 L1061.90,219.80 L1076.50,222.00" fill="none" stroke="#141414" stroke-width="1.6" stroke-linejoin="round"/>
<path d="M901.82,332.16 L902.32,332.14 L902.82,332.12 L903.33,332.10 L903.83,332.08 L904.33,332.06 L904.83,332.04 L905.33,332.01 L905.83,331.98 L906.33,331.96 L906.83,331.92 L907.33,331.89 L907.84,331.86 L908.34,331.82 L908.84,331.78 L909.34,331.74 L909.84,331.69 L910.34,331.64 L910.84,331.59 L911.34,331.54 L911.84,331.48 L912.35,331.42 L912.85,331.36 L913.35,331.29 L913.85,331.22 L914.35,331.14 L914.85,331.06 L915.35,330.98 L915.85,330.89 L916.35,330.80 L916.86,330.70 L917.36,330.60 L917.86,330.49 L918.36,330.38 L918.86,330.26 L919.36,330.14 L919.86,330.01 L920.36,329.87 L920.86,329.73 L921.36,329.59 L921.87,329.44 L922.37,329.28 L922.87,329.11 L923.37,328.94 L923.87,328.77 L924.37,328.58 L924.87,328.40 L925.37,328.20 L925.87,328.00 L926.38,327.79 L926.88,327.58 L927.38,327.35 L927.88,327.13 L928.38,326.89 L928.88,326.66 L929.38,326.41 L929.88,326.16 L930.38,325.90 L930.89,325.64 L931.39,325.37 L931.89,325.10 L932.39,324.82 L932.89,324.54 L933.39,324.25 L933.89,323.96 L934.39,323.67 L934.89,323.37 L935.40,323.07 L935.90,322.77 L936.40,322.46 L936.90,322.16 L937.40,321.85 L937.90,321.54 L938.40,321.23 L938.90,320.92 L939.40,320.61 L939.90,320.30 L940.41,319.99 L940.91,319.69 L941.41,319.39 L941.91,319.09 L942.41,318.79 L942.91,318.50 L943.41,318.21 L943.91,317.93 L944.41,317.66 L944.92,317.39 L945.42,317.13 L945.92,316.87 L946.42,316.63 L946.92,316.39 L947.42,316.16 L947.92,315.94 L948.42,315.74 L948.92,315.54 L949.43,315.35 L949.93,315.18 L950.43,315.01 L950.93,314.86 L951.43,314.72 L951.93,314.60 L952.43,314.49 L952.93,314.39 L953.43,314.31 L953.94,314.24 L954.44,314.18 L954.94,314.14 L955.44,314.11 L955.94,314.10 L956.44,314.10 L956.94,314.12 L957.44,314.15 L957.94,314.20 L958.44,314.26 L958.95,314.33 L959.45,314.42 L959.95,314.53 L960.45,314.64 L960.95,314.77 L961.45,314.91 L961.95,315.07 L962.45,315.24 L962.95,315.42 L963.46,315.61 L963.96,315.81 L964.46,316.02 L964.96,316.24 L965.46,316.47 L965.96,316.72 L966.46,316.96 L966.96,317.22 L967.46,317.49 L967.97,317.76 L968.47,318.03 L968.97,318.32 L969.47,318.61 L969.97,318.90 L970.47,319.20 L970.97,319.50 L971.47,319.80 L971.97,320.10 L972.48,320.41 L972.98,320.72 L973.48,321.03 L973.98,321.34 L974.48,321.65 L974.98,321.96 L975.48,322.27 L975.98,322.57 L976.48,322.88 L976.98,323.18 L977.49,323.48 L977.99,323.78 L978.49,324.07 L978.99,324.36 L979.49,324.64 L979.99,324.92 L980.49,325.20 L980.99,325.47 L981.49,325.74 L982.00,326.00 L982.50,326.25 L983.00,326.50 L983.50,326.74 L984.00,326.98 L984.50,327.21 L985.00,327.43 L985.50,327.65 L986.00,327.87 L986.51,328.07 L987.01,328.27 L987.51,328.46 L988.01,328.65 L988.51,328.83 L989.01,329.01 L989.51,329.17 L990.01,329.34 L990.51,329.49 L991.02,329.64 L991.52,329.79 L992.02,329.92 L992.52,330.06 L993.02,330.18 L993.52,330.30 L994.02,330.42 L994.52,330.53 L995.02,330.64 L995.52,330.74 L996.03,330.83 L996.53,330.92 L997.03,331.01 L997.53,331.09 L998.03,331.17 L998.53,331.24 L999.03,331.31 L999.53,331.38 L1000.03,331.44 L1000.54,331.50 L1001.04,331.56 L1001.54,331.61 L1002.04,331.66 L1002.54,331.71 L1003.04,331.75 L1003.54,331.79 L1004.04,331.83 L1004.54,331.87 L1005.05,331.90 L1005.55,331.94 L1006.05,331.97 L1006.55,331.99 L1007.05,332.02 L1007.55,332.04 L1008.05,332.07 L1008.55,332.09 L1009.05,332.11 L1009.56,332.13 L1010.06,332.14 L1010.56,332.16 L1010.56,332.40 L901.82,332.40 Z" fill="#a4a4d7" fill-opacity="1.0" stroke="none"/>
<path d="M927.38,332.16 L927.88,332.15 L928.38,332.13 L928.88,332.12 L929.38,332.10 L929.88,332.08 L930.38,332.06 L930.89,332.04 L931.39,332.02 L931.89,331.99 L932.39,331.96 L932.89,331.93 L933.39,331.90 L933.89,331.87 L934.39,331.83 L934.89,331.79 L935.40,331.75 L935.90,331.71 L936.40,331.66 L936.90,331.61 L937.40,331.55 L937.90,331.50 L938.40,331.43 L938.90,331.37 L939.40,331.29 L939.90,331.22 L940.41,331.14 L940.91,331.05 L941.41,330.96 L941.91,330.86 L942.41,330.76 L942.91,330.65 L943.41,330.53 L943.91,330.41 L944.41,330.28 L944.92,330.14 L945.42,330.00 L945.92,329.85 L946.42,329.69 L946.92,329.52 L947.42,329.34 L947.92,329.15 L948.42,328.95 L948.92,328.75 L949.43,328.53 L949.93,328.30 L950.43,328.06 L950.93,327.81 L951.43,327.56 L951.93,327.28 L952.43,327.00 L952.93,326.71 L953.43,326.40 L953.94,326.08 L954.44,325.75 L954.94,325.41 L955.44,325.05 L955.94,324.69 L956.44,324.31 L956.94,323.91 L957.44,323.51 L957.94,323.09 L958.44,322.66 L958.95,322.21 L959.45,321.76 L959.95,321.29 L960.45,320.81 L960.95,320.32 L961.45,319.82 L961.95,319.30 L962.45,318.78 L962.95,318.24 L963.46,317.70 L963.96,317.14 L964.46,316.58 L964.96,316.01 L965.46,315.43 L965.96,314.84 L966.46,314.25 L966.96,313.65 L967.46,313.04 L967.97,312.43 L968.47,311.82 L968.97,311.21 L969.47,310.59 L969.97,309.97 L970.47,309.36 L970.97,308.74 L971.47,308.13 L971.97,307.52 L972.48,306.92 L972.98,306.32 L973.48,305.72 L973.98,305.14 L974.48,304.56 L974.98,304.00 L975.48,303.44 L975.98,302.90 L976.48,302.37 L976.98,301.85 L977.49,301.35 L977.99,300.87 L978.49,300.40 L978.99,299.95 L979.49,299.53 L979.99,299.12 L980.49,298.73 L980.99,298.37 L981.49,298.03 L982.00,297.71 L982.50,297.42 L983.00,297.16 L983.50,296.92 L984.00,296.70 L984.50,296.52 L985.00,296.36 L985.50,296.23 L986.00,296.13 L986.51,296.06 L987.01,296.01 L987.51,296.00 L988.01,296.01 L988.51,296.06 L989.01,296.13 L989.51,296.23 L990.01,296.36 L990.51,296.52 L991.02,296.71 L991.52,296.92 L992.02,297.16 L992.52,297.43 L993.02,297.72 L993.52,298.04 L994.02,298.38 L994.52,298.74 L995.02,299.13 L995.52,299.54 L996.03,299.97 L996.53,300.41 L997.03,300.88 L997.53,301.37 L998.03,301.87 L998.53,302.38 L999.03,302.91 L999.53,303.46 L1000.03,304.01 L1000.54,304.58 L1001.04,305.16 L1001.54,305.74 L1002.04,306.33 L1002.54,306.93 L1003.04,307.54 L1003.54,308.15 L1004.04,308.76 L1004.54,309.38 L1005.05,309.99 L1005.55,310.61 L1006.05,311.23 L1006.55,311.84 L1007.05,312.45 L1007.55,313.06 L1008.05,313.66 L1008.55,314.26 L1009.05,314.86 L1009.56,315.44 L1010.06,316.02 L1010.56,316.59 L1011.06,317.16 L1011.56,317.71 L1012.06,318.26 L1012.56,318.79 L1013.06,319.32 L1013.56,319.83 L1014.06,320.33 L1014.57,320.83 L1015.07,321.31 L1015.57,321.77 L1016.07,322.23 L1016.57,322.67 L1017.07,323.10 L1017.57,323.52 L1018.07,323.93 L1018.57,324.32 L1019.08,324.70 L1019.58,325.07 L1020.08,325.42 L1020.58,325.76 L1021.08,326.09 L1021.58,326.41 L1022.08,326.72 L1022.58,327.01 L1023.08,327.29 L1023.59,327.56 L1024.09,327.82 L1024.59,328.07 L1025.09,328.31 L1025.59,328.54 L1026.09,328.75 L1026.59,328.96 L1027.09,329.16 L1027.59,329.34 L1028.10,329.52 L1028.60,329.69 L1029.10,329.85 L1029.60,330.00 L1030.10,330.15 L1030.60,330.29 L1031.10,330.42 L1031.60,330.54 L1032.10,330.65 L1032.60,330.76 L1033.11,330.87 L1033.61,330.96 L1034.11,331.05 L1034.61,331.14 L1035.11,331.22 L1035.61,331.30 L1036.11,331.37 L1036.61,331.43 L1037.11,331.50 L1037.62,331.56 L1038.12,331.61 L1038.62,331.66 L1039.12,331.71 L1039.62,331.75 L1040.12,331.80 L1040.62,331.83 L1041.12,331.87 L1041.62,331.90 L1042.13,331.94 L1042.63,331.96 L1043.13,331.99 L1043.63,332.02 L1044.13,332.04 L1044.63,332.06 L1045.13,332.08 L1045.63,332.10 L1046.13,332.12 L1046.64,332.13 L1047.14,332.15 L1047.64,332.16 L1047.64,332.40 L927.38,332.40 Z" fill="#a4a4d7" fill-opacity="1.0" stroke="none"/>
<path d="M901.82,332.16 L902.32,332.14 L902.82,332.12 L903.33,332.10 L903.83,332.08 L904.33,332.06 L904.83,332.04 L905.33,332.01 L905.83,331.98 L906.33,331.96 L906.83,331.92 L907.33,331.89 L907.84,331.86 L908.34,331.82 L908.84,331.78 L909.34,331.74 L909.84,331.69 L910.34,331.64 L910.84,331.59 L911.34,331.54 L911.84,331.48 L912.35,331.42 L912.85,331.36 L913.35,331.29 L913.85,331.22 L914.35,331.14 L914.85,331.06 L915.35,330.98 L915.85,330.89 L916.35,330.80 L916.86,330.70 L917.36,330.60 L917.86,330.49 L918.36,330.38 L918.86,330.26 L919.36,330.14 L919.86,330.01 L920.36,329.87 L920.86,329.73 L921.36,329.59 L921.87,329.44 L922.37,329.28 L922.87,329.11 L923.37,328.94 L923.87,328.77 L924.37,328.58 L924.87,328.40 L925.37,328.20 L925.87,328.00 L926.38,327.79 L926.88,327.58 L927.38,327.35 L927.88,327.13 L928.38,326.89 L928.88,326.66 L929.38,326.41 L929.88,326.16 L930.38,325.90 L930.89,325.64 L931.39,325.37 L931.89,325.10 L932.39,324.82 L932.89,324.54 L933.39,324.25 L933.89,323.96 L934.39,323.67 L934.89,323.37 L935.40,323.07 L935.90,322.77 L936.40,322.46 L936.90,322.16 L937.40,321.85 L937.90,321.54 L938.40,321.23 L938.90,320.92 L939.40,320.61 L939.90,320.30 L940.41,319.99 L940.91,319.69 L941.41,319.39 L941.91,319.09 L942.41,318.79 L942.91,318.50 L943.41,318.21 L943.91,317.93 L944.41,317.66 L944.92,317.39 L945.42,317.13 L945.92,316.87 L946.42,316.63 L946.92,316.39 L947.42,316.16 L947.92,315.94 L948.42,315.74 L948.92,315.54 L949.43,315.35 L949.93,315.18 L950.43,315.01 L950.93,314.86 L951.43,314.72 L951.93,314.60 L952.43,314.49 L952.93,314.39 L953.43,314.31 L953.94,314.24 L954.44,314.18 L954.94,314.14 L955.44,314.11 L955.94,314.10 L956.44,314.10 L956.94,314.12 L957.44,314.15 L957.94,314.20 L958.44,314.26 L958.95,314.33 L959.45,314.42 L959.95,314.53 L960.45,314.64 L960.95,314.77 L961.45,314.91 L961.95,315.07 L962.45,315.24 L962.95,315.42 L963.46,315.61 L963.96,315.81 L964.46,316.02 L964.96,316.24 L965.46,316.47 L965.96,316.72 L966.46,316.96 L966.96,317.22 L967.46,317.49 L967.97,317.76 L968.47,318.03 L968.97,318.32 L969.47,318.61 L969.97,318.90 L970.47,319.20 L970.97,319.50 L971.47,319.80 L971.97,320.10 L972.48,320.41 L972.98,320.72 L973.48,321.03 L973.98,321.34 L974.48,321.65 L974.98,321.96 L975.48,322.27 L975.98,322.57 L976.48,322.88 L976.98,323.18 L977.49,323.48 L977.99,323.78 L978.49,324.07 L978.99,324.36 L979.49,324.64 L979.99,324.92 L980.49,325.20 L980.99,325.47 L981.49,325.74 L982.00,326.00 L982.50,326.25 L983.00,326.50 L983.50,326.74 L984.00,326.98 L984.50,327.21 L985.00,327.43 L985.50,327.65 L986.00,327.87 L986.51,328.07 L987.01,328.27 L987.51,328.46 L988.01,328.65 L988.51,328.83 L989.01,329.01 L989.51,329.17 L990.01,329.34 L990.51,329.49 L991.02,329.64 L991.52,329.79 L992.02,329.92 L992.52,330.06 L993.02,330.18 L993.52,330.30 L994.02,330.42 L994.52,330.53 L995.02,330.64 L995.52,330.74 L996.03,330.83 L996.53,330.92 L997.03,331.01 L997.53,331.09 L998.03,331.17 L998.53,331.24 L999.03,331.31 L999.53,331.38 L1000.03,331.44 L1000.54,331.50 L1001.04,331.56 L1001.54,331.61 L1002.04,331.66 L1002.54,331.71 L1003.04,331.75 L1003.54,331.79 L1004.04,331.83 L1004.54,331.87 L1005.05,331.90 L1005.55,331.94 L1006.05,331.97 L1006.55,331.99 L1007.05,332.02 L1007.55,332.04 L1008.05,332.07 L1008.55,332.09 L1009.05,332.11 L1009.56,332.13 L1010.06,332.14 L1010.56,332.16" fill="none" stroke="#4c4e92" stroke-width="0.6"/>
<path d="M927.38,332.16 L927.88,332.15 L928.38,332.13 L928.88,332.12 L929.38,332.10 L929.88,332.08 L930.38,332.06 L930.89,332.04 L931.39,332.02 L931.89,331.99 L932.39,331.96 L932.89,331.93 L933.39,331.90 L933.89,331.87 L934.39,331.83 L934.89,331.79 L935.40,331.75 L935.90,331.71 L936.40,331.66 L936.90,331.61 L937.40,331.55 L937.90,331.50 L938.40,331.43 L938.90,331.37 L939.40,331.29 L939.90,331.22 L940.41,331.14 L940.91,331.05 L941.41,330.96 L941.91,330.86 L942.41,330.76 L942.91,330.65 L943.41,330.53 L943.91,330.41 L944.41,330.28 L944.92,330.14 L945.42,330.00 L945.92,329.85 L946.42,329.69 L946.92,329.52 L947.42,329.34 L947.92,329.15 L948.42,328.95 L948.92,328.75 L949.43,328.53 L949.93,328.30 L950.43,328.06 L950.93,327.81 L951.43,327.56 L951.93,327.28 L952.43,327.00 L952.93,326.71 L953.43,326.40 L953.94,326.08 L954.44,325.75 L954.94,325.41 L955.44,325.05 L955.94,324.69 L956.44,324.31 L956.94,323.91 L957.44,323.51 L957.94,323.09 L958.44,322.66 L958.95,322.21 L959.45,321.76 L959.95,321.29 L960.45,320.81 L960.95,320.32 L961.45,319.82 L961.95,319.30 L962.45,318.78 L962.95,318.24 L963.46,317.70 L963.96,317.14 L964.46,316.58 L964.96,316.01 L965.46,315.43 L965.96,314.84 L966.46,314.25 L966.96,313.65 L967.46,313.04 L967.97,312.43 L968.47,311.82 L968.97,311.21 L969.47,310.59 L969.97,309.97 L970.47,309.36 L970.97,308.74 L971.47,308.13 L971.97,307.52 L972.48,306.92 L972.98,306.32 L973.48,305.72 L973.98,305.14 L974.48,304.56 L974.98,304.00 L975.48,303.44 L975.98,302.90 L976.48,302.37 L976.98,301.85 L977.49,301.35 L977.99,300.87 L978.49,300.40 L978.99,299.95 L979.49,299.53 L979.99,299.12 L980.49,298.73 L980.99,298.37 L981.49,298.03 L982.00,297.71 L982.50,297.42 L983.00,297.16 L983.50,296.92 L984.00,296.70 L984.50,296.52 L985.00,296.36 L985.50,296.23 L986.00,296.13 L986.51,296.06 L987.01,296.01 L987.51,296.00 L988.01,296.01 L988.51,296.06 L989.01,296.13 L989.51,296.23 L990.01,296.36 L990.51,296.52 L991.02,296.71 L991.52,296.92 L992.02,297.16 L992.52,297.43 L993.02,297.72 L993.52,298.04 L994.02,298.38 L994.52,298.74 L995.02,299.13 L995.52,299.54 L996.03,299.97 L996.53,300.41 L997.03,300.88 L997.53,301.37 L998.03,301.87 L998.53,302.38 L999.03,302.91 L999.53,303.46 L1000.03,304.01 L1000.54,304.58 L1001.04,305.16 L1001.54,305.74 L1002.04,306.33 L1002.54,306.93 L1003.04,307.54 L1003.54,308.15 L1004.04,308.76 L1004.54,309.38 L1005.05,309.99 L1005.55,310.61 L1006.05,311.23 L1006.55,311.84 L1007.05,312.45 L1007.55,313.06 L1008.05,313.66 L1008.55,314.26 L1009.05,314.86 L1009.56,315.44 L1010.06,316.02 L1010.56,316.59 L1011.06,317.16 L1011.56,317.71 L1012.06,318.26 L1012.56,318.79 L1013.06,319.32 L1013.56,319.83 L1014.06,320.33 L1014.57,320.83 L1015.07,321.31 L1015.57,321.77 L1016.07,322.23 L1016.57,322.67 L1017.07,323.10 L1017.57,323.52 L1018.07,323.93 L1018.57,324.32 L1019.08,324.70 L1019.58,325.07 L1020.08,325.42 L1020.58,325.76 L1021.08,326.09 L1021.58,326.41 L1022.08,326.72 L1022.58,327.01 L1023.08,327.29 L1023.59,327.56 L1024.09,327.82 L1024.59,328.07 L1025.09,328.31 L1025.59,328.54 L1026.09,328.75 L1026.59,328.96 L1027.09,329.16 L1027.59,329.34 L1028.10,329.52 L1028.60,329.69 L1029.10,329.85 L1029.60,330.00 L1030.10,330.15 L1030.60,330.29 L1031.10,330.42 L1031.60,330.54 L1032.10,330.65 L1032.60,330.76 L1033.11,330.87 L1033.61,330.96 L1034.11,331.05 L1034.61,331.14 L1035.11,331.22 L1035.61,331.30 L1036.11,331.37 L1036.61,331.43 L1037.11,331.50 L1037.62,331.56 L1038.12,331.61 L1038.62,331.66 L1039.12,331.71 L1039.62,331.75 L1040.12,331.80 L1040.62,331.83 L1041.12,331.87 L1041.62,331.90 L1042.13,331.94 L1042.63,331.96 L1043.13,331.99 L1043.63,332.02 L1044.13,332.04 L1044.63,332.06 L1045.13,332.08 L1045.63,332.10 L1046.13,332.12 L1046.64,332.13 L1047.14,332.15 L1047.64,332.16" fill="none" stroke="#4c4e92" stroke-width="0.6"/>
<path d="M891.30,332.10 L908.10,333.20 L916.80,332.10 L927.70,327.70 L936.50,322.30 L945.20,315.70 L953.90,309.20 L964.90,305.90 L971.40,299.40 L978.00,291.70 L979.40,291.80 L990.30,292.40 L996.90,296.20 L1003.40,306.00 L1011.10,315.80 L1018.70,323.50 L1027.50,330.00 L1034.00,332.70 L1040.60,334.00 L1047.20,332.70 L1055.90,332.70 L1076.50,332.20" fill="none" stroke="#141414" stroke-width="1.6" stroke-linejoin="round"/>
<g transform="translate(78.30,28.20) scale(1.0194,1)" fill="#1e1e1e" stroke="#1e1e1e" stroke-width="0.3"><text x="0.00" y="0.00" font-size="18.80">Pristine InP</text></g>
<g transform="translate(77.30,140.60) scale(1.0280,1)" fill="#1e1e1e" stroke="#1e1e1e" stroke-width="0.3"><text x="0.00" y="0.00" font-size="18.80">ZnOA-InP</text></g>
<g transform="translate(77.60,251.00) scale(1.0280,1)" fill="#1e1e1e" stroke="#1e1e1e" stroke-width="0.3"><text x="0.00" y="0.00" font-size="18.80">CdOA-InP</text></g>
<g transform="translate(350.50,28.20) scale(1.0194,1)" fill="#1e1e1e" stroke="#1e1e1e" stroke-width="0.3"><text x="0.00" y="0.00" font-size="18.80">Pristine InP</text></g>
<g transform="translate(349.90,140.60) scale(1.0280,1)" fill="#1e1e1e" stroke="#1e1e1e" stroke-width="0.3"><text x="0.00" y="0.00" font-size="18.80">ZnOA-InP</text></g>
<g transform="translate(350.20,251.00) scale(1.0280,1)" fill="#1e1e1e" stroke="#1e1e1e" stroke-width="0.3"><text x="0.00" y="0.00" font-size="18.80">CdOA-InP</text></g>
<g transform="translate(622.80,28.20) scale(1.0194,1)" fill="#1e1e1e" stroke="#1e1e1e" stroke-width="0.3"><text x="0.00" y="0.00" font-size="18.80">Pristine InP</text></g>
<g transform="translate(623.90,140.60) scale(1.0280,1)" fill="#1e1e1e" stroke="#1e1e1e" stroke-width="0.3"><text x="0.00" y="0.00" font-size="18.80">ZnOA-InP</text></g>
<g transform="translate(624.20,251.00) scale(1.0280,1)" fill="#1e1e1e" stroke="#1e1e1e" stroke-width="0.3"><text x="0.00" y="0.00" font-size="18.80">CdOA-InP</text></g>
<g transform="translate(896.50,28.20) scale(1.0194,1)" fill="#1e1e1e" stroke="#1e1e1e" stroke-width="0.3"><text x="0.00" y="0.00" font-size="18.80">Pristine InP</text></g>
<g transform="translate(896.40,140.60) scale(1.0280,1)" fill="#1e1e1e" stroke="#1e1e1e" stroke-width="0.3"><text x="0.00" y="0.00" font-size="18.80">ZnOA-InP</text></g>
<g transform="translate(896.70,251.00) scale(1.0280,1)" fill="#1e1e1e" stroke="#1e1e1e" stroke-width="0.3"><text x="0.00" y="0.00" font-size="18.80">CdOA-InP</text></g>
<g transform="translate(216.00,27.20) scale(1.0308,1)" fill="#1e1e1e" stroke="#1e1e1e" stroke-width="0.3"><text x="0.00" y="0.00" font-size="18.80">In 3d</text></g>
<line x1="215.00" y1="30.00" x2="258.10" y2="30.00" stroke="#222" stroke-width="1.3"/>
<g transform="translate(491.00,28.50) scale(1.0252,1)" fill="#1e1e1e" stroke="#1e1e1e" stroke-width="0.3"><text x="0.00" y="0.00" font-size="18.80">P 2p</text></g>
<line x1="490.00" y1="31.20" x2="529.30" y2="31.20" stroke="#222" stroke-width="1.3"/>
<g transform="translate(764.00,29.00) scale(1.0218,1)" fill="#1e1e1e" stroke="#1e1e1e" stroke-width="0.3"><text x="0.00" y="0.00" font-size="18.80">N 1s</text></g>
<line x1="763.00" y1="31.20" x2="802.50" y2="31.20" stroke="#222" stroke-width="1.3"/>
<g transform="translate(1030.00,28.60) scale(1.0367,1)" fill="#1e1e1e" stroke="#1e1e1e" stroke-width="0.3"><text x="0.00" y="0.00" font-size="18.80">Cl 2p</text></g>
<line x1="1029.00" y1="32.20" x2="1074.50" y2="32.20" stroke="#222" stroke-width="1.3"/>
<g transform="translate(150.00,48.80) scale(1.0400,1)" fill="#222"><text x="0.00" y="0.00" font-size="11.40">In-P</text></g>
<g transform="translate(144.60,63.30) scale(1.0400,1)" fill="#222"><text x="0.00" y="0.00" font-size="11.40">(3d</text><text x="16.48" y="3.19" font-size="7.98">3/2</text><text x="27.57" y="0.00" font-size="11.40">)</text></g>
<g transform="translate(79.10,76.00) scale(1.0400,1)" fill="#222"><text x="0.00" y="0.00" font-size="11.40">In-(PO</text><text x="33.57" y="3.19" font-size="7.98">x</text><text x="37.56" y="0.00" font-size="11.40">)</text></g>
<g transform="translate(84.20,91.00) scale(1.0400,1)" fill="#222"><text x="0.00" y="0.00" font-size="11.40">(3d</text><text x="16.48" y="3.19" font-size="7.98">3/2</text><text x="27.57" y="0.00" font-size="11.40">)</text></g>
<g transform="translate(159.40,88.10) scale(1.0400,1)" fill="#222"><text x="0.00" y="0.00" font-size="11.40">In-(PO</text><text x="33.57" y="3.19" font-size="7.98">x</text><text x="37.56" y="0.00" font-size="11.40">)</text></g>
<g transform="translate(165.40,103.90) scale(1.0400,1)" fill="#222"><text x="0.00" y="0.00" font-size="11.40">(3d</text><text x="16.48" y="3.19" font-size="7.98">5/2</text><text x="27.57" y="0.00" font-size="11.40">)</text></g>
<g transform="translate(232.20,59.20) scale(1.0400,1)" fill="#222"><text x="0.00" y="0.00" font-size="11.40">In-P</text></g>
<g transform="translate(226.20,72.60) scale(1.0400,1)" fill="#222"><text x="0.00" y="0.00" font-size="11.40">(3d</text><text x="16.48" y="3.19" font-size="7.98">5/2</text><text x="27.57" y="0.00" font-size="11.40">)</text></g>
<g transform="translate(149.10,159.00) scale(1.0400,1)" fill="#222"><text x="0.00" y="0.00" font-size="11.40">In-P</text></g>
<g transform="translate(143.40,174.80) scale(1.0400,1)" fill="#222"><text x="0.00" y="0.00" font-size="11.40">(3d</text><text x="16.48" y="3.19" font-size="7.98">3/2</text><text x="27.57" y="0.00" font-size="11.40">)</text></g>
<g transform="translate(79.20,193.10) scale(1.0400,1)" fill="#222"><text x="0.00" y="0.00" font-size="11.40">In-(PO</text><text x="33.57" y="3.19" font-size="7.98">x</text><text x="37.56" y="0.00" font-size="11.40">)</text></g>
<g transform="translate(85.80,207.00) scale(1.0400,1)" fill="#222"><text x="0.00" y="0.00" font-size="11.40">(3d</text><text x="16.48" y="3.19" font-size="7.98">3/2</text><text x="27.57" y="0.00" font-size="11.40">)</text></g>
<g transform="translate(155.50,199.30) scale(1.0400,1)" fill="#222"><text x="0.00" y="0.00" font-size="11.40">In-(PO</text><text x="33.57" y="3.19" font-size="7.98">x</text><text x="37.56" y="0.00" font-size="11.40">)</text></g>
<g transform="translate(161.20,215.10) scale(1.0400,1)" fill="#222"><text x="0.00" y="0.00" font-size="11.40">(3d</text><text x="16.48" y="3.19" font-size="7.98">5/2</text><text x="27.57" y="0.00" font-size="11.40">)</text></g>
<g transform="translate(229.70,161.90) scale(1.0400,1)" fill="#222"><text x="0.00" y="0.00" font-size="11.40">In-P</text></g>
<g transform="translate(224.00,177.70) scale(1.0400,1)" fill="#222"><text x="0.00" y="0.00" font-size="11.40">(3d</text><text x="16.48" y="3.19" font-size="7.98">5/2</text><text x="27.57" y="0.00" font-size="11.40">)</text></g>
<g transform="translate(137.40,277.50) scale(1.0400,1)" fill="#222"><text x="0.00" y="0.00" font-size="11.40">In-P</text></g>
<g transform="translate(132.40,291.20) scale(1.0400,1)" fill="#222"><text x="0.00" y="0.00" font-size="11.40">(3d</text><text x="16.48" y="3.19" font-size="7.98">3/2</text><text x="27.57" y="0.00" font-size="11.40">)</text></g>
<g transform="translate(82.20,307.60) scale(1.0400,1)" fill="#222"><text x="0.00" y="0.00" font-size="11.40">In-(PO</text><text x="33.57" y="3.19" font-size="7.98">x</text><text x="37.56" y="0.00" font-size="11.40">)</text></g>
<g transform="translate(88.00,322.10) scale(1.0400,1)" fill="#222"><text x="0.00" y="0.00" font-size="11.40">(3d</text><text x="16.48" y="3.19" font-size="7.98">3/2</text><text x="27.57" y="0.00" font-size="11.40">)</text></g>
<g transform="translate(159.20,307.10) scale(1.0400,1)" fill="#222"><text x="0.00" y="0.00" font-size="11.40">In-(PO</text><text x="33.57" y="3.19" font-size="7.98">x</text><text x="37.56" y="0.00" font-size="11.40">)</text></g>
<g transform="translate(165.50,322.10) scale(1.0400,1)" fill="#222"><text x="0.00" y="0.00" font-size="11.40">(3d</text><text x="16.48" y="3.19" font-size="7.98">5/2</text><text x="27.57" y="0.00" font-size="11.40">)</text></g>
<g transform="translate(228.90,267.90) scale(1.0400,1)" fill="#222"><text x="0.00" y="0.00" font-size="11.40">In-P</text></g>
<g transform="translate(223.10,282.40) scale(1.0400,1)" fill="#222"><text x="0.00" y="0.00" font-size="11.40">(3d</text><text x="16.48" y="3.19" font-size="7.98">5/2</text><text x="27.57" y="0.00" font-size="11.40">)</text></g>
<line x1="139.30" y1="60.90" x2="131.90" y2="70.20" stroke="#333" stroke-width="0.9"/>
<line x1="111.80" y1="96.30" x2="120.20" y2="106.40" stroke="#333" stroke-width="0.9"/>
<line x1="198.50" y1="100.00" x2="202.50" y2="96.50" stroke="#333" stroke-width="0.9"/>
<line x1="219.90" y1="70.90" x2="225.60" y2="66.90" stroke="#333" stroke-width="0.9"/>
<line x1="142.00" y1="172.70" x2="135.30" y2="178.40" stroke="#333" stroke-width="0.9"/>
<line x1="112.30" y1="211.60" x2="115.20" y2="218.70" stroke="#333" stroke-width="0.9"/>
<line x1="194.30" y1="215.90" x2="198.70" y2="220.20" stroke="#333" stroke-width="0.9"/>
<line x1="223.10" y1="181.30" x2="218.80" y2="187.10" stroke="#333" stroke-width="0.9"/>
<line x1="138.80" y1="292.30" x2="134.50" y2="297.30" stroke="#333" stroke-width="0.9"/>
<line x1="108.30" y1="326.30" x2="112.70" y2="333.60" stroke="#333" stroke-width="0.9"/>
<line x1="191.10" y1="324.90" x2="196.90" y2="330.70" stroke="#333" stroke-width="0.9"/>
<line x1="223.10" y1="281.30" x2="218.70" y2="284.20" stroke="#333" stroke-width="0.9"/>
<g transform="translate(358.50,80.90) scale(1.0400,1)" fill="#222"><text x="0.00" y="0.00" font-size="11.40">P-O</text><text x="20.27" y="3.19" font-size="7.98">x</text></g>
<g transform="translate(356.40,95.00) scale(1.0400,1)" fill="#222"><text x="0.00" y="0.00" font-size="11.40">(2p</text><text x="16.48" y="3.19" font-size="7.98">1/2</text><text x="27.57" y="0.00" font-size="11.40">)</text></g>
<g transform="translate(400.50,67.50) scale(1.0400,1)" fill="#222"><text x="0.00" y="0.00" font-size="11.40">P-O</text><text x="20.27" y="3.19" font-size="7.98">x</text></g>
<g transform="translate(396.50,81.70) scale(1.0400,1)" fill="#222"><text x="0.00" y="0.00" font-size="11.40">(2p</text><text x="16.48" y="3.19" font-size="7.98">3/2</text><text x="27.57" y="0.00" font-size="11.40">)</text></g>
<g transform="translate(436.60,49.00) scale(1.0400,1)" fill="#222"><text x="0.00" y="0.00" font-size="11.40">P-In</text></g>
<g transform="translate(432.00,63.20) scale(1.0400,1)" fill="#222"><text x="0.00" y="0.00" font-size="11.40">(2p</text><text x="16.48" y="3.19" font-size="7.98">1/2</text><text x="27.57" y="0.00" font-size="11.40">)</text></g>
<g transform="translate(497.40,57.20) scale(1.0400,1)" fill="#222"><text x="0.00" y="0.00" font-size="11.40">P-In</text></g>
<g transform="translate(492.20,70.70) scale(1.0400,1)" fill="#222"><text x="0.00" y="0.00" font-size="11.40">(2p</text><text x="16.48" y="3.19" font-size="7.98">3/2</text><text x="27.57" y="0.00" font-size="11.40">)</text></g>
<line x1="380.50" y1="97.10" x2="385.70" y2="107.90" stroke="#333" stroke-width="0.9"/>
<line x1="458.20" y1="69.40" x2="464.40" y2="78.70" stroke="#333" stroke-width="0.9"/>
<line x1="490.60" y1="59.30" x2="482.90" y2="61.70" stroke="#333" stroke-width="0.9"/>
<g transform="translate(363.50,192.90) scale(1.0400,1)" fill="#222"><text x="0.00" y="0.00" font-size="11.40">P-O</text><text x="20.27" y="3.19" font-size="7.98">x</text></g>
<g transform="translate(359.10,208.80) scale(1.0400,1)" fill="#222"><text x="0.00" y="0.00" font-size="11.40">(2p</text><text x="16.48" y="3.19" font-size="7.98">1/2</text><text x="27.57" y="0.00" font-size="11.40">)</text></g>
<g transform="translate(399.60,192.90) scale(1.0400,1)" fill="#222"><text x="0.00" y="0.00" font-size="11.40">P-O</text><text x="20.27" y="3.19" font-size="7.98">x</text></g>
<g transform="translate(395.80,208.30) scale(1.0400,1)" fill="#222"><text x="0.00" y="0.00" font-size="11.40">(2p</text><text x="16.48" y="3.19" font-size="7.98">3/2</text><text x="27.57" y="0.00" font-size="11.40">)</text></g>
<g transform="translate(433.50,152.00) scale(1.0400,1)" fill="#222"><text x="0.00" y="0.00" font-size="11.40">P-In</text></g>
<g transform="translate(431.70,166.50) scale(1.0400,1)" fill="#222"><text x="0.00" y="0.00" font-size="11.40">P-Zn</text></g>
<g transform="translate(429.00,180.50) scale(1.0400,1)" fill="#222"><text x="0.00" y="0.00" font-size="11.40">(2p</text><text x="16.48" y="3.19" font-size="7.98">1/2</text><text x="27.57" y="0.00" font-size="11.40">)</text></g>
<g transform="translate(500.80,147.40) scale(1.0400,1)" fill="#222"><text x="0.00" y="0.00" font-size="11.40">P-In</text></g>
<g transform="translate(498.30,161.70) scale(1.0400,1)" fill="#222"><text x="0.00" y="0.00" font-size="11.40">P-Zn</text></g>
<g transform="translate(494.70,175.90) scale(1.0400,1)" fill="#222"><text x="0.00" y="0.00" font-size="11.40">(2p</text><text x="16.48" y="3.19" font-size="7.98">3/2</text><text x="27.57" y="0.00" font-size="11.40">)</text></g>
<line x1="384.50" y1="212.90" x2="387.50" y2="219.80" stroke="#333" stroke-width="0.9"/>
<line x1="410.90" y1="208.60" x2="410.90" y2="216.40" stroke="#333" stroke-width="0.9"/>
<line x1="457.50" y1="183.00" x2="464.00" y2="193.00" stroke="#333" stroke-width="0.9"/>
<line x1="485.00" y1="156.50" x2="493.50" y2="154.00" stroke="#333" stroke-width="0.9"/>
<g transform="translate(427.30,274.90) scale(1.0400,1)" fill="#222"><text x="0.00" y="0.00" font-size="11.40">P-In</text></g>
<g transform="translate(425.20,289.70) scale(1.0400,1)" fill="#222"><text x="0.00" y="0.00" font-size="11.40">P-Cd</text></g>
<g transform="translate(423.30,303.00) scale(1.0400,1)" fill="#222"><text x="0.00" y="0.00" font-size="11.40">(2p</text><text x="16.48" y="3.19" font-size="7.98">1/2</text><text x="27.57" y="0.00" font-size="11.40">)</text></g>
<g transform="translate(501.70,264.70) scale(1.0400,1)" fill="#222"><text x="0.00" y="0.00" font-size="11.40">P-In</text></g>
<g transform="translate(498.80,278.50) scale(1.0400,1)" fill="#222"><text x="0.00" y="0.00" font-size="11.40">P-Cd</text></g>
<g transform="translate(496.00,292.50) scale(1.0400,1)" fill="#222"><text x="0.00" y="0.00" font-size="11.40">(2p</text><text x="16.48" y="3.19" font-size="7.98">3/2</text><text x="27.57" y="0.00" font-size="11.40">)</text></g>
<line x1="457.30" y1="302.00" x2="463.90" y2="315.10" stroke="#333" stroke-width="0.9"/>
<line x1="492.30" y1="283.40" x2="484.60" y2="290.00" stroke="#333" stroke-width="0.9"/>
<g transform="translate(645.20,57.90) scale(1.0400,1)" fill="#222"><text x="0.00" y="0.00" font-size="11.20">NH</text><text x="16.18" y="3.14" font-size="7.84">3</text><text x="16.18" y="-4.70" font-size="7.84">+</text><text x="20.76" y="0.00" font-size="11.20">-R</text></g>
<g transform="translate(652.60,72.30) scale(1.0400,1)" fill="#222"><text x="0.00" y="0.00" font-size="11.20">(1s)</text></g>
<g transform="translate(739.60,84.70) scale(1.0400,1)" fill="#222"><text x="0.00" y="0.00" font-size="11.20">NH</text><text x="16.18" y="3.14" font-size="7.84">2</text><text x="20.54" y="0.00" font-size="11.20">-R</text></g>
<g transform="translate(746.60,99.60) scale(1.0400,1)" fill="#222"><text x="0.00" y="0.00" font-size="11.20">(1s)</text></g>
<line x1="675.70" y1="71.60" x2="681.90" y2="79.60" stroke="#333" stroke-width="0.9"/>
<line x1="733.90" y1="104.50" x2="743.10" y2="99.60" stroke="#333" stroke-width="0.9"/>
<g transform="translate(741.50,185.20) scale(1.0400,1)" fill="#222"><text x="0.00" y="0.00" font-size="11.20">NH</text><text x="16.18" y="3.14" font-size="7.84">2</text><text x="20.54" y="0.00" font-size="11.20">-R</text></g>
<g transform="translate(748.30,199.30) scale(1.0400,1)" fill="#222"><text x="0.00" y="0.00" font-size="11.20">(1s)</text></g>
<line x1="758.60" y1="206.50" x2="753.10" y2="214.70" stroke="#333" stroke-width="0.9"/>
<g transform="translate(947.00,41.40) scale(1.0400,1)" fill="#222"><text x="0.00" y="0.00" font-size="11.20">free Cl</text><text x="32.99" y="-4.70" font-size="7.84">-</text></g>
<g transform="translate(949.20,55.20) scale(1.0400,1)" fill="#222"><text x="0.00" y="0.00" font-size="11.20">(2p</text><text x="16.19" y="3.14" font-size="7.84">3/2</text><text x="27.09" y="0.00" font-size="11.20">)</text></g>
<g transform="translate(901.10,57.00) scale(1.0400,1)" fill="#222"><text x="0.00" y="0.00" font-size="11.20">bond Cl</text><text x="38.60" y="-4.70" font-size="7.84">-</text></g>
<g transform="translate(906.70,70.90) scale(1.0400,1)" fill="#222"><text x="0.00" y="0.00" font-size="11.20">(2p</text><text x="16.19" y="3.14" font-size="7.84">1/2</text><text x="27.09" y="0.00" font-size="11.20">)</text></g>
<g transform="translate(896.30,88.40) scale(1.0400,1)" fill="#222"><text x="0.00" y="0.00" font-size="11.20">free Cl</text><text x="32.99" y="-4.70" font-size="7.84">-</text></g>
<g transform="translate(898.50,103.10) scale(1.0400,1)" fill="#222"><text x="0.00" y="0.00" font-size="11.20">(2p</text><text x="16.19" y="3.14" font-size="7.84">1/2</text><text x="27.09" y="0.00" font-size="11.20">)</text></g>
<g transform="translate(1015.80,51.40) scale(1.0400,1)" fill="#222"><text x="0.00" y="0.00" font-size="11.20">bond Cl</text><text x="38.60" y="-4.70" font-size="7.84">-</text></g>
<g transform="translate(1022.10,66.00) scale(1.0400,1)" fill="#222"><text x="0.00" y="0.00" font-size="11.20">(2p</text><text x="16.19" y="3.14" font-size="7.84">3/2</text><text x="27.09" y="0.00" font-size="11.20">)</text></g>
<line x1="940.30" y1="73.10" x2="962.70" y2="92.20" stroke="#333" stroke-width="0.9"/>
<line x1="976.10" y1="58.60" x2="987.30" y2="83.20" stroke="#333" stroke-width="0.9"/>
<line x1="930.20" y1="102.20" x2="933.60" y2="105.60" stroke="#333" stroke-width="0.9"/>
<line x1="1015.70" y1="57.30" x2="1009.10" y2="60.60" stroke="#333" stroke-width="0.9"/>
<g transform="translate(930.20,187.20) scale(1.0400,1)" fill="#222"><text x="0.00" y="0.00" font-size="11.20">free Cl</text><text x="32.99" y="-4.70" font-size="7.84">-</text></g>
<g transform="translate(933.00,200.90) scale(1.0400,1)" fill="#222"><text x="0.00" y="0.00" font-size="11.20">(2p</text><text x="16.19" y="3.14" font-size="7.84">1/2</text><text x="27.09" y="0.00" font-size="11.20">)</text></g>
<g transform="translate(984.60,178.20) scale(1.0400,1)" fill="#222"><text x="0.00" y="0.00" font-size="11.20">free Cl</text><text x="32.99" y="-4.70" font-size="7.84">-</text></g>
<g transform="translate(986.70,193.10) scale(1.0400,1)" fill="#222"><text x="0.00" y="0.00" font-size="11.20">(2p</text><text x="16.19" y="3.14" font-size="7.84">3/2</text><text x="27.09" y="0.00" font-size="11.20">)</text></g>
<line x1="959.80" y1="206.10" x2="966.70" y2="213.40" stroke="#333" stroke-width="0.9"/>
<line x1="1000.40" y1="196.70" x2="999.30" y2="205.50" stroke="#333" stroke-width="0.9"/>
<g transform="translate(905.90,293.90) scale(1.0400,1)" fill="#222"><text x="0.00" y="0.00" font-size="11.20">free Cl</text><text x="32.99" y="-4.70" font-size="7.84">-</text></g>
<g transform="translate(908.10,308.10) scale(1.0400,1)" fill="#222"><text x="0.00" y="0.00" font-size="11.20">(2p</text><text x="16.19" y="3.14" font-size="7.84">1/2</text><text x="27.09" y="0.00" font-size="11.20">)</text></g>
<g transform="translate(971.20,270.00) scale(1.0400,1)" fill="#222"><text x="0.00" y="0.00" font-size="11.20">free Cl</text><text x="32.99" y="-4.70" font-size="7.84">-</text></g>
<g transform="translate(973.60,285.20) scale(1.0400,1)" fill="#222"><text x="0.00" y="0.00" font-size="11.20">(2p</text><text x="16.19" y="3.14" font-size="7.84">3/2</text><text x="27.09" y="0.00" font-size="11.20">)</text></g>
<line x1="938.70" y1="311.80" x2="945.20" y2="319.40" stroke="#333" stroke-width="0.9"/>
<line x1="986.70" y1="287.70" x2="986.70" y2="295.40" stroke="#333" stroke-width="0.9"/>
<line x1="72.30" y1="113.00" x2="77.30" y2="113.00" stroke="#1e1e1e" stroke-width="1.3"/>
<g transform="translate(60.52,116.60) scale(1.0600,1)" fill="#1e1e1e" stroke="#1e1e1e" stroke-width="0.15"><text x="0.00" y="0.00" font-size="11.00">0</text></g>
<line x1="72.30" y1="102.34" x2="75.10" y2="102.34" stroke="#1e1e1e" stroke-width="1.3"/>
<line x1="72.30" y1="91.68" x2="77.30" y2="91.68" stroke="#1e1e1e" stroke-width="1.3"/>
<g transform="translate(41.06,95.28) scale(1.0600,1)" fill="#1e1e1e" stroke="#1e1e1e" stroke-width="0.15"><text x="0.00" y="0.00" font-size="11.00">2000</text></g>
<line x1="72.30" y1="81.02" x2="75.10" y2="81.02" stroke="#1e1e1e" stroke-width="1.3"/>
<line x1="72.30" y1="70.36" x2="77.30" y2="70.36" stroke="#1e1e1e" stroke-width="1.3"/>
<g transform="translate(41.06,73.96) scale(1.0600,1)" fill="#1e1e1e" stroke="#1e1e1e" stroke-width="0.15"><text x="0.00" y="0.00" font-size="11.00">4000</text></g>
<line x1="72.30" y1="59.70" x2="75.10" y2="59.70" stroke="#1e1e1e" stroke-width="1.3"/>
<line x1="72.30" y1="49.04" x2="77.30" y2="49.04" stroke="#1e1e1e" stroke-width="1.3"/>
<g transform="translate(41.06,52.64) scale(1.0600,1)" fill="#1e1e1e" stroke="#1e1e1e" stroke-width="0.15"><text x="0.00" y="0.00" font-size="11.00">6000</text></g>
<line x1="72.30" y1="38.38" x2="75.10" y2="38.38" stroke="#1e1e1e" stroke-width="1.3"/>
<line x1="72.30" y1="27.72" x2="77.30" y2="27.72" stroke="#1e1e1e" stroke-width="1.3"/>
<g transform="translate(41.06,31.32) scale(1.0600,1)" fill="#1e1e1e" stroke="#1e1e1e" stroke-width="0.15"><text x="0.00" y="0.00" font-size="11.00">8000</text></g>
<line x1="72.30" y1="17.06" x2="75.10" y2="17.06" stroke="#1e1e1e" stroke-width="1.3"/>
<line x1="72.30" y1="224.40" x2="77.30" y2="224.40" stroke="#1e1e1e" stroke-width="1.3"/>
<g transform="translate(60.52,228.00) scale(1.0600,1)" fill="#1e1e1e" stroke="#1e1e1e" stroke-width="0.15"><text x="0.00" y="0.00" font-size="11.00">0</text></g>
<line x1="72.30" y1="213.74" x2="75.10" y2="213.74" stroke="#1e1e1e" stroke-width="1.3"/>
<line x1="72.30" y1="203.08" x2="77.30" y2="203.08" stroke="#1e1e1e" stroke-width="1.3"/>
<g transform="translate(41.06,206.68) scale(1.0600,1)" fill="#1e1e1e" stroke="#1e1e1e" stroke-width="0.15"><text x="0.00" y="0.00" font-size="11.00">2000</text></g>
<line x1="72.30" y1="192.42" x2="75.10" y2="192.42" stroke="#1e1e1e" stroke-width="1.3"/>
<line x1="72.30" y1="181.76" x2="77.30" y2="181.76" stroke="#1e1e1e" stroke-width="1.3"/>
<g transform="translate(41.06,185.36) scale(1.0600,1)" fill="#1e1e1e" stroke="#1e1e1e" stroke-width="0.15"><text x="0.00" y="0.00" font-size="11.00">4000</text></g>
<line x1="72.30" y1="171.10" x2="75.10" y2="171.10" stroke="#1e1e1e" stroke-width="1.3"/>
<line x1="72.30" y1="160.44" x2="77.30" y2="160.44" stroke="#1e1e1e" stroke-width="1.3"/>
<g transform="translate(41.06,164.04) scale(1.0600,1)" fill="#1e1e1e" stroke="#1e1e1e" stroke-width="0.15"><text x="0.00" y="0.00" font-size="11.00">6000</text></g>
<line x1="72.30" y1="149.78" x2="75.10" y2="149.78" stroke="#1e1e1e" stroke-width="1.3"/>
<line x1="72.30" y1="139.12" x2="77.30" y2="139.12" stroke="#1e1e1e" stroke-width="1.3"/>
<g transform="translate(41.06,142.72) scale(1.0600,1)" fill="#1e1e1e" stroke="#1e1e1e" stroke-width="0.15"><text x="0.00" y="0.00" font-size="11.00">8000</text></g>
<line x1="72.30" y1="128.46" x2="75.10" y2="128.46" stroke="#1e1e1e" stroke-width="1.3"/>
<line x1="72.30" y1="336.40" x2="77.30" y2="336.40" stroke="#1e1e1e" stroke-width="1.3"/>
<g transform="translate(60.52,340.00) scale(1.0600,1)" fill="#1e1e1e" stroke="#1e1e1e" stroke-width="0.15"><text x="0.00" y="0.00" font-size="11.00">0</text></g>
<line x1="72.30" y1="325.74" x2="75.10" y2="325.74" stroke="#1e1e1e" stroke-width="1.3"/>
<line x1="72.30" y1="315.08" x2="77.30" y2="315.08" stroke="#1e1e1e" stroke-width="1.3"/>
<g transform="translate(41.06,318.68) scale(1.0600,1)" fill="#1e1e1e" stroke="#1e1e1e" stroke-width="0.15"><text x="0.00" y="0.00" font-size="11.00">2000</text></g>
<line x1="72.30" y1="304.42" x2="75.10" y2="304.42" stroke="#1e1e1e" stroke-width="1.3"/>
<line x1="72.30" y1="293.76" x2="77.30" y2="293.76" stroke="#1e1e1e" stroke-width="1.3"/>
<g transform="translate(41.06,297.36) scale(1.0600,1)" fill="#1e1e1e" stroke="#1e1e1e" stroke-width="0.15"><text x="0.00" y="0.00" font-size="11.00">4000</text></g>
<line x1="72.30" y1="283.10" x2="75.10" y2="283.10" stroke="#1e1e1e" stroke-width="1.3"/>
<line x1="72.30" y1="272.44" x2="77.30" y2="272.44" stroke="#1e1e1e" stroke-width="1.3"/>
<g transform="translate(41.06,276.04) scale(1.0600,1)" fill="#1e1e1e" stroke="#1e1e1e" stroke-width="0.15"><text x="0.00" y="0.00" font-size="11.00">6000</text></g>
<line x1="72.30" y1="261.78" x2="75.10" y2="261.78" stroke="#1e1e1e" stroke-width="1.3"/>
<line x1="72.30" y1="251.12" x2="77.30" y2="251.12" stroke="#1e1e1e" stroke-width="1.3"/>
<g transform="translate(41.06,254.72) scale(1.0600,1)" fill="#1e1e1e" stroke="#1e1e1e" stroke-width="0.15"><text x="0.00" y="0.00" font-size="11.00">8000</text></g>
<line x1="72.30" y1="240.46" x2="75.10" y2="240.46" stroke="#1e1e1e" stroke-width="1.3"/>
<line x1="83.34" y1="342.0" x2="83.34" y2="337.00" stroke="#1e1e1e" stroke-width="1.3"/>
<g transform="translate(73.43,355.40) scale(1.0800,1)" fill="#1e1e1e" stroke="#1e1e1e" stroke-width="0.15"><text x="0.00" y="0.00" font-size="11.00">456</text></g>
<line x1="127.51" y1="342.0" x2="127.51" y2="337.00" stroke="#1e1e1e" stroke-width="1.3"/>
<g transform="translate(117.59,355.40) scale(1.0800,1)" fill="#1e1e1e" stroke="#1e1e1e" stroke-width="0.15"><text x="0.00" y="0.00" font-size="11.00">452</text></g>
<line x1="171.67" y1="342.0" x2="171.67" y2="337.00" stroke="#1e1e1e" stroke-width="1.3"/>
<g transform="translate(161.76,355.40) scale(1.0800,1)" fill="#1e1e1e" stroke="#1e1e1e" stroke-width="0.15"><text x="0.00" y="0.00" font-size="11.00">448</text></g>
<line x1="215.84" y1="342.0" x2="215.84" y2="337.00" stroke="#1e1e1e" stroke-width="1.3"/>
<g transform="translate(205.92,355.40) scale(1.0800,1)" fill="#1e1e1e" stroke="#1e1e1e" stroke-width="0.15"><text x="0.00" y="0.00" font-size="11.00">444</text></g>
<line x1="260.00" y1="342.0" x2="260.00" y2="337.00" stroke="#1e1e1e" stroke-width="1.3"/>
<g transform="translate(250.09,355.40) scale(1.0800,1)" fill="#1e1e1e" stroke="#1e1e1e" stroke-width="0.15"><text x="0.00" y="0.00" font-size="11.00">440</text></g>
<line x1="105.42" y1="342.0" x2="105.42" y2="339.20" stroke="#1e1e1e" stroke-width="1.3"/>
<line x1="149.59" y1="342.0" x2="149.59" y2="339.20" stroke="#1e1e1e" stroke-width="1.3"/>
<line x1="193.75" y1="342.0" x2="193.75" y2="339.20" stroke="#1e1e1e" stroke-width="1.3"/>
<line x1="237.92" y1="342.0" x2="237.92" y2="339.20" stroke="#1e1e1e" stroke-width="1.3"/>
<rect x="72.30" y="7.00" width="187.70" height="335.00" fill="none" stroke="#3a3a3a" stroke-width="1.5"/>
<line x1="72.30" y1="118.40" x2="260.00" y2="118.40" stroke="#3a3a3a" stroke-width="1.5"/>
<line x1="72.30" y1="230.50" x2="260.00" y2="230.50" stroke="#3a3a3a" stroke-width="1.5"/>
<g transform="translate(90.65,379.80) scale(1.0357,1)" fill="#1e1e1e" stroke="#1e1e1e" stroke-width="0.15"><text x="0.00" y="0.00" font-size="16.60">Binding evergy (eV)</text></g>
<g transform="translate(32.50,168.40) rotate(-90)">
<g transform="translate(-54.25,0.00) scale(1.0316,1)" fill="#1e1e1e" stroke="#1e1e1e" stroke-width="0.15"><text x="0.00" y="0.00" font-size="16.60">Intensity (a.u.)</text></g>
</g>
<g transform="translate(5.60,26.90) scale(1.0000,1)" fill="#111"><text x="0.00" y="0.00" font-size="25.50">a</text></g>
<line x1="344.80" y1="109.70" x2="349.80" y2="109.70" stroke="#1e1e1e" stroke-width="1.3"/>
<g transform="translate(333.02,113.30) scale(1.0600,1)" fill="#1e1e1e" stroke="#1e1e1e" stroke-width="0.15"><text x="0.00" y="0.00" font-size="11.00">0</text></g>
<line x1="344.80" y1="101.00" x2="347.60" y2="101.00" stroke="#1e1e1e" stroke-width="1.3"/>
<line x1="344.80" y1="92.30" x2="349.80" y2="92.30" stroke="#1e1e1e" stroke-width="1.3"/>
<g transform="translate(320.05,95.90) scale(1.0600,1)" fill="#1e1e1e" stroke="#1e1e1e" stroke-width="0.15"><text x="0.00" y="0.00" font-size="11.00">100</text></g>
<line x1="344.80" y1="83.60" x2="347.60" y2="83.60" stroke="#1e1e1e" stroke-width="1.3"/>
<line x1="344.80" y1="74.90" x2="349.80" y2="74.90" stroke="#1e1e1e" stroke-width="1.3"/>
<g transform="translate(320.05,78.50) scale(1.0600,1)" fill="#1e1e1e" stroke="#1e1e1e" stroke-width="0.15"><text x="0.00" y="0.00" font-size="11.00">200</text></g>
<line x1="344.80" y1="66.20" x2="347.60" y2="66.20" stroke="#1e1e1e" stroke-width="1.3"/>
<line x1="344.80" y1="57.50" x2="349.80" y2="57.50" stroke="#1e1e1e" stroke-width="1.3"/>
<g transform="translate(320.05,61.10) scale(1.0600,1)" fill="#1e1e1e" stroke="#1e1e1e" stroke-width="0.15"><text x="0.00" y="0.00" font-size="11.00">300</text></g>
<line x1="344.80" y1="48.80" x2="347.60" y2="48.80" stroke="#1e1e1e" stroke-width="1.3"/>
<line x1="344.80" y1="40.10" x2="349.80" y2="40.10" stroke="#1e1e1e" stroke-width="1.3"/>
<g transform="translate(320.05,43.70) scale(1.0600,1)" fill="#1e1e1e" stroke="#1e1e1e" stroke-width="0.15"><text x="0.00" y="0.00" font-size="11.00">400</text></g>
<line x1="344.80" y1="31.40" x2="347.60" y2="31.40" stroke="#1e1e1e" stroke-width="1.3"/>
<line x1="344.80" y1="22.70" x2="349.80" y2="22.70" stroke="#1e1e1e" stroke-width="1.3"/>
<g transform="translate(320.05,26.30) scale(1.0600,1)" fill="#1e1e1e" stroke="#1e1e1e" stroke-width="0.15"><text x="0.00" y="0.00" font-size="11.00">500</text></g>
<line x1="344.80" y1="14.00" x2="347.60" y2="14.00" stroke="#1e1e1e" stroke-width="1.3"/>
<line x1="344.80" y1="222.00" x2="349.80" y2="222.00" stroke="#1e1e1e" stroke-width="1.3"/>
<g transform="translate(333.02,225.60) scale(1.0600,1)" fill="#1e1e1e" stroke="#1e1e1e" stroke-width="0.15"><text x="0.00" y="0.00" font-size="11.00">0</text></g>
<line x1="344.80" y1="213.30" x2="347.60" y2="213.30" stroke="#1e1e1e" stroke-width="1.3"/>
<line x1="344.80" y1="204.60" x2="349.80" y2="204.60" stroke="#1e1e1e" stroke-width="1.3"/>
<g transform="translate(320.05,208.20) scale(1.0600,1)" fill="#1e1e1e" stroke="#1e1e1e" stroke-width="0.15"><text x="0.00" y="0.00" font-size="11.00">100</text></g>
<line x1="344.80" y1="195.90" x2="347.60" y2="195.90" stroke="#1e1e1e" stroke-width="1.3"/>
<line x1="344.80" y1="187.20" x2="349.80" y2="187.20" stroke="#1e1e1e" stroke-width="1.3"/>
<g transform="translate(320.05,190.80) scale(1.0600,1)" fill="#1e1e1e" stroke="#1e1e1e" stroke-width="0.15"><text x="0.00" y="0.00" font-size="11.00">200</text></g>
<line x1="344.80" y1="178.50" x2="347.60" y2="178.50" stroke="#1e1e1e" stroke-width="1.3"/>
<line x1="344.80" y1="169.80" x2="349.80" y2="169.80" stroke="#1e1e1e" stroke-width="1.3"/>
<g transform="translate(320.05,173.40) scale(1.0600,1)" fill="#1e1e1e" stroke="#1e1e1e" stroke-width="0.15"><text x="0.00" y="0.00" font-size="11.00">300</text></g>
<line x1="344.80" y1="161.10" x2="347.60" y2="161.10" stroke="#1e1e1e" stroke-width="1.3"/>
<line x1="344.80" y1="152.40" x2="349.80" y2="152.40" stroke="#1e1e1e" stroke-width="1.3"/>
<g transform="translate(320.05,156.00) scale(1.0600,1)" fill="#1e1e1e" stroke="#1e1e1e" stroke-width="0.15"><text x="0.00" y="0.00" font-size="11.00">400</text></g>
<line x1="344.80" y1="143.70" x2="347.60" y2="143.70" stroke="#1e1e1e" stroke-width="1.3"/>
<line x1="344.80" y1="135.00" x2="349.80" y2="135.00" stroke="#1e1e1e" stroke-width="1.3"/>
<g transform="translate(320.05,138.60) scale(1.0600,1)" fill="#1e1e1e" stroke="#1e1e1e" stroke-width="0.15"><text x="0.00" y="0.00" font-size="11.00">500</text></g>
<line x1="344.80" y1="126.30" x2="347.60" y2="126.30" stroke="#1e1e1e" stroke-width="1.3"/>
<line x1="344.80" y1="333.00" x2="349.80" y2="333.00" stroke="#1e1e1e" stroke-width="1.3"/>
<g transform="translate(333.02,336.60) scale(1.0600,1)" fill="#1e1e1e" stroke="#1e1e1e" stroke-width="0.15"><text x="0.00" y="0.00" font-size="11.00">0</text></g>
<line x1="344.80" y1="324.30" x2="347.60" y2="324.30" stroke="#1e1e1e" stroke-width="1.3"/>
<line x1="344.80" y1="315.60" x2="349.80" y2="315.60" stroke="#1e1e1e" stroke-width="1.3"/>
<g transform="translate(320.05,319.20) scale(1.0600,1)" fill="#1e1e1e" stroke="#1e1e1e" stroke-width="0.15"><text x="0.00" y="0.00" font-size="11.00">100</text></g>
<line x1="344.80" y1="306.90" x2="347.60" y2="306.90" stroke="#1e1e1e" stroke-width="1.3"/>
<line x1="344.80" y1="298.20" x2="349.80" y2="298.20" stroke="#1e1e1e" stroke-width="1.3"/>
<g transform="translate(320.05,301.80) scale(1.0600,1)" fill="#1e1e1e" stroke="#1e1e1e" stroke-width="0.15"><text x="0.00" y="0.00" font-size="11.00">200</text></g>
<line x1="344.80" y1="289.50" x2="347.60" y2="289.50" stroke="#1e1e1e" stroke-width="1.3"/>
<line x1="344.80" y1="280.80" x2="349.80" y2="280.80" stroke="#1e1e1e" stroke-width="1.3"/>
<g transform="translate(320.05,284.40) scale(1.0600,1)" fill="#1e1e1e" stroke="#1e1e1e" stroke-width="0.15"><text x="0.00" y="0.00" font-size="11.00">300</text></g>
<line x1="344.80" y1="272.10" x2="347.60" y2="272.10" stroke="#1e1e1e" stroke-width="1.3"/>
<line x1="344.80" y1="263.40" x2="349.80" y2="263.40" stroke="#1e1e1e" stroke-width="1.3"/>
<g transform="translate(320.05,267.00) scale(1.0600,1)" fill="#1e1e1e" stroke="#1e1e1e" stroke-width="0.15"><text x="0.00" y="0.00" font-size="11.00">400</text></g>
<line x1="344.80" y1="254.70" x2="347.60" y2="254.70" stroke="#1e1e1e" stroke-width="1.3"/>
<line x1="344.80" y1="246.00" x2="349.80" y2="246.00" stroke="#1e1e1e" stroke-width="1.3"/>
<g transform="translate(320.05,249.60) scale(1.0600,1)" fill="#1e1e1e" stroke="#1e1e1e" stroke-width="0.15"><text x="0.00" y="0.00" font-size="11.00">500</text></g>
<line x1="344.80" y1="237.30" x2="347.60" y2="237.30" stroke="#1e1e1e" stroke-width="1.3"/>
<line x1="344.80" y1="342.0" x2="344.80" y2="337.00" stroke="#1e1e1e" stroke-width="1.3"/>
<g transform="translate(334.89,355.40) scale(1.0800,1)" fill="#1e1e1e" stroke="#1e1e1e" stroke-width="0.15"><text x="0.00" y="0.00" font-size="11.00">137</text></g>
<line x1="376.08" y1="342.0" x2="376.08" y2="337.00" stroke="#1e1e1e" stroke-width="1.3"/>
<g transform="translate(366.17,355.40) scale(1.0800,1)" fill="#1e1e1e" stroke="#1e1e1e" stroke-width="0.15"><text x="0.00" y="0.00" font-size="11.00">135</text></g>
<line x1="407.37" y1="342.0" x2="407.37" y2="337.00" stroke="#1e1e1e" stroke-width="1.3"/>
<g transform="translate(397.46,355.40) scale(1.0800,1)" fill="#1e1e1e" stroke="#1e1e1e" stroke-width="0.15"><text x="0.00" y="0.00" font-size="11.00">133</text></g>
<line x1="438.65" y1="342.0" x2="438.65" y2="337.00" stroke="#1e1e1e" stroke-width="1.3"/>
<g transform="translate(428.74,355.40) scale(1.0800,1)" fill="#1e1e1e" stroke="#1e1e1e" stroke-width="0.15"><text x="0.00" y="0.00" font-size="11.00">131</text></g>
<line x1="469.93" y1="342.0" x2="469.93" y2="337.00" stroke="#1e1e1e" stroke-width="1.3"/>
<g transform="translate(460.02,355.40) scale(1.0800,1)" fill="#1e1e1e" stroke="#1e1e1e" stroke-width="0.15"><text x="0.00" y="0.00" font-size="11.00">129</text></g>
<line x1="501.22" y1="342.0" x2="501.22" y2="337.00" stroke="#1e1e1e" stroke-width="1.3"/>
<g transform="translate(491.31,355.40) scale(1.0800,1)" fill="#1e1e1e" stroke="#1e1e1e" stroke-width="0.15"><text x="0.00" y="0.00" font-size="11.00">127</text></g>
<line x1="532.50" y1="342.0" x2="532.50" y2="337.00" stroke="#1e1e1e" stroke-width="1.3"/>
<g transform="translate(522.59,355.40) scale(1.0800,1)" fill="#1e1e1e" stroke="#1e1e1e" stroke-width="0.15"><text x="0.00" y="0.00" font-size="11.00">125</text></g>
<line x1="360.44" y1="342.0" x2="360.44" y2="339.20" stroke="#1e1e1e" stroke-width="1.3"/>
<line x1="391.73" y1="342.0" x2="391.73" y2="339.20" stroke="#1e1e1e" stroke-width="1.3"/>
<line x1="423.01" y1="342.0" x2="423.01" y2="339.20" stroke="#1e1e1e" stroke-width="1.3"/>
<line x1="454.29" y1="342.0" x2="454.29" y2="339.20" stroke="#1e1e1e" stroke-width="1.3"/>
<line x1="485.57" y1="342.0" x2="485.57" y2="339.20" stroke="#1e1e1e" stroke-width="1.3"/>
<line x1="516.86" y1="342.0" x2="516.86" y2="339.20" stroke="#1e1e1e" stroke-width="1.3"/>
<rect x="344.80" y="7.00" width="187.70" height="335.00" fill="none" stroke="#3a3a3a" stroke-width="1.5"/>
<line x1="344.80" y1="118.40" x2="532.50" y2="118.40" stroke="#3a3a3a" stroke-width="1.5"/>
<line x1="344.80" y1="230.50" x2="532.50" y2="230.50" stroke="#3a3a3a" stroke-width="1.5"/>
<g transform="translate(363.15,379.80) scale(1.0291,1)" fill="#1e1e1e" stroke="#1e1e1e" stroke-width="0.15"><text x="0.00" y="0.00" font-size="16.60">Binding energy (eV)</text></g>
<g transform="translate(307.90,168.10) rotate(-90)">
<g transform="translate(-54.25,0.00) scale(1.0316,1)" fill="#1e1e1e" stroke="#1e1e1e" stroke-width="0.15"><text x="0.00" y="0.00" font-size="16.60">Intensity (a.u.)</text></g>
</g>
<g transform="translate(278.00,26.50) scale(1.0000,1)" fill="#111"><text x="0.00" y="0.00" font-size="25.50">b</text></g>
<line x1="618.00" y1="110.00" x2="623.00" y2="110.00" stroke="#1e1e1e" stroke-width="1.3"/>
<g transform="translate(606.22,113.60) scale(1.0600,1)" fill="#1e1e1e" stroke="#1e1e1e" stroke-width="0.15"><text x="0.00" y="0.00" font-size="11.00">0</text></g>
<line x1="618.00" y1="99.19" x2="620.80" y2="99.19" stroke="#1e1e1e" stroke-width="1.3"/>
<line x1="618.00" y1="88.38" x2="623.00" y2="88.38" stroke="#1e1e1e" stroke-width="1.3"/>
<g transform="translate(593.25,91.98) scale(1.0600,1)" fill="#1e1e1e" stroke="#1e1e1e" stroke-width="0.15"><text x="0.00" y="0.00" font-size="11.00">200</text></g>
<line x1="618.00" y1="77.57" x2="620.80" y2="77.57" stroke="#1e1e1e" stroke-width="1.3"/>
<line x1="618.00" y1="66.76" x2="623.00" y2="66.76" stroke="#1e1e1e" stroke-width="1.3"/>
<g transform="translate(593.25,70.36) scale(1.0600,1)" fill="#1e1e1e" stroke="#1e1e1e" stroke-width="0.15"><text x="0.00" y="0.00" font-size="11.00">400</text></g>
<line x1="618.00" y1="55.95" x2="620.80" y2="55.95" stroke="#1e1e1e" stroke-width="1.3"/>
<line x1="618.00" y1="45.14" x2="623.00" y2="45.14" stroke="#1e1e1e" stroke-width="1.3"/>
<g transform="translate(593.25,48.74) scale(1.0600,1)" fill="#1e1e1e" stroke="#1e1e1e" stroke-width="0.15"><text x="0.00" y="0.00" font-size="11.00">600</text></g>
<line x1="618.00" y1="34.33" x2="620.80" y2="34.33" stroke="#1e1e1e" stroke-width="1.3"/>
<line x1="618.00" y1="23.52" x2="623.00" y2="23.52" stroke="#1e1e1e" stroke-width="1.3"/>
<g transform="translate(593.25,27.12) scale(1.0600,1)" fill="#1e1e1e" stroke="#1e1e1e" stroke-width="0.15"><text x="0.00" y="0.00" font-size="11.00">800</text></g>
<line x1="618.00" y1="12.71" x2="620.80" y2="12.71" stroke="#1e1e1e" stroke-width="1.3"/>
<line x1="618.00" y1="221.50" x2="623.00" y2="221.50" stroke="#1e1e1e" stroke-width="1.3"/>
<g transform="translate(606.22,225.10) scale(1.0600,1)" fill="#1e1e1e" stroke="#1e1e1e" stroke-width="0.15"><text x="0.00" y="0.00" font-size="11.00">0</text></g>
<line x1="618.00" y1="210.69" x2="620.80" y2="210.69" stroke="#1e1e1e" stroke-width="1.3"/>
<line x1="618.00" y1="199.88" x2="623.00" y2="199.88" stroke="#1e1e1e" stroke-width="1.3"/>
<g transform="translate(593.25,203.48) scale(1.0600,1)" fill="#1e1e1e" stroke="#1e1e1e" stroke-width="0.15"><text x="0.00" y="0.00" font-size="11.00">200</text></g>
<line x1="618.00" y1="189.07" x2="620.80" y2="189.07" stroke="#1e1e1e" stroke-width="1.3"/>
<line x1="618.00" y1="178.26" x2="623.00" y2="178.26" stroke="#1e1e1e" stroke-width="1.3"/>
<g transform="translate(593.25,181.86) scale(1.0600,1)" fill="#1e1e1e" stroke="#1e1e1e" stroke-width="0.15"><text x="0.00" y="0.00" font-size="11.00">400</text></g>
<line x1="618.00" y1="167.45" x2="620.80" y2="167.45" stroke="#1e1e1e" stroke-width="1.3"/>
<line x1="618.00" y1="156.64" x2="623.00" y2="156.64" stroke="#1e1e1e" stroke-width="1.3"/>
<g transform="translate(593.25,160.24) scale(1.0600,1)" fill="#1e1e1e" stroke="#1e1e1e" stroke-width="0.15"><text x="0.00" y="0.00" font-size="11.00">600</text></g>
<line x1="618.00" y1="145.83" x2="620.80" y2="145.83" stroke="#1e1e1e" stroke-width="1.3"/>
<line x1="618.00" y1="135.02" x2="623.00" y2="135.02" stroke="#1e1e1e" stroke-width="1.3"/>
<g transform="translate(593.25,138.62) scale(1.0600,1)" fill="#1e1e1e" stroke="#1e1e1e" stroke-width="0.15"><text x="0.00" y="0.00" font-size="11.00">800</text></g>
<line x1="618.00" y1="124.21" x2="620.80" y2="124.21" stroke="#1e1e1e" stroke-width="1.3"/>
<line x1="618.00" y1="333.30" x2="623.00" y2="333.30" stroke="#1e1e1e" stroke-width="1.3"/>
<g transform="translate(606.22,336.90) scale(1.0600,1)" fill="#1e1e1e" stroke="#1e1e1e" stroke-width="0.15"><text x="0.00" y="0.00" font-size="11.00">0</text></g>
<line x1="618.00" y1="322.49" x2="620.80" y2="322.49" stroke="#1e1e1e" stroke-width="1.3"/>
<line x1="618.00" y1="311.68" x2="623.00" y2="311.68" stroke="#1e1e1e" stroke-width="1.3"/>
<g transform="translate(593.25,315.28) scale(1.0600,1)" fill="#1e1e1e" stroke="#1e1e1e" stroke-width="0.15"><text x="0.00" y="0.00" font-size="11.00">200</text></g>
<line x1="618.00" y1="300.87" x2="620.80" y2="300.87" stroke="#1e1e1e" stroke-width="1.3"/>
<line x1="618.00" y1="290.06" x2="623.00" y2="290.06" stroke="#1e1e1e" stroke-width="1.3"/>
<g transform="translate(593.25,293.66) scale(1.0600,1)" fill="#1e1e1e" stroke="#1e1e1e" stroke-width="0.15"><text x="0.00" y="0.00" font-size="11.00">400</text></g>
<line x1="618.00" y1="279.25" x2="620.80" y2="279.25" stroke="#1e1e1e" stroke-width="1.3"/>
<line x1="618.00" y1="268.44" x2="623.00" y2="268.44" stroke="#1e1e1e" stroke-width="1.3"/>
<g transform="translate(593.25,272.04) scale(1.0600,1)" fill="#1e1e1e" stroke="#1e1e1e" stroke-width="0.15"><text x="0.00" y="0.00" font-size="11.00">600</text></g>
<line x1="618.00" y1="257.63" x2="620.80" y2="257.63" stroke="#1e1e1e" stroke-width="1.3"/>
<line x1="618.00" y1="246.82" x2="623.00" y2="246.82" stroke="#1e1e1e" stroke-width="1.3"/>
<g transform="translate(593.25,250.42) scale(1.0600,1)" fill="#1e1e1e" stroke="#1e1e1e" stroke-width="0.15"><text x="0.00" y="0.00" font-size="11.00">800</text></g>
<line x1="618.00" y1="236.01" x2="620.80" y2="236.01" stroke="#1e1e1e" stroke-width="1.3"/>
<line x1="638.87" y1="342.0" x2="638.87" y2="337.00" stroke="#1e1e1e" stroke-width="1.3"/>
<g transform="translate(628.96,355.40) scale(1.0800,1)" fill="#1e1e1e" stroke="#1e1e1e" stroke-width="0.15"><text x="0.00" y="0.00" font-size="11.00">404</text></g>
<line x1="680.60" y1="342.0" x2="680.60" y2="337.00" stroke="#1e1e1e" stroke-width="1.3"/>
<g transform="translate(670.69,355.40) scale(1.0800,1)" fill="#1e1e1e" stroke="#1e1e1e" stroke-width="0.15"><text x="0.00" y="0.00" font-size="11.00">402</text></g>
<line x1="722.33" y1="342.0" x2="722.33" y2="337.00" stroke="#1e1e1e" stroke-width="1.3"/>
<g transform="translate(712.42,355.40) scale(1.0800,1)" fill="#1e1e1e" stroke="#1e1e1e" stroke-width="0.15"><text x="0.00" y="0.00" font-size="11.00">400</text></g>
<line x1="764.07" y1="342.0" x2="764.07" y2="337.00" stroke="#1e1e1e" stroke-width="1.3"/>
<g transform="translate(754.16,355.40) scale(1.0800,1)" fill="#1e1e1e" stroke="#1e1e1e" stroke-width="0.15"><text x="0.00" y="0.00" font-size="11.00">398</text></g>
<line x1="805.80" y1="342.0" x2="805.80" y2="337.00" stroke="#1e1e1e" stroke-width="1.3"/>
<g transform="translate(795.89,355.40) scale(1.0800,1)" fill="#1e1e1e" stroke="#1e1e1e" stroke-width="0.15"><text x="0.00" y="0.00" font-size="11.00">396</text></g>
<line x1="659.73" y1="342.0" x2="659.73" y2="339.20" stroke="#1e1e1e" stroke-width="1.3"/>
<line x1="701.47" y1="342.0" x2="701.47" y2="339.20" stroke="#1e1e1e" stroke-width="1.3"/>
<line x1="743.20" y1="342.0" x2="743.20" y2="339.20" stroke="#1e1e1e" stroke-width="1.3"/>
<line x1="784.93" y1="342.0" x2="784.93" y2="339.20" stroke="#1e1e1e" stroke-width="1.3"/>
<rect x="618.00" y="7.00" width="187.80" height="335.00" fill="none" stroke="#3a3a3a" stroke-width="1.5"/>
<line x1="618.00" y1="118.40" x2="805.80" y2="118.40" stroke="#3a3a3a" stroke-width="1.5"/>
<line x1="618.00" y1="230.50" x2="805.80" y2="230.50" stroke="#3a3a3a" stroke-width="1.5"/>
<g transform="translate(636.40,379.80) scale(1.0291,1)" fill="#1e1e1e" stroke="#1e1e1e" stroke-width="0.15"><text x="0.00" y="0.00" font-size="16.60">Binding energy (eV)</text></g>
<g transform="translate(581.00,168.00) rotate(-90)">
<g transform="translate(-54.25,0.00) scale(1.0316,1)" fill="#1e1e1e" stroke="#1e1e1e" stroke-width="0.15"><text x="0.00" y="0.00" font-size="16.60">Intensity (a.u.)</text></g>
</g>
<g transform="translate(550.10,27.80) scale(1.0000,1)" fill="#111"><text x="0.00" y="0.00" font-size="25.50">c</text></g>
<line x1="890.50" y1="109.40" x2="895.50" y2="109.40" stroke="#1e1e1e" stroke-width="1.3"/>
<g transform="translate(878.72,113.00) scale(1.0600,1)" fill="#1e1e1e" stroke="#1e1e1e" stroke-width="0.15"><text x="0.00" y="0.00" font-size="11.00">0</text></g>
<line x1="890.50" y1="97.34" x2="893.30" y2="97.34" stroke="#1e1e1e" stroke-width="1.3"/>
<line x1="890.50" y1="85.28" x2="895.50" y2="85.28" stroke="#1e1e1e" stroke-width="1.3"/>
<g transform="translate(865.75,88.88) scale(1.0600,1)" fill="#1e1e1e" stroke="#1e1e1e" stroke-width="0.15"><text x="0.00" y="0.00" font-size="11.00">400</text></g>
<line x1="890.50" y1="73.22" x2="893.30" y2="73.22" stroke="#1e1e1e" stroke-width="1.3"/>
<line x1="890.50" y1="61.16" x2="895.50" y2="61.16" stroke="#1e1e1e" stroke-width="1.3"/>
<g transform="translate(865.75,64.76) scale(1.0600,1)" fill="#1e1e1e" stroke="#1e1e1e" stroke-width="0.15"><text x="0.00" y="0.00" font-size="11.00">800</text></g>
<line x1="890.50" y1="49.10" x2="893.30" y2="49.10" stroke="#1e1e1e" stroke-width="1.3"/>
<line x1="890.50" y1="37.04" x2="895.50" y2="37.04" stroke="#1e1e1e" stroke-width="1.3"/>
<g transform="translate(859.26,40.64) scale(1.0600,1)" fill="#1e1e1e" stroke="#1e1e1e" stroke-width="0.15"><text x="0.00" y="0.00" font-size="11.00">1200</text></g>
<line x1="890.50" y1="24.98" x2="893.30" y2="24.98" stroke="#1e1e1e" stroke-width="1.3"/>
<line x1="890.50" y1="12.92" x2="895.50" y2="12.92" stroke="#1e1e1e" stroke-width="1.3"/>
<g transform="translate(859.26,16.52) scale(1.0600,1)" fill="#1e1e1e" stroke="#1e1e1e" stroke-width="0.15"><text x="0.00" y="0.00" font-size="11.00">1600</text></g>
<line x1="890.50" y1="220.50" x2="895.50" y2="220.50" stroke="#1e1e1e" stroke-width="1.3"/>
<g transform="translate(878.72,224.10) scale(1.0600,1)" fill="#1e1e1e" stroke="#1e1e1e" stroke-width="0.15"><text x="0.00" y="0.00" font-size="11.00">0</text></g>
<line x1="890.50" y1="201.90" x2="893.30" y2="201.90" stroke="#1e1e1e" stroke-width="1.3"/>
<line x1="890.50" y1="183.30" x2="895.50" y2="183.30" stroke="#1e1e1e" stroke-width="1.3"/>
<g transform="translate(865.75,186.90) scale(1.0600,1)" fill="#1e1e1e" stroke="#1e1e1e" stroke-width="0.15"><text x="0.00" y="0.00" font-size="11.00">200</text></g>
<line x1="890.50" y1="164.70" x2="893.30" y2="164.70" stroke="#1e1e1e" stroke-width="1.3"/>
<line x1="890.50" y1="146.10" x2="895.50" y2="146.10" stroke="#1e1e1e" stroke-width="1.3"/>
<g transform="translate(865.75,149.70) scale(1.0600,1)" fill="#1e1e1e" stroke="#1e1e1e" stroke-width="0.15"><text x="0.00" y="0.00" font-size="11.00">400</text></g>
<line x1="890.50" y1="127.50" x2="893.30" y2="127.50" stroke="#1e1e1e" stroke-width="1.3"/>
<line x1="890.50" y1="331.80" x2="895.50" y2="331.80" stroke="#1e1e1e" stroke-width="1.3"/>
<g transform="translate(878.72,335.40) scale(1.0600,1)" fill="#1e1e1e" stroke="#1e1e1e" stroke-width="0.15"><text x="0.00" y="0.00" font-size="11.00">0</text></g>
<line x1="890.50" y1="313.30" x2="893.30" y2="313.30" stroke="#1e1e1e" stroke-width="1.3"/>
<line x1="890.50" y1="294.80" x2="895.50" y2="294.80" stroke="#1e1e1e" stroke-width="1.3"/>
<g transform="translate(865.75,298.40) scale(1.0600,1)" fill="#1e1e1e" stroke="#1e1e1e" stroke-width="0.15"><text x="0.00" y="0.00" font-size="11.00">200</text></g>
<line x1="890.50" y1="276.30" x2="893.30" y2="276.30" stroke="#1e1e1e" stroke-width="1.3"/>
<line x1="890.50" y1="257.80" x2="895.50" y2="257.80" stroke="#1e1e1e" stroke-width="1.3"/>
<g transform="translate(865.75,261.40) scale(1.0600,1)" fill="#1e1e1e" stroke="#1e1e1e" stroke-width="0.15"><text x="0.00" y="0.00" font-size="11.00">400</text></g>
<line x1="890.50" y1="239.30" x2="893.30" y2="239.30" stroke="#1e1e1e" stroke-width="1.3"/>
<line x1="911.28" y1="342.0" x2="911.28" y2="337.00" stroke="#1e1e1e" stroke-width="1.3"/>
<g transform="translate(901.37,355.40) scale(1.0800,1)" fill="#1e1e1e" stroke="#1e1e1e" stroke-width="0.15"><text x="0.00" y="0.00" font-size="11.00">202</text></g>
<line x1="952.83" y1="342.0" x2="952.83" y2="337.00" stroke="#1e1e1e" stroke-width="1.3"/>
<g transform="translate(942.92,355.40) scale(1.0800,1)" fill="#1e1e1e" stroke="#1e1e1e" stroke-width="0.15"><text x="0.00" y="0.00" font-size="11.00">200</text></g>
<line x1="994.39" y1="342.0" x2="994.39" y2="337.00" stroke="#1e1e1e" stroke-width="1.3"/>
<g transform="translate(984.48,355.40) scale(1.0800,1)" fill="#1e1e1e" stroke="#1e1e1e" stroke-width="0.15"><text x="0.00" y="0.00" font-size="11.00">198</text></g>
<line x1="1035.94" y1="342.0" x2="1035.94" y2="337.00" stroke="#1e1e1e" stroke-width="1.3"/>
<g transform="translate(1026.03,355.40) scale(1.0800,1)" fill="#1e1e1e" stroke="#1e1e1e" stroke-width="0.15"><text x="0.00" y="0.00" font-size="11.00">196</text></g>
<line x1="1077.50" y1="342.0" x2="1077.50" y2="337.00" stroke="#1e1e1e" stroke-width="1.3"/>
<g transform="translate(1067.59,355.40) scale(1.0800,1)" fill="#1e1e1e" stroke="#1e1e1e" stroke-width="0.15"><text x="0.00" y="0.00" font-size="11.00">194</text></g>
<line x1="932.06" y1="342.0" x2="932.06" y2="339.20" stroke="#1e1e1e" stroke-width="1.3"/>
<line x1="973.61" y1="342.0" x2="973.61" y2="339.20" stroke="#1e1e1e" stroke-width="1.3"/>
<line x1="1015.17" y1="342.0" x2="1015.17" y2="339.20" stroke="#1e1e1e" stroke-width="1.3"/>
<line x1="1056.72" y1="342.0" x2="1056.72" y2="339.20" stroke="#1e1e1e" stroke-width="1.3"/>
<rect x="890.50" y="7.00" width="187.00" height="335.00" fill="none" stroke="#3a3a3a" stroke-width="1.5"/>
<line x1="890.50" y1="118.40" x2="1077.50" y2="118.40" stroke="#3a3a3a" stroke-width="1.5"/>
<line x1="890.50" y1="230.50" x2="1077.50" y2="230.50" stroke="#3a3a3a" stroke-width="1.5"/>
<g transform="translate(908.50,379.80) scale(1.0291,1)" fill="#1e1e1e" stroke="#1e1e1e" stroke-width="0.15"><text x="0.00" y="0.00" font-size="16.60">Binding energy (eV)</text></g>
<g transform="translate(854.10,173.90) rotate(-90)">
<g transform="translate(-54.25,0.00) scale(1.0316,1)" fill="#1e1e1e" stroke="#1e1e1e" stroke-width="0.15"><text x="0.00" y="0.00" font-size="16.60">Intensity (a.u.)</text></g>
</g>
<g transform="translate(820.00,27.70) scale(1.0000,1)" fill="#111"><text x="0.00" y="0.00" font-size="25.50">d</text></g>
</svg></body></html>
